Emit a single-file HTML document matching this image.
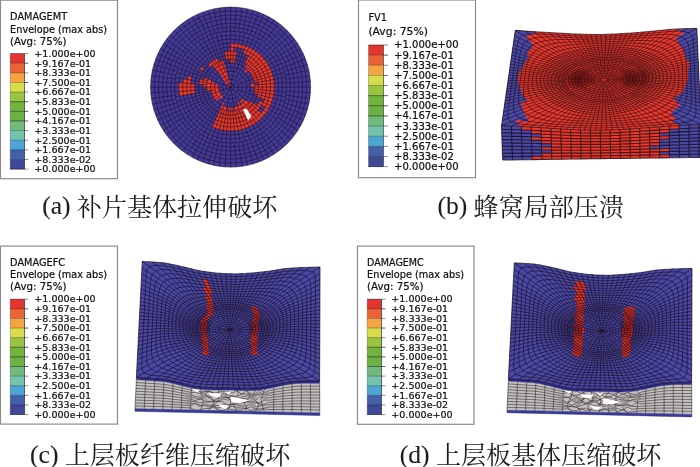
<!DOCTYPE html>
<html lang="zh">
<head>
<meta charset="utf-8">
<title>损伤云图</title>
<style>
html,body{margin:0;padding:0;background:#fff;}
body{width:700px;height:467px;overflow:hidden;position:relative;}
svg{position:absolute;left:0;top:0;display:block;}
.lg{font-family:"DejaVu Sans","Liberation Sans",sans-serif;fill:#111;stroke:#111;stroke-width:0.22px;}

.lat{font-size:25.6px;stroke:#1c1c1c;stroke-width:0.1px;}
.cap{font-family:"Liberation Serif","Noto Serif CJK SC",serif;font-size:25.05px;fill:#1c1c1c;font-weight:400;}
</style>
</head>
<body>
<svg width="700" height="467" viewBox="0 0 700 467">
<rect x="0" y="0" width="700" height="467" fill="#fff"/>
<defs><filter id="soft" x="-5%" y="-5%" width="110%" height="110%"><feGaussianBlur stdDeviation="0.6"/></filter><radialGradient id="dk"><stop offset="0" stop-color="#200" stop-opacity="0.5"/><stop offset="0.6" stop-color="#200" stop-opacity="0.3"/><stop offset="1" stop-color="#200" stop-opacity="0"/></radialGradient><radialGradient id="dk2"><stop offset="0" stop-color="#200" stop-opacity="0.12"/><stop offset="0.7" stop-color="#200" stop-opacity="0.06"/><stop offset="1" stop-color="#200" stop-opacity="0"/></radialGradient><radialGradient id="dk3"><stop offset="0" stop-color="#101" stop-opacity="0.3"/><stop offset="0.6" stop-color="#101" stop-opacity="0.18"/><stop offset="1" stop-color="#101" stop-opacity="0"/></radialGradient></defs>
<g filter="url(#soft)"><circle cx="230.6" cy="87.1" r="80.0" fill="#413a9a"/>
<path d="M230.6 87.1L226.7 86.4A4 4 0 0 1 229.9 83.2L230.6 87.1ZM227.5 84.5L224.5 82A8 8 0 0 1 228.5 79.4L229.6 83.2A4 4 0 0 0 227.5 84.5ZM224.9 81.4L222.1 78.6A12 12 0 0 1 227.5 75.5L228.5 79.4A8 8 0 0 0 224.9 81.4ZM218.6 87.1L214.6 87.1A16 16 0 0 1 214.8 84.3L218.8 85A12 12 0 0 0 218.6 87.1ZM222.9 77.9L220.3 74.8A16 16 0 0 1 226.5 71.6L227.5 75.5A12 12 0 0 0 222.9 77.9ZM222.9 96.3L220.3 99.4A16 16 0 0 1 214.6 87.1L218.6 87.1A12 12 0 0 0 222.9 96.3ZM214.6 87.1L210.6 87.1A20 20 0 0 1 211.3 81.9L215.1 83A16 16 0 0 0 214.6 87.1ZM220.3 74.8L217.7 71.8A20 20 0 0 1 225.4 67.8L226.5 71.6A16 16 0 0 0 220.3 74.8ZM241.9 98.4L244.7 101.2A20 20 0 0 1 242.1 103.5L239.8 100.2A16 16 0 0 0 241.9 98.4ZM238.6 101L240.6 104.4A20 20 0 0 1 239.1 105.2L237.4 101.6A16 16 0 0 0 238.6 101ZM225.1 102.1L223.8 105.9A20 20 0 0 1 222.1 105.2L223.8 101.6A16 16 0 0 0 225.1 102.1ZM219.3 98.4L216.5 101.2A20 20 0 0 1 210.6 87.1L214.6 87.1A16 16 0 0 0 219.3 98.4ZM210.6 87.1L206.6 87.1A24 24 0 0 1 208 78.9L211.8 80.3A20 20 0 0 0 210.6 87.1ZM217.7 71.8L215.2 68.7A24 24 0 0 1 224.4 63.9L225.4 67.8A20 20 0 0 0 217.7 71.8ZM243.5 71.8L246 68.7A24 24 0 0 1 247.6 70.1L244.7 73A20 20 0 0 0 243.5 71.8ZM250.3 83.6L254.2 82.9A24 24 0 0 1 254.6 87.1L250.6 87.1A20 20 0 0 0 250.3 83.6ZM245.9 100L249 102.5A24 24 0 0 1 234.8 110.7L234.1 106.8A20 20 0 0 0 245.9 100ZM232.3 107L232.7 111A24 24 0 0 1 228.5 111L228.9 107A20 20 0 0 0 232.3 107ZM227.1 106.8L226.4 110.7A24 24 0 0 1 220.5 108.9L222.1 105.2A20 20 0 0 0 227.1 106.8ZM210.9 90.6L207 91.3A24 24 0 0 1 206.6 87.1L210.6 87.1A20 20 0 0 0 210.9 90.6ZM206.6 87.1L202.6 87.1A28 28 0 0 1 204.3 77.5L208 78.9A24 24 0 0 0 206.6 87.1ZM215.2 68.7L212.6 65.7A28 28 0 0 1 223.4 60.1L224.4 63.9A24 24 0 0 0 215.2 68.7ZM230.6 63.1L230.6 59.1A28 28 0 0 1 235.5 59.5L234.8 63.5A24 24 0 0 0 230.6 63.1ZM244.4 67.4L246.7 64.2A28 28 0 0 1 258.2 82.2L254.2 82.9A24 24 0 0 0 244.4 67.4ZM254.5 85L258.5 84.7A28 28 0 0 1 257.6 94.3L253.8 93.3A24 24 0 0 0 254.5 85ZM250.3 100.9L253.5 103.2A28 28 0 0 1 218.8 112.5L220.5 108.9A24 24 0 0 0 250.3 100.9ZM202.7 84.7L198.7 84.3A32 32 0 0 1 199.7 78.8L203.6 79.9A28 28 0 0 0 202.7 84.7ZM210.8 67.3L208 64.5A32 32 0 0 1 217.1 58.1L218.8 61.7A28 28 0 0 0 210.8 67.3ZM225.7 59.5L225 55.6A32 32 0 0 1 236.2 55.6L235.5 59.5A28 28 0 0 0 225.7 59.5ZM244.6 62.9L246.6 59.4A32 32 0 0 1 260.7 98L256.9 96.7A28 28 0 0 0 244.6 62.9ZM253.5 103.2L256.8 105.5A32 32 0 0 1 217.1 116.1L218.8 112.5A28 28 0 0 0 253.5 103.2ZM202.9 71.1L199.4 69.1A36 36 0 0 1 201.1 66.5L204.4 68.7A32 32 0 0 0 202.9 71.1ZM225 55.6L224.3 51.6A36 36 0 0 1 236.9 51.6L236.2 55.6A32 32 0 0 0 225 55.6ZM246.6 59.4L248.6 55.9A36 36 0 0 1 264.4 99.4L260.7 98A32 32 0 0 0 246.6 59.4ZM259.6 100.6L263.2 102.3A36 36 0 0 1 215.4 119.7L217.1 116.1A32 32 0 0 0 259.6 100.6ZM194.6 87.1L190.6 87.1A40 40 0 0 1 190.8 83.6L194.7 84A36 36 0 0 0 194.6 87.1ZM230.6 51.1L230.6 47.1A40 40 0 0 1 234.1 47.3L233.7 51.2A36 36 0 0 0 230.6 51.1ZM242.9 53.3L244.3 49.5A40 40 0 0 1 265.2 107.1L261.8 105.1A36 36 0 0 0 242.9 53.3ZM258.2 110.2L261.2 112.8A40 40 0 0 1 213.7 123.4L215.4 119.7A36 36 0 0 0 258.2 110.2ZM195.1 93.4L191.2 94A40 40 0 0 1 190.6 87.1L194.6 87.1A36 36 0 0 0 195.1 93.4ZM190.6 87.1L186.6 87.1A44 44 0 0 1 188.1 75.7L192 76.7A40 40 0 0 0 190.6 87.1ZM230.6 47.1L230.6 43.1A44 44 0 0 1 273.9 94.7L270 94A40 40 0 0 0 230.6 47.1ZM270 94L273.9 94.7A44 44 0 0 1 215.6 128.4L216.9 124.7A40 40 0 0 0 270 94ZM216.9 124.7L215.6 128.4A44 44 0 0 1 212 127L213.7 123.4A40 40 0 0 0 216.9 124.7ZM191.2 94L187.3 94.7A44 44 0 0 1 186.6 87.1L190.6 87.1A40 40 0 0 0 191.2 94ZM186.6 87.1L182.6 87.1A48 48 0 0 1 183.3 78.8L187.3 79.5A44 44 0 0 0 186.6 87.1ZM187.3 94.7L183.3 95.4A48 48 0 0 1 182.6 87.1L186.6 87.1A44 44 0 0 0 187.3 94.7ZM182.6 87.1L178.6 87.1A52 52 0 0 1 178.8 82.6L182.8 82.9A48 48 0 0 0 182.6 87.1ZM183.3 95.4L179.4 96.1A52 52 0 0 1 178.6 87.1L182.6 87.1A48 48 0 0 0 183.3 95.4Z" fill="#ea382c"/>
<path d="M226.6 87.1A4 4 0 1 0 234.6 87.1A4 4 0 1 0 226.6 87.1M222.6 87.1A8 8 0 1 0 238.6 87.1A8 8 0 1 0 222.6 87.1M218.6 87.1A12 12 0 1 0 242.6 87.1A12 12 0 1 0 218.6 87.1M214.6 87.1A16 16 0 1 0 246.6 87.1A16 16 0 1 0 214.6 87.1M210.6 87.1A20 20 0 1 0 250.6 87.1A20 20 0 1 0 210.6 87.1M206.6 87.1A24 24 0 1 0 254.6 87.1A24 24 0 1 0 206.6 87.1M202.6 87.1A28 28 0 1 0 258.6 87.1A28 28 0 1 0 202.6 87.1M198.6 87.1A32 32 0 1 0 262.6 87.1A32 32 0 1 0 198.6 87.1M194.6 87.1A36 36 0 1 0 266.6 87.1A36 36 0 1 0 194.6 87.1M190.6 87.1A40 40 0 1 0 270.6 87.1A40 40 0 1 0 190.6 87.1M186.6 87.1A44 44 0 1 0 274.6 87.1A44 44 0 1 0 186.6 87.1M182.6 87.1A48 48 0 1 0 278.6 87.1A48 48 0 1 0 182.6 87.1M178.6 87.1A52 52 0 1 0 282.6 87.1A52 52 0 1 0 178.6 87.1M174.6 87.1A56 56 0 1 0 286.6 87.1A56 56 0 1 0 174.6 87.1M170.6 87.1A60 60 0 1 0 290.6 87.1A60 60 0 1 0 170.6 87.1M166.6 87.1A64 64 0 1 0 294.6 87.1A64 64 0 1 0 166.6 87.1M162.6 87.1A68 68 0 1 0 298.6 87.1A68 68 0 1 0 162.6 87.1M158.6 87.1A72 72 0 1 0 302.6 87.1A72 72 0 1 0 158.6 87.1M154.6 87.1A76 76 0 1 0 306.6 87.1A76 76 0 1 0 154.6 87.1M230.6 87.1L286.6 87.1M254.5 89.2L286.4 92M246.4 89.9L285.7 96.8M253.8 93.3L284.7 101.6M238.1 89.8L283.2 106.3M252.4 97.2L281.4 110.8M244.5 95.1L279.1 115.1M250.3 100.9L276.5 119.2M230.6 87.1L273.5 123.1M247.6 104.1L270.2 126.7M240.9 99.4L266.6 130M244.4 106.8L262.7 133M234.6 94L258.6 135.6M240.7 108.9L254.3 137.9M236.1 102.1L249.8 139.7M236.8 110.3L245.1 141.2M230.6 87.1L240.3 142.2M232.7 111L235.5 142.9M230.6 103.1L230.6 143.1M228.5 111L225.7 142.9M229.2 95L220.9 142.2M224.4 110.3L216.1 141.2M225.1 102.1L211.4 139.7M220.5 108.9L206.9 137.9M230.6 87.1L202.6 135.6M216.8 106.8L198.5 133M220.3 99.4L194.6 130M213.6 104.1L191 126.7M224.5 92.2L187.7 123.1M210.9 100.9L184.7 119.2M216.7 95.1L182.1 115.1M208.8 97.2L179.8 110.8M230.6 87.1L178 106.3M207.4 93.3L176.5 101.6M214.8 89.9L175.5 96.8M206.7 89.2L174.8 92M222.6 87.1L174.6 87.1M206.7 85L174.8 82.2M214.8 84.3L175.5 77.4M207.4 80.9L176.5 72.6M230.6 87.1L178 67.9M208.8 77L179.8 63.4M216.7 79.1L182.1 59.1M210.9 73.3L184.7 55M224.5 82L187.7 51.1M213.6 70.1L191 47.5M220.3 74.8L194.6 44.2M216.8 67.4L198.5 41.2M230.6 87.1L202.6 38.6M220.5 65.3L206.9 36.3M225.1 72.1L211.4 34.5M224.4 63.9L216.1 33M229.2 79.2L220.9 32M228.5 63.2L225.7 31.3M230.6 71.1L230.6 31.1M232.7 63.2L235.5 31.3M230.6 87.1L240.3 32M236.8 63.9L245.1 33M236.1 72.1L249.8 34.5M240.7 65.3L254.3 36.3M234.6 80.2L258.6 38.6M244.4 67.4L262.7 41.2M240.9 74.8L266.6 44.2M247.6 70.1L270.2 47.5M230.6 87.1L273.5 51.1M250.3 73.3L276.5 55M244.5 79.1L279.1 59.1M252.4 77L281.4 63.4M238.1 84.4L283.2 67.9M253.8 80.9L284.7 72.6M246.4 84.3L285.7 77.4M254.5 85L286.4 82.2M286.6 87.1L310.6 87.1M286.5 91.1L310.4 92.8M286 95.1L309.8 98.5M285.3 99L308.8 104.1M284.3 102.9L307.4 109.6M283.1 106.7L305.6 115.1M281.5 110.4L303.4 120.3M279.8 113.9L300.8 125.4M277.7 117.4L297.9 130.4M275.4 120.7L294.6 135M272.9 123.8L291.1 139.5M270.2 126.7L287.2 143.7M267.3 129.4L283 147.6M264.2 131.9L278.5 151.1M260.9 134.2L273.9 154.4M257.4 136.3L268.9 157.3M253.9 138L263.8 159.9M250.2 139.6L258.6 162.1M246.4 140.8L253.1 163.9M242.5 141.8L247.6 165.3M238.6 142.5L242 166.3M234.6 143L236.3 166.9M230.6 143.1L230.6 167.1M226.6 143L224.9 166.9M222.6 142.5L219.2 166.3M218.7 141.8L213.6 165.3M214.8 140.8L208.1 163.9M211 139.6L202.6 162.1M207.3 138L197.4 159.9M203.8 136.3L192.3 157.3M200.3 134.2L187.3 154.4M197 131.9L182.7 151.1M193.9 129.4L178.2 147.6M191 126.7L174 143.7M188.3 123.8L170.1 139.5M185.8 120.7L166.6 135M183.5 117.4L163.3 130.4M181.4 113.9L160.4 125.4M179.7 110.4L157.8 120.3M178.1 106.7L155.6 115.1M176.9 102.9L153.8 109.6M175.9 99L152.4 104.1M175.2 95.1L151.4 98.5M174.7 91.1L150.8 92.8M174.6 87.1L150.6 87.1M174.7 83.1L150.8 81.4M175.2 79.1L151.4 75.7M175.9 75.2L152.4 70.1M176.9 71.3L153.8 64.6M178.1 67.5L155.6 59.1M179.7 63.8L157.8 53.9M181.4 60.3L160.4 48.8M183.5 56.8L163.3 43.8M185.8 53.5L166.6 39.2M188.3 50.4L170.1 34.7M191 47.5L174 30.5M193.9 44.8L178.2 26.6M197 42.3L182.7 23.1M200.3 40L187.3 19.8M203.8 37.9L192.3 16.9M207.3 36.2L197.4 14.3M211 34.6L202.6 12.1M214.8 33.4L208.1 10.3M218.7 32.4L213.6 8.9M222.6 31.7L219.2 7.9M226.6 31.2L224.9 7.3M230.6 31.1L230.6 7.1M234.6 31.2L236.3 7.3M238.6 31.7L242 7.9M242.5 32.4L247.6 8.9M246.4 33.4L253.1 10.3M250.2 34.6L258.6 12.1M253.9 36.2L263.8 14.3M257.4 37.9L268.9 16.9M260.9 40L273.9 19.8M264.2 42.3L278.5 23.1M267.3 44.8L283 26.6M270.2 47.5L287.2 30.5M272.9 50.4L291.1 34.7M275.4 53.5L294.6 39.2M277.7 56.8L297.9 43.8M279.8 60.3L300.8 48.8M281.5 63.8L303.4 53.9M283.1 67.5L305.6 59.1M284.3 71.3L307.4 64.6M285.3 75.2L308.8 70.1M286 79.1L309.8 75.7M286.5 83.1L310.4 81.4" fill="none" stroke="#24101c" stroke-width="0.85" opacity="0.7"/>
<circle cx="230.6" cy="87.1" r="80.0" fill="none" stroke="#180a14" stroke-width="0.9" opacity="0.6"/>
<path d="M243 109.4L246.4 108.6 251.5 116.5 248.1 120.2Z" fill="#fff"/></g>
<g filter="url(#soft)"><path d="M501.5 125.8L504 125.9 506.6 126 509.1 126 511.6 126.1 514.1 126.2 516.7 126.3 519.2 126.4 521.7 126.5 524.2 126.6 526.8 126.8 529.3 126.9 531.8 127.1 534.3 127.2 536.9 127.4 539.4 127.6 541.9 127.7 544.4 127.9 547 128.1 549.5 128.3 552 128.4 554.5 128.6 557.1 128.8 559.6 128.9 562.1 129.1 564.6 129.2 567.2 129.4 569.7 129.5 572.2 129.6 574.7 129.7 577.3 129.9 579.8 130 582.3 130 584.8 130.1 587.4 130.1 589.9 130.1 592.4 130.2 594.9 130.2 597.5 130.2 600 130.2 602.5 130.2 605 130.1 607.6 130 610.1 129.9 612.6 129.9 615.1 129.8 617.7 129.7 620.2 129.5 622.7 129.4 625.2 129.2 627.8 129.1 630.3 128.9 632.8 128.7 635.3 128.5 637.9 128.3 640.4 128.2 642.9 128 645.4 127.8 648 127.6 650.5 127.5 653 127.3 655.5 127.1 658.1 126.9 660.6 126.8 663.1 126.6 665.6 126.4 668.2 126.2 670.7 126.1 673.2 125.9 675.7 125.7 678.3 125.5 680.8 125.4 683.3 125.2 685.8 125.1 688.4 125 690.9 124.8 693.4 124.7 695.9 124.6 698.5 124.4 701 124.3 701 157.4 690.6 157.5 680.1 157.6 669.7 157.8 659.3 157.9 648.8 158 638.4 158.1 627.9 158.3 617.5 158.4 607.1 158.5 596.6 158.7 586.2 158.8 575.8 158.9 565.3 159.1 554.9 159.2 544.4 159.4 534 159.5 523.6 159.7 513.1 159.8 502.7 160Z" fill="#4849a8"/>
<path d="M521.2 126.5L531.1 127 541 127.7 550.9 128.4 560.7 129 570.6 129.5 580.5 130 590.3 130.2 600.2 130.2 610.1 129.9 619.9 129.6 629.8 128.9 639.7 128.2 649.5 127.5 659.4 126.8 669.3 126.1 679.2 125.5 679.2 128.7 669.3 129.3 659.4 129.9 649.6 130.6 639.7 131.2 629.9 131.8 620 132.4 610.1 132.8 600.3 133.1 590.4 133 580.5 132.9 570.7 132.5 560.8 132 550.9 131.5 541.1 130.9 531.2 130.3 521.3 129.8ZM531.2 130.3L541.1 130.9 550.9 131.5 560.8 132 570.7 132.5 580.5 132.9 590.4 133 600.3 133.1 610.1 132.8 620 132.4 629.9 131.8 639.7 131.2 649.6 130.6 659.4 129.9 669.3 129.3 669.3 132.5 659.5 133.1 649.6 133.6 639.8 134.2 629.9 134.8 620 135.3 610.2 135.7 600.3 135.9 590.5 135.9 580.6 135.7 570.7 135.4 560.9 135 551 134.5 541.2 134 531.3 133.6ZM541.2 134L551 134.5 560.9 135 570.7 135.4 580.6 135.7 590.5 135.9 600.3 135.9 610.2 135.7 620 135.3 629.9 134.8 639.8 134.2 649.6 133.6 659.5 133.1 659.5 136.2 649.6 136.7 639.8 137.2 629.9 137.7 620.1 138.2 610.2 138.5 600.4 138.7 590.5 138.7 580.7 138.6 570.8 138.4 561 138.1 551.1 137.6 541.3 137.2ZM531.4 136.8L541.3 137.2 551.1 137.6 561 138.1 570.8 138.4 580.7 138.6 590.5 138.7 600.4 138.7 610.2 138.5 620.1 138.2 629.9 137.7 639.8 137.2 649.6 136.7 659.5 136.2 669.3 135.6 669.4 138.8 659.5 139.3 649.7 139.7 639.8 140.2 630 140.6 620.1 141.1 610.3 141.4 600.4 141.6 590.6 141.6 580.7 141.5 570.9 141.3 561.1 141.1 551.2 140.7 541.4 140.4 531.5 140.1ZM541.4 140.4L551.2 140.7 561.1 141.1 570.9 141.3 580.7 141.5 590.6 141.6 600.4 141.6 610.3 141.4 620.1 141.1 630 140.6 639.8 140.2 649.7 139.7 659.5 139.3 659.5 142.4 649.7 142.8 639.9 143.2 630 143.6 620.2 144 610.3 144.2 600.5 144.4 590.7 144.4 580.8 144.4 571 144.3 561.1 144.1 551.3 143.8 541.5 143.6ZM551.3 143.8L561.1 144.1 571 144.3 580.8 144.4 590.7 144.4 600.5 144.4 610.3 144.2 620.2 144 630 143.6 639.9 143.2 649.7 142.8 659.5 142.4 659.6 145.5 649.7 145.8 639.9 146.2 630.1 146.5 620.2 146.8 610.4 147.1 600.6 147.2 590.7 147.3 580.9 147.3 571.1 147.2 561.2 147.1 551.4 146.9ZM541.6 146.7L551.4 146.9 561.2 147.1 571.1 147.2 580.9 147.3 590.7 147.3 600.6 147.2 610.4 147.1 620.2 146.8 630.1 146.5 639.9 146.2 649.7 145.8 649.8 148.9 639.9 149.2 630.1 149.4 620.3 149.7 610.4 149.9 600.6 150.1 590.8 150.2 581 150.2 571.1 150.2 561.3 150.1 551.5 150 541.7 149.9ZM551.5 150L561.3 150.1 571.1 150.2 581 150.2 590.8 150.2 600.6 150.1 610.4 149.9 620.3 149.7 630.1 149.4 639.9 149.2 649.8 148.9 659.6 148.6 669.4 148.3 669.4 151.4 659.6 151.7 649.8 151.9 640 152.1 630.1 152.4 620.3 152.6 610.5 152.8 600.7 152.9 590.9 153 581 153.1 571.2 153.1 561.4 153.1 551.6 153.1ZM541.7 153.1L551.6 153.1 561.4 153.1 571.2 153.1 581 153.1 590.9 153 600.7 152.9 610.5 152.8 620.3 152.6 630.1 152.4 640 152.1 649.8 151.9 659.6 151.7 659.6 154.8 649.8 155 640 155.1 630.2 155.3 620.4 155.5 610.6 155.6 600.7 155.8 590.9 155.9 581.1 156 571.3 156.1 561.5 156.1 551.7 156.2 541.8 156.3ZM532 156.3L541.8 156.3 551.7 156.2 561.5 156.1 571.3 156.1 581.1 156 590.9 155.9 600.7 155.8 610.6 155.6 620.4 155.5 630.2 155.3 640 155.1 649.8 155 659.6 154.8 669.5 154.6 669.5 157.8 659.7 157.9 649.9 158 640 158.1 630.2 158.2 620.4 158.4 610.6 158.5 600.8 158.6 591 158.7 581.2 158.9 571.4 159 561.6 159.2 551.8 159.3 541.9 159.4 532.1 159.6Z" fill="#ea382c" stroke="#ea382c" stroke-width="0.2"/>
<path d="M501.5 125.8L502.7 160M511.4 126.1L512.5 159.9M521.2 126.5L522.3 159.7M531.1 127L532.1 159.6M541 127.7L541.9 159.4M550.9 128.4L551.8 159.3M560.7 129L561.6 159.2M570.6 129.5L571.4 159M580.5 130L581.2 158.9M590.3 130.2L591 158.7M600.2 130.2L600.8 158.6M610.1 129.9L610.6 158.5M619.9 129.6L620.4 158.4M629.8 128.9L630.2 158.2M639.7 128.2L640 158.1M649.5 127.5L649.9 158M659.4 126.8L659.7 157.9M669.3 126.1L669.5 157.8M679.2 125.5L679.3 157.7M689 124.9L689.1 157.5M698.9 124.4L698.9 157.4M708.8 124.3L708.7 157.4M501.6 129.2L511.5 129.5 521.3 129.8 531.2 130.3 541.1 130.9 550.9 131.5 560.8 132 570.7 132.5 580.5 132.9 590.4 133 600.3 133.1 610.1 132.8 620 132.4 629.9 131.8 639.7 131.2 649.6 130.6 659.4 129.9 669.3 129.3 679.2 128.7 689 128.2 698.9 127.7 708.8 127.6M501.7 132.6L511.6 132.9 521.5 133.1 531.3 133.6 541.2 134 551 134.5 560.9 135 570.7 135.4 580.6 135.7 590.5 135.9 600.3 135.9 610.2 135.7 620 135.3 629.9 134.8 639.8 134.2 649.6 133.6 659.5 133.1 669.3 132.5 679.2 131.9 689 131.4 698.9 131 708.8 130.9M501.9 136.1L511.7 136.2 521.6 136.4 531.4 136.8 541.3 137.2 551.1 137.6 561 138.1 570.8 138.4 580.7 138.6 590.5 138.7 600.4 138.7 610.2 138.5 620.1 138.2 629.9 137.7 639.8 137.2 649.6 136.7 659.5 136.2 669.3 135.6 679.2 135.1 689 134.7 698.9 134.3 708.8 134.2M502 139.5L511.8 139.6 521.7 139.8 531.5 140.1 541.4 140.4 551.2 140.7 561.1 141.1 570.9 141.3 580.7 141.5 590.6 141.6 600.4 141.6 610.3 141.4 620.1 141.1 630 140.6 639.8 140.2 649.7 139.7 659.5 139.3 669.4 138.8 679.2 138.3 689.1 138 698.9 137.6 708.7 137.5M502.1 142.9L511.9 143 521.8 143.1 531.6 143.3 541.5 143.6 551.3 143.8 561.1 144.1 571 144.3 580.8 144.4 590.7 144.4 600.5 144.4 610.3 144.2 620.2 144 630 143.6 639.9 143.2 649.7 142.8 659.5 142.4 669.4 142 679.2 141.6 689.1 141.2 698.9 140.9 708.7 140.8M502.2 146.3L512.1 146.4 521.9 146.4 531.7 146.6 541.6 146.7 551.4 146.9 561.2 147.1 571.1 147.2 580.9 147.3 590.7 147.3 600.6 147.2 610.4 147.1 620.2 146.8 630.1 146.5 639.9 146.2 649.7 145.8 659.6 145.5 669.4 145.1 679.2 144.8 689.1 144.5 698.9 144.2 708.7 144.2M502.3 149.7L512.2 149.7 522 149.7 531.8 149.8 541.7 149.9 551.5 150 561.3 150.1 571.1 150.2 581 150.2 590.8 150.2 600.6 150.1 610.4 149.9 620.3 149.7 630.1 149.4 639.9 149.2 649.8 148.9 659.6 148.6 669.4 148.3 679.2 148 689.1 147.8 698.9 147.5 708.7 147.5M502.5 153.2L512.3 153.1 522.1 153.1 531.9 153.1 541.7 153.1 551.6 153.1 561.4 153.1 571.2 153.1 581 153.1 590.9 153 600.7 152.9 610.5 152.8 620.3 152.6 630.1 152.4 640 152.1 649.8 151.9 659.6 151.7 669.4 151.4 679.3 151.2 689.1 151 698.9 150.8 708.7 150.8M502.6 156.6L512.4 156.5 522.2 156.4 532 156.3 541.8 156.3 551.7 156.2 561.5 156.1 571.3 156.1 581.1 156 590.9 155.9 600.7 155.8 610.6 155.6 620.4 155.5 630.2 155.3 640 155.1 649.8 155 659.6 154.8 669.5 154.6 679.3 154.4 689.1 154.3 698.9 154.1 708.7 154.1M502.7 160L512.5 159.9 522.3 159.7 532.1 159.6 541.9 159.4 551.8 159.3 561.6 159.2 571.4 159 581.2 158.9 591 158.7 600.8 158.6 610.6 158.5 620.4 158.4 630.2 158.2 640 158.1 649.9 158 659.7 157.9 669.5 157.8 679.3 157.7 689.1 157.5 698.9 157.4 708.7 157.4" fill="none" stroke="#180a14" stroke-width="1.1" opacity="0.78"/>
<path d="M515.3 30.3L517.6 30.5 519.9 30.6 522.2 30.8 524.5 31 526.8 31.1 529.1 31.3 531.4 31.5 533.7 31.6 536 31.8 538.3 31.9 540.6 32.1 542.9 32.2 545.2 32.3 547.5 32.4 549.8 32.6 552.1 32.7 554.4 32.8 556.7 33 559 33.1 561.2 33.2 563.5 33.3 565.8 33.5 568.1 33.6 570.4 33.7 572.7 33.9 575 34 577.3 34.1 579.6 34.1 581.9 34.2 584.2 34.3 586.5 34.3 588.8 34.4 591.1 34.5 593.4 34.5 595.7 34.5 598 34.5 600.3 34.5 602.6 34.4 604.9 34.3 607.2 34.2 609.5 34.2 611.8 34.1 614.1 34 616.4 33.9 618.7 33.8 621 33.6 623.3 33.5 625.6 33.3 627.9 33.2 630.2 33.1 632.5 32.9 634.8 32.7 637.1 32.6 639.4 32.4 641.7 32.1 644 31.9 646.3 31.7 648.6 31.5 650.9 31.3 653.1 31.1 655.4 30.9 657.7 30.6 660 30.4 662.3 30.2 664.6 29.9 666.9 29.7 669.2 29.5 671.5 29.3 673.8 29.2 676.1 29.1 678.4 28.9 680.7 28.8 683 28.7 685.3 28.6 687.6 28.5 689.9 28.5 692.2 28.4 694.5 28.4 696.8 28.3 701 124.3 698.5 124.4 695.9 124.6 693.4 124.7 690.9 124.8 688.4 125 685.8 125.1 683.3 125.2 680.8 125.4 678.3 125.5 675.7 125.7 673.2 125.9 670.7 126.1 668.2 126.2 665.6 126.4 663.1 126.6 660.6 126.8 658.1 126.9 655.5 127.1 653 127.3 650.5 127.5 648 127.6 645.4 127.8 642.9 128 640.4 128.2 637.9 128.3 635.3 128.5 632.8 128.7 630.3 128.9 627.8 129.1 625.2 129.2 622.7 129.4 620.2 129.5 617.7 129.7 615.1 129.8 612.6 129.9 610.1 129.9 607.6 130 605 130.1 602.5 130.2 600 130.2 597.5 130.2 594.9 130.2 592.4 130.2 589.9 130.1 587.4 130.1 584.8 130.1 582.3 130 579.8 130 577.3 129.9 574.7 129.7 572.2 129.6 569.7 129.5 567.2 129.4 564.6 129.2 562.1 129.1 559.6 128.9 557.1 128.8 554.5 128.6 552 128.4 549.5 128.3 547 128.1 544.4 127.9 541.9 127.7 539.4 127.6 536.9 127.4 534.3 127.2 531.8 127.1 529.3 126.9 526.8 126.8 524.2 126.6 521.7 126.5 519.2 126.4 516.7 126.3 514.1 126.2 511.6 126.1 509.1 126 506.6 126 504 125.9 501.5 125.8Z" fill="#ea382c"/>
<path d="M515.3 30.3L537.4 32 525.6 36.8 531.5 42.7 532.7 46.8 526.8 52.7 529.2 56.8 523.3 65 518.6 73.3 518 80 518.6 84.4 522 93.8 527.4 100.3 520.3 103.3 524.4 113.9 529.2 122.1 515.6 119.8 520.3 125.9 501.5 125.8ZM696.8 28.3L677.4 29.7 684.5 33.8 675.6 37.4 679.2 43.8 683.9 50.9 686.8 60.3 689.8 62.7 688 72.1 688 80 686.2 84.4 682.7 92.7 673.3 98.6 680.3 104.4 670.3 113.9 676.8 119.2 670.3 120.3 679.2 125.2 701 124.3Z" fill="#4849a8"/>
<path d="M607 79.8L607 79.9 607 79.9 606.9 80 606.9 80.1 606.9 80.2 606.8 80.3 606.7 80.4 606.6 80.5 606.6 80.6 606.5 80.6 606.4 80.7 606.2 80.8 606.1 80.9 606 80.9 605.9 81 605.7 81.1 605.6 81.1 605.4 81.2 605.3 81.2 605.1 81.3 604.9 81.3 604.8 81.4 604.6 81.4 604.4 81.4 604.2 81.4 604.1 81.5 603.9 81.5 603.7 81.5 603.5 81.5 603.3 81.5 603.1 81.5 603 81.5 602.8 81.4 602.6 81.4 602.5 81.4 602.3 81.4 602.1 81.3 602 81.3 601.8 81.2 601.7 81.2 601.6 81.1 601.4 81.1 601.3 81 601.2 80.9 601.1 80.9 601 80.8 600.9 80.7 600.8 80.6 600.8 80.5 600.7 80.5 600.6 80.4 600.6 80.3 600.6 80.2 600.5 80.1 600.5 80 600.5 79.9 600.5 79.8 600.6 79.7 600.6 79.6 600.6 79.6 600.7 79.5 600.7 79.4 600.8 79.3 600.9 79.2 601 79.1 601.1 79 601.2 79 601.3 78.9 601.4 78.8 601.5 78.8 601.7 78.7 601.8 78.6 602 78.6 602.1 78.5 602.3 78.5 602.4 78.4 602.6 78.4 602.8 78.3 603 78.3 603.1 78.3 603.3 78.3 603.5 78.2 603.7 78.2 603.9 78.2 604 78.2 604.2 78.2 604.4 78.2 604.6 78.2 604.7 78.3 604.9 78.3 605.1 78.3 605.2 78.3 605.4 78.4 605.6 78.4 605.7 78.5 605.8 78.5 606 78.6 606.1 78.6 606.2 78.7 606.3 78.8 606.4 78.8 606.5 78.9 606.6 79 606.7 79.1 606.8 79.1 606.8 79.2 606.9 79.3 606.9 79.4 607 79.5 607 79.6 607 79.7ZM610.2 79.7L610.2 79.8 610.2 80 610.1 80.2 610 80.4 609.9 80.6 609.8 80.8 609.7 80.9 609.5 81.1 609.4 81.3 609.2 81.4 609 81.6 608.7 81.7 608.5 81.9 608.2 82 608 82.2 607.7 82.3 607.4 82.4 607.1 82.5 606.8 82.6 606.4 82.7 606.1 82.8 605.8 82.9 605.4 83 605.1 83 604.7 83.1 604.3 83.1 604 83.1 603.6 83.1 603.2 83.1 602.9 83.1 602.5 83.1 602.2 83.1 601.8 83 601.5 83 601.1 82.9 600.8 82.9 600.5 82.8 600.2 82.7 599.9 82.6 599.6 82.5 599.3 82.4 599.1 82.2 598.8 82.1 598.6 82 598.4 81.8 598.2 81.7 598 81.5 597.9 81.4 597.7 81.2 597.6 81 597.5 80.9 597.4 80.7 597.4 80.5 597.3 80.3 597.3 80.1 597.3 80 597.3 79.8 597.4 79.6 597.4 79.4 597.5 79.2 597.6 79.1 597.7 78.9 597.9 78.7 598 78.5 598.2 78.4 598.4 78.2 598.6 78.1 598.8 77.9 599.1 77.8 599.3 77.6 599.6 77.5 599.9 77.4 600.2 77.3 600.5 77.2 600.8 77.1 601.1 77 601.5 76.9 601.8 76.8 602.1 76.8 602.5 76.7 602.9 76.7 603.2 76.6 603.6 76.6 603.9 76.6 604.3 76.6 604.7 76.6 605 76.6 605.4 76.6 605.7 76.7 606.1 76.7 606.4 76.8 606.7 76.8 607 76.9 607.3 77 607.6 77.1 607.9 77.2 608.2 77.3 608.4 77.4 608.7 77.5 608.9 77.7 609.1 77.8 609.3 78 609.5 78.1 609.7 78.3 609.8 78.4 609.9 78.6 610 78.8 610.1 78.9 610.2 79.1 610.2 79.3 610.2 79.5ZM613.5 79.6L613.4 79.8 613.4 80.1 613.3 80.4 613.2 80.6 613 80.9 612.9 81.2 612.6 81.5 612.4 81.7 612.2 82 611.9 82.2 611.6 82.5 611.2 82.7 610.9 82.9 610.5 83.1 610.1 83.3 609.6 83.5 609.2 83.7 608.7 83.9 608.3 84 607.8 84.2 607.3 84.3 606.8 84.4 606.2 84.5 605.7 84.6 605.2 84.7 604.6 84.7 604.1 84.7 603.5 84.8 603 84.8 602.4 84.8 601.9 84.7 601.4 84.7 600.8 84.6 600.3 84.6 599.8 84.5 599.3 84.4 598.8 84.2 598.4 84.1 597.9 84 597.5 83.8 597.1 83.6 596.7 83.4 596.4 83.2 596 83 595.7 82.8 595.4 82.6 595.1 82.3 594.9 82.1 594.7 81.8 594.5 81.6 594.4 81.3 594.3 81.1 594.2 80.8 594.1 80.5 594.1 80.3 594.1 80 594.1 79.7 594.2 79.4 594.3 79.2 594.4 78.9 594.5 78.6 594.7 78.4 594.9 78.1 595.2 77.9 595.4 77.6 595.7 77.4 596 77.2 596.4 76.9 596.7 76.7 597.1 76.5 597.5 76.3 597.9 76.2 598.4 76 598.8 75.8 599.3 75.7 599.8 75.5 600.3 75.4 600.8 75.3 601.3 75.2 601.9 75.2 602.4 75.1 602.9 75 603.5 75 604 75 604.6 75 605.1 75 605.6 75 606.2 75 606.7 75.1 607.2 75.2 607.7 75.2 608.2 75.3 608.7 75.5 609.1 75.6 609.6 75.7 610 75.9 610.4 76 610.8 76.2 611.1 76.4 611.5 76.6 611.8 76.8 612.1 77 612.4 77.2 612.6 77.5 612.8 77.7 613 78 613.1 78.2 613.3 78.5 613.4 78.7 613.4 79 613.5 79.3ZM616.7 79.4L616.7 79.8 616.6 80.2 616.5 80.5 616.3 80.9 616.1 81.3 615.9 81.6 615.6 82 615.3 82.3 615 82.7 614.6 83 614.2 83.3 613.7 83.6 613.2 83.9 612.7 84.2 612.2 84.5 611.6 84.7 611 85 610.4 85.2 609.8 85.4 609.1 85.6 608.4 85.8 607.8 85.9 607.1 86.1 606.3 86.2 605.6 86.3 604.9 86.3 604.2 86.4 603.4 86.4 602.7 86.4 602 86.4 601.3 86.4 600.6 86.3 599.9 86.2 599.2 86.1 598.5 86 597.8 85.9 597.2 85.7 596.6 85.5 596 85.3 595.4 85.1 594.9 84.9 594.4 84.6 593.9 84.3 593.4 84.1 593 83.8 592.6 83.5 592.3 83.1 591.9 82.8 591.7 82.5 591.4 82.1 591.2 81.8 591.1 81.4 591 81.1 590.9 80.7 590.8 80.3 590.8 80 590.9 79.6 591 79.2 591.1 78.9 591.3 78.5 591.5 78.2 591.7 77.8 592 77.5 592.3 77.2 592.6 76.8 593 76.5 593.5 76.2 593.9 75.9 594.4 75.7 594.9 75.4 595.4 75.2 596 74.9 596.6 74.7 597.2 74.5 597.8 74.3 598.5 74.1 599.2 74 599.8 73.8 600.5 73.7 601.2 73.6 601.9 73.5 602.7 73.4 603.4 73.4 604.1 73.4 604.8 73.4 605.5 73.4 606.2 73.4 606.9 73.5 607.6 73.5 608.3 73.6 609 73.7 609.6 73.8 610.3 74 610.9 74.2 611.5 74.3 612 74.5 612.6 74.7 613.1 75 613.6 75.2 614 75.5 614.5 75.8 614.8 76 615.2 76.3 615.5 76.7 615.8 77 616 77.3 616.3 77.6 616.4 78 616.6 78.3 616.6 78.7 616.7 79.1ZM619.9 79.3L619.9 79.7 619.8 80.2 619.6 80.7 619.5 81.1 619.2 81.6 618.9 82 618.6 82.5 618.2 82.9 617.8 83.3 617.3 83.8 616.8 84.2 616.2 84.6 615.6 84.9 615 85.3 614.3 85.6 613.6 86 612.8 86.3 612.1 86.5 611.3 86.8 610.5 87 609.6 87.3 608.8 87.5 607.9 87.6 607 87.8 606.1 87.9 605.2 88 604.3 88 603.4 88.1 602.4 88.1 601.5 88.1 600.6 88 599.7 87.9 598.9 87.8 598 87.7 597.2 87.5 596.3 87.4 595.5 87.1 594.8 86.9 594 86.7 593.3 86.4 592.6 86.1 592 85.8 591.4 85.4 590.8 85.1 590.3 84.7 589.8 84.3 589.4 83.9 589 83.5 588.6 83.1 588.3 82.6 588.1 82.2 587.9 81.7 587.7 81.3 587.7 80.8 587.6 80.4 587.6 79.9 587.7 79.5 587.8 79 587.9 78.6 588.1 78.1 588.4 77.7 588.7 77.3 589 76.8 589.4 76.4 589.9 76 590.4 75.7 590.9 75.3 591.5 74.9 592.1 74.6 592.7 74.3 593.4 74 594.1 73.7 594.8 73.4 595.6 73.1 596.4 72.9 597.2 72.7 598 72.5 598.9 72.3 599.7 72.2 600.6 72 601.5 71.9 602.4 71.9 603.3 71.8 604.2 71.8 605.1 71.8 606 71.8 606.9 71.8 607.7 71.9 608.6 72 609.4 72.1 610.3 72.2 611.1 72.4 611.9 72.5 612.6 72.7 613.4 73 614.1 73.2 614.8 73.5 615.4 73.8 616 74.1 616.6 74.4 617.1 74.7 617.6 75.1 618 75.4 618.4 75.8 618.8 76.2 619.1 76.6 619.4 77.1 619.6 77.5 619.7 77.9 619.9 78.4 619.9 78.8ZM623.2 79.1L623.1 79.7 623 80.2 622.8 80.8 622.6 81.3 622.3 81.9 622 82.4 621.6 83 621.1 83.5 620.6 84 620 84.5 619.4 85 618.7 85.5 618 85.9 617.2 86.4 616.4 86.8 615.6 87.2 614.7 87.5 613.7 87.9 612.8 88.2 611.8 88.5 610.8 88.8 609.8 89 608.7 89.2 607.6 89.4 606.6 89.5 605.5 89.6 604.4 89.7 603.3 89.7 602.2 89.7 601.1 89.7 600 89.7 598.9 89.6 597.9 89.4 596.8 89.3 595.8 89.1 594.8 88.8 593.9 88.6 593 88.3 592.1 88 591.2 87.7 590.4 87.3 589.6 86.9 588.9 86.5 588.2 86.1 587.6 85.6 587 85.1 586.5 84.7 586 84.2 585.6 83.7 585.2 83.1 585 82.6 584.7 82.1 584.5 81.5 584.4 81 584.4 80.4 584.4 79.9 584.4 79.3 584.6 78.8 584.8 78.3 585 77.7 585.3 77.2 585.7 76.7 586.1 76.2 586.6 75.7 587.1 75.2 587.7 74.8 588.3 74.3 589 73.9 589.7 73.5 590.5 73.1 591.3 72.8 592.2 72.4 593 72.1 593.9 71.8 594.9 71.5 595.9 71.3 596.9 71 597.9 70.8 598.9 70.7 600 70.5 601 70.4 602.1 70.3 603.2 70.2 604.3 70.2 605.3 70.2 606.4 70.2 607.5 70.2 608.5 70.3 609.6 70.4 610.6 70.5 611.6 70.7 612.5 70.9 613.5 71.1 614.4 71.3 615.3 71.6 616.1 71.9 617 72.2 617.7 72.5 618.5 72.9 619.1 73.3 619.8 73.7 620.4 74.1 620.9 74.5 621.4 75 621.8 75.5 622.2 76 622.5 76.5 622.7 77 622.9 77.5 623.1 78 623.1 78.6ZM626.4 79L626.3 79.6 626.2 80.3 626 80.9 625.7 81.5 625.4 82.2 625 82.8 624.5 83.5 624 84.1 623.4 84.7 622.7 85.3 622 85.8 621.2 86.4 620.4 86.9 619.5 87.4 618.5 87.9 617.5 88.4 616.5 88.8 615.4 89.2 614.3 89.6 613.2 89.9 612 90.3 610.8 90.5 609.5 90.8 608.3 91 607 91.1 605.8 91.3 604.5 91.4 603.2 91.4 601.9 91.4 600.6 91.4 599.4 91.3 598.1 91.2 596.9 91 595.7 90.8 594.5 90.6 593.3 90.3 592.2 90 591.1 89.7 590.1 89.3 589.1 88.9 588.1 88.5 587.2 88 586.4 87.6 585.6 87.1 584.9 86.5 584.2 86 583.6 85.4 583 84.8 582.6 84.2 582.1 83.6 581.8 83 581.5 82.4 581.3 81.7 581.2 81.1 581.1 80.5 581.1 79.8 581.2 79.2 581.4 78.5 581.6 77.9 581.9 77.3 582.3 76.7 582.7 76.1 583.2 75.5 583.7 74.9 584.4 74.4 585 73.9 585.8 73.4 586.6 72.9 587.4 72.4 588.3 72 589.2 71.5 590.2 71.1 591.3 70.8 592.3 70.4 593.4 70.1 594.6 69.8 595.7 69.6 596.9 69.3 598.1 69.1 599.3 69 600.6 68.8 601.8 68.7 603.1 68.6 604.3 68.6 605.6 68.6 606.8 68.6 608.1 68.6 609.3 68.7 610.5 68.8 611.7 69 612.9 69.2 614 69.4 615.1 69.6 616.2 69.9 617.2 70.2 618.2 70.5 619.1 70.9 620 71.3 620.9 71.7 621.7 72.1 622.4 72.6 623.1 73.1 623.7 73.6 624.3 74.2 624.8 74.7 625.2 75.3 625.6 75.9 625.9 76.5 626.1 77.1 626.3 77.7 626.4 78.3ZM629.6 78.8L629.6 79.5 629.4 80.3 629.2 81 628.9 81.7 628.5 82.5 628 83.2 627.5 83.9 626.9 84.6 626.2 85.3 625.5 86 624.6 86.7 623.7 87.3 622.8 87.9 621.7 88.5 620.7 89.1 619.5 89.6 618.3 90.1 617.1 90.6 615.8 91 614.5 91.4 613.2 91.7 611.8 92.1 610.4 92.3 608.9 92.6 607.5 92.8 606 92.9 604.6 93 603.1 93.1 601.6 93.1 600.2 93 598.7 93 597.3 92.8 595.9 92.6 594.5 92.4 593.1 92.1 591.8 91.8 590.5 91.5 589.3 91.1 588.1 90.7 587 90.2 585.9 89.7 584.9 89.2 583.9 88.6 583 88 582.1 87.4 581.4 86.8 580.7 86.1 580.1 85.5 579.5 84.8 579 84.1 578.7 83.4 578.3 82.6 578.1 81.9 578 81.2 577.9 80.5 577.9 79.7 578 79 578.2 78.3 578.4 77.6 578.8 76.9 579.2 76.2 579.7 75.5 580.2 74.8 580.9 74.2 581.6 73.6 582.4 73 583.2 72.4 584.1 71.8 585.1 71.3 586.1 70.8 587.2 70.3 588.3 69.9 589.5 69.5 590.7 69.1 592 68.7 593.3 68.4 594.6 68.1 595.9 67.9 597.3 67.6 598.7 67.4 600.1 67.3 601.6 67.1 603 67 604.4 67 605.8 67 607.3 67 608.7 67 610.1 67.1 611.5 67.3 612.8 67.4 614.1 67.6 615.4 67.9 616.7 68.2 617.9 68.5 619.1 68.8 620.2 69.2 621.3 69.6 622.3 70 623.3 70.5 624.2 71 625.1 71.5 625.8 72.1 626.6 72.7 627.2 73.3 627.8 73.9 628.3 74.6 628.7 75.3 629 75.9 629.3 76.6 629.5 77.3 629.6 78.1ZM632.8 78.6L632.8 79.4 632.6 80.3 632.4 81.1 632 81.9 631.6 82.8 631.1 83.6 630.5 84.4 629.8 85.2 629 86 628.2 86.7 627.3 87.5 626.2 88.2 625.2 88.9 624 89.6 622.8 90.2 621.5 90.8 620.2 91.4 618.8 91.9 617.4 92.4 615.9 92.9 614.4 93.3 612.8 93.6 611.2 93.9 609.6 94.2 608 94.4 606.3 94.6 604.7 94.7 603 94.8 601.4 94.8 599.7 94.7 598.1 94.6 596.5 94.5 594.9 94.2 593.3 94 591.8 93.7 590.3 93.3 588.9 92.9 587.5 92.5 586.1 92 584.8 91.5 583.6 90.9 582.5 90.3 581.4 89.7 580.4 89 579.4 88.3 578.6 87.6 577.8 86.9 577.1 86.1 576.5 85.3 575.9 84.5 575.5 83.7 575.1 82.9 574.9 82.1 574.7 81.3 574.7 80.5 574.7 79.6 574.8 78.8 575 78 575.3 77.2 575.7 76.4 576.1 75.7 576.7 74.9 577.3 74.1 578 73.4 578.8 72.7 579.7 72 580.7 71.4 581.7 70.8 582.8 70.2 583.9 69.6 585.1 69.1 586.4 68.6 587.7 68.1 589.1 67.7 590.5 67.3 592 67 593.5 66.7 595 66.4 596.5 66.1 598.1 65.9 599.7 65.7 601.3 65.6 602.9 65.5 604.5 65.4 606.1 65.4 607.7 65.4 609.3 65.5 610.9 65.6 612.4 65.7 613.9 65.9 615.4 66.1 616.9 66.4 618.3 66.7 619.7 67 621 67.4 622.3 67.8 623.5 68.3 624.6 68.8 625.7 69.3 626.8 69.9 627.7 70.5 628.6 71.1 629.4 71.8 630.1 72.4 630.8 73.2 631.3 73.9 631.8 74.6 632.2 75.4 632.5 76.2 632.7 77 632.8 77.8ZM636.1 78.4L636 79.4 635.8 80.3 635.6 81.2 635.2 82.1 634.7 83 634.2 84 633.5 84.9 632.7 85.7 631.9 86.6 630.9 87.5 629.9 88.3 628.8 89.1 627.6 89.9 626.3 90.6 624.9 91.3 623.5 92 622 92.7 620.5 93.3 618.9 93.8 617.2 94.3 615.6 94.8 613.8 95.2 612.1 95.5 610.3 95.8 608.5 96 606.6 96.2 604.8 96.4 602.9 96.4 601.1 96.4 599.3 96.4 597.5 96.3 595.7 96.1 593.9 95.9 592.2 95.6 590.5 95.2 588.8 94.8 587.2 94.4 585.6 93.9 584.1 93.3 582.7 92.7 581.4 92.1 580.1 91.4 578.9 90.7 577.7 90 576.7 89.2 575.7 88.4 574.9 87.6 574.1 86.7 573.4 85.9 572.8 85 572.3 84.1 572 83.2 571.7 82.3 571.5 81.4 571.4 80.5 571.4 79.6 571.6 78.7 571.8 77.8 572.1 76.9 572.5 76 573.1 75.1 573.7 74.3 574.4 73.5 575.2 72.7 576.1 71.9 577.1 71.1 578.1 70.4 579.3 69.7 580.5 69.1 581.7 68.4 583.1 67.9 584.5 67.3 586 66.8 587.5 66.3 589.1 65.9 590.7 65.5 592.3 65.2 594 64.9 595.7 64.6 597.5 64.4 599.2 64.2 601 64 602.8 63.9 604.6 63.8 606.4 63.8 608.1 63.8 609.9 63.9 611.6 64 613.3 64.2 615 64.4 616.7 64.6 618.3 64.9 619.9 65.2 621.4 65.6 622.9 66 624.3 66.5 625.6 67 626.9 67.5 628.1 68.1 629.3 68.8 630.3 69.4 631.3 70.1 632.2 70.8 633 71.6 633.7 72.4 634.4 73.2 634.9 74 635.3 74.9 635.7 75.7 635.9 76.6 636 77.5ZM639.3 78.2L639.2 79.2 639.1 80.3 638.8 81.3 638.3 82.3 637.8 83.3 637.2 84.3 636.5 85.3 635.6 86.3 634.7 87.3 633.7 88.2 632.5 89.1 631.3 90 630 90.9 628.6 91.7 627.1 92.5 625.5 93.2 623.9 93.9 622.2 94.6 620.4 95.2 618.6 95.8 616.8 96.3 614.8 96.7 612.9 97.1 610.9 97.4 608.9 97.7 606.9 97.9 604.9 98 602.9 98.1 600.8 98.1 598.8 98.1 596.8 97.9 594.8 97.7 592.9 97.5 591 97.1 589.1 96.8 587.3 96.3 585.5 95.8 583.8 95.3 582.2 94.7 580.6 94 579.1 93.3 577.7 92.5 576.3 91.8 575.1 90.9 573.9 90.1 572.9 89.2 571.9 88.3 571.1 87.4 570.3 86.4 569.7 85.4 569.2 84.5 568.8 83.5 568.5 82.5 568.3 81.5 568.2 80.5 568.2 79.5 568.3 78.5 568.6 77.5 569 76.5 569.4 75.5 570 74.6 570.7 73.7 571.5 72.8 572.4 71.9 573.3 71 574.4 70.2 575.6 69.4 576.8 68.7 578.2 68 579.6 67.3 581 66.6 582.6 66 584.2 65.5 585.9 65 587.6 64.5 589.4 64.1 591.2 63.7 593.1 63.4 594.9 63.1 596.9 62.8 598.8 62.6 600.7 62.5 602.7 62.3 604.7 62.2 606.6 62.2 608.6 62.2 610.5 62.3 612.4 62.4 614.3 62.6 616.1 62.8 618 63.1 619.7 63.4 621.5 63.8 623.1 64.2 624.8 64.6 626.3 65.1 627.8 65.7 629.2 66.3 630.5 66.9 631.8 67.6 633 68.3 634 69.1 635 69.9 635.9 70.7 636.7 71.6 637.4 72.5 638 73.4 638.5 74.3 638.8 75.3 639.1 76.2 639.3 77.2ZM642.5 78L642.5 79.1 642.3 80.3 641.9 81.4 641.5 82.5 640.9 83.6 640.3 84.7 639.5 85.8 638.6 86.8 637.5 87.9 636.4 88.9 635.2 89.9 633.8 90.9 632.4 91.8 630.9 92.7 629.2 93.6 627.5 94.4 625.7 95.2 623.9 95.9 622 96.6 620 97.2 618 97.8 615.9 98.3 613.7 98.7 611.6 99 609.4 99.3 607.2 99.6 605 99.7 602.8 99.8 600.6 99.8 598.4 99.8 596.2 99.6 594 99.4 591.9 99.1 589.8 98.7 587.7 98.3 585.7 97.8 583.8 97.3 581.9 96.6 580.2 96 578.4 95.2 576.8 94.5 575.3 93.6 573.8 92.8 572.5 91.9 571.2 91 570.1 90 569 89 568.1 88 567.3 86.9 566.6 85.9 566 84.8 565.6 83.7 565.2 82.6 565 81.5 564.9 80.4 565 79.3 565.1 78.3 565.4 77.2 565.8 76.1 566.3 75.1 567 74 567.7 73 568.6 72.1 569.5 71.1 570.6 70.2 571.8 69.3 573 68.4 574.4 67.6 575.9 66.8 577.4 66.1 579 65.4 580.7 64.8 582.5 64.2 584.3 63.6 586.2 63.1 588.1 62.7 590.1 62.3 592.1 61.9 594.2 61.6 596.2 61.3 598.3 61.1 600.5 60.9 602.6 60.8 604.7 60.7 606.9 60.6 609 60.7 611.1 60.8 613.2 60.9 615.2 61.1 617.3 61.3 619.2 61.6 621.2 61.9 623.1 62.3 624.9 62.8 626.6 63.3 628.3 63.8 630 64.4 631.5 65.1 633 65.7 634.3 66.5 635.6 67.3 636.8 68.1 637.9 68.9 638.8 69.8 639.7 70.8 640.4 71.7 641.1 72.7 641.6 73.8 642 74.8 642.3 75.9 642.5 76.9ZM645.8 77.8L645.7 79 645.5 80.2 645.1 81.4 644.7 82.7 644.1 83.9 643.3 85 642.5 86.2 641.5 87.4 640.4 88.5 639.2 89.6 637.8 90.7 636.4 91.8 634.8 92.8 633.1 93.8 631.4 94.7 629.5 95.6 627.6 96.5 625.6 97.3 623.5 98 621.4 98.7 619.2 99.3 616.9 99.8 614.6 100.3 612.3 100.7 609.9 101 607.5 101.2 605.1 101.4 602.7 101.5 600.3 101.5 597.9 101.4 595.5 101.3 593.2 101 590.9 100.7 588.6 100.3 586.4 99.8 584.2 99.3 582.1 98.7 580.1 98 578.2 97.3 576.3 96.5 574.5 95.6 572.8 94.8 571.3 93.8 569.8 92.8 568.4 91.8 567.2 90.8 566.1 89.7 565.1 88.6 564.2 87.5 563.5 86.3 562.8 85.1 562.4 84 562 82.8 561.8 81.6 561.7 80.4 561.7 79.2 561.9 78 562.2 76.9 562.6 75.7 563.2 74.6 563.9 73.5 564.7 72.4 565.6 71.3 566.7 70.3 567.9 69.3 569.1 68.4 570.5 67.4 572 66.6 573.6 65.7 575.2 64.9 577 64.2 578.8 63.5 580.7 62.8 582.7 62.2 584.7 61.7 586.8 61.2 589 60.8 591.1 60.4 593.4 60.1 595.6 59.8 597.9 59.6 600.2 59.4 602.5 59.2 604.8 59.1 607.1 59.1 609.4 59.1 611.7 59.2 613.9 59.3 616.2 59.5 618.4 59.8 620.5 60.1 622.6 60.4 624.6 60.9 626.6 61.3 628.5 61.9 630.3 62.5 632.1 63.1 633.8 63.8 635.3 64.5 636.8 65.3 638.2 66.2 639.5 67.1 640.7 68 641.7 69 642.7 70 643.5 71 644.2 72.1 644.8 73.2 645.2 74.3 645.5 75.5 645.7 76.7ZM649 77.7L648.9 78.9 648.7 80.2 648.3 81.5 647.8 82.8 647.2 84.1 646.4 85.4 645.5 86.7 644.4 87.9 643.2 89.2 641.9 90.4 640.5 91.5 638.9 92.7 637.2 93.8 635.4 94.8 633.6 95.9 631.6 96.8 629.5 97.7 627.3 98.6 625.1 99.4 622.7 100.1 620.4 100.8 617.9 101.4 615.4 101.9 612.9 102.3 610.4 102.7 607.8 102.9 605.2 103.1 602.6 103.2 600 103.2 597.4 103.1 594.9 102.9 592.3 102.7 589.8 102.3 587.4 101.9 585 101.4 582.7 100.8 580.4 100.1 578.2 99.4 576.1 98.6 574.1 97.7 572.2 96.8 570.4 95.9 568.7 94.9 567.2 93.8 565.7 92.7 564.4 91.6 563.2 90.4 562.1 89.2 561.1 88 560.3 86.7 559.7 85.5 559.1 84.2 558.8 82.9 558.5 81.6 558.4 80.4 558.5 79.1 558.7 77.8 559 76.6 559.5 75.3 560.1 74.1 560.8 72.9 561.7 71.7 562.7 70.6 563.9 69.5 565.1 68.4 566.5 67.4 568 66.4 569.6 65.5 571.3 64.6 573.1 63.8 574.9 63 576.9 62.2 579 61.5 581.1 60.9 583.3 60.3 585.5 59.8 587.8 59.3 590.2 58.9 592.6 58.6 595 58.3 597.5 58 599.9 57.8 602.4 57.7 604.9 57.6 607.4 57.5 609.8 57.6 612.3 57.6 614.7 57.8 617.1 58 619.5 58.2 621.8 58.6 624 59 626.2 59.4 628.3 59.9 630.4 60.5 632.4 61.1 634.2 61.8 636 62.5 637.7 63.3 639.3 64.2 640.8 65.1 642.2 66 643.5 67 644.6 68.1 645.6 69.2 646.5 70.3 647.3 71.5 647.9 72.7 648.4 73.9 648.7 75.1 648.9 76.4ZM652.6 77.5L652.5 78.8 652.2 80.2 651.9 81.6 651.3 83 650.6 84.4 649.8 85.8 648.8 87.2 647.7 88.5 646.4 89.9 645 91.2 643.4 92.4 641.7 93.7 639.9 94.8 638 96 635.9 97.1 633.8 98.2 631.5 99.1 629.2 100.1 626.8 100.9 624.3 101.8 621.7 102.5 619.1 103.1 616.4 103.7 613.7 104.1 610.9 104.5 608.1 104.8 605.3 105 602.5 105.1 599.7 105.1 596.9 105 594.1 104.8 591.4 104.5 588.7 104.1 586.1 103.6 583.5 103.1 581 102.4 578.5 101.7 576.2 100.9 573.9 100 571.8 99.1 569.7 98.1 567.8 97.1 565.9 96 564.2 94.8 562.6 93.6 561.2 92.4 559.9 91.1 558.8 89.8 557.7 88.5 556.9 87.2 556.2 85.8 555.6 84.5 555.2 83.1 555 81.7 554.9 80.3 554.9 79 555.1 77.6 555.5 76.2 556 74.9 556.7 73.6 557.5 72.3 558.4 71 559.5 69.8 560.7 68.6 562.1 67.5 563.6 66.4 565.2 65.3 566.9 64.3 568.7 63.4 570.7 62.5 572.7 61.6 574.8 60.8 577.1 60.1 579.3 59.4 581.7 58.8 584.1 58.2 586.6 57.7 589.1 57.3 591.7 56.9 594.3 56.6 597 56.4 599.6 56.1 602.3 56 605 55.9 607.6 55.8 610.3 55.8 612.9 55.9 615.5 56.1 618.1 56.3 620.7 56.6 623.1 56.9 625.6 57.3 627.9 57.8 630.2 58.3 632.4 59 634.6 59.6 636.6 60.4 638.5 61.1 640.4 62 642.1 62.9 643.7 63.9 645.2 64.9 646.6 66 647.8 67.1 648.9 68.3 649.9 69.5 650.7 70.8 651.4 72.1 651.9 73.4 652.3 74.7 652.5 76.1ZM656.2 77.3L656.1 78.7 655.8 80.2 655.4 81.8 654.9 83.3 654.1 84.8 653.2 86.2 652.2 87.7 650.9 89.2 649.6 90.6 648 92 646.4 93.3 644.6 94.7 642.6 95.9 640.6 97.2 638.4 98.4 636.1 99.5 633.6 100.6 631.1 101.6 628.5 102.5 625.8 103.4 623.1 104.2 620.2 104.9 617.3 105.5 614.4 106 611.4 106.4 608.4 106.7 605.4 106.9 602.4 107 599.4 107 596.4 106.9 593.4 106.7 590.5 106.4 587.6 105.9 584.7 105.4 582 104.8 579.3 104.1 576.6 103.3 574.1 102.4 571.7 101.5 569.3 100.5 567.1 99.4 565 98.3 563.1 97.1 561.2 95.9 559.6 94.6 558 93.3 556.6 91.9 555.4 90.5 554.3 89.1 553.4 87.7 552.6 86.2 552 84.7 551.6 83.3 551.3 81.8 551.2 80.3 551.3 78.8 551.5 77.4 551.9 75.9 552.5 74.5 553.2 73.1 554.1 71.7 555.1 70.3 556.3 69 557.6 67.7 559.1 66.5 560.7 65.3 562.4 64.2 564.2 63.1 566.2 62.1 568.3 61.1 570.5 60.2 572.7 59.4 575.1 58.6 577.6 57.9 580.1 57.2 582.7 56.6 585.4 56.1 588.1 55.7 590.9 55.3 593.7 55 596.5 54.7 599.3 54.4 602.2 54.2 605.1 54.1 607.9 54.1 610.8 54.1 613.6 54.2 616.4 54.4 619.2 54.6 621.9 54.9 624.5 55.2 627.1 55.7 629.7 56.2 632.1 56.8 634.5 57.4 636.8 58.1 639 58.9 641.1 59.7 643 60.6 644.9 61.6 646.6 62.7 648.2 63.8 649.7 64.9 651 66.1 652.2 67.4 653.2 68.7 654.1 70.1 654.9 71.4 655.4 72.9 655.8 74.3 656.1 75.8ZM659.8 77L659.7 78.6 659.5 80.3 659.1 81.9 658.4 83.5 657.7 85.1 656.7 86.7 655.6 88.2 654.3 89.8 652.8 91.3 651.2 92.8 649.4 94.3 647.5 95.7 645.4 97 643.2 98.4 640.8 99.6 638.4 100.8 635.8 102 633.1 103.1 630.3 104.1 627.4 105 624.4 105.9 621.4 106.6 618.3 107.3 615.2 107.8 612 108.3 608.8 108.6 605.5 108.8 602.3 109 599.1 109 595.9 108.8 592.7 108.6 589.5 108.2 586.4 107.8 583.4 107.2 580.4 106.6 577.5 105.8 574.7 104.9 572 104 569.4 103 566.9 101.9 564.5 100.8 562.3 99.5 560.2 98.3 558.2 96.9 556.4 95.5 554.8 94.1 553.3 92.7 552 91.2 550.8 89.7 549.8 88.1 549 86.6 548.4 85 547.9 83.4 547.7 81.9 547.6 80.3 547.6 78.7 547.9 77.1 548.3 75.6 548.9 74 549.7 72.5 550.6 71 551.7 69.6 553 68.2 554.4 66.8 556 65.5 557.7 64.2 559.5 63 561.5 61.9 563.6 60.8 565.9 59.8 568.2 58.8 570.6 57.9 573.2 57.1 575.8 56.3 578.5 55.6 581.3 55 584.1 54.5 587 54 590 53.6 593 53.3 596 53 599 52.7 602.1 52.5 605.1 52.4 608.2 52.3 611.2 52.4 614.3 52.5 617.3 52.6 620.2 52.9 623.1 53.2 625.9 53.5 628.7 54 631.4 54.5 634.1 55.2 636.6 55.8 639 56.6 641.4 57.4 643.6 58.3 645.7 59.3 647.7 60.3 649.6 61.4 651.3 62.6 652.8 63.9 654.3 65.2 655.5 66.5 656.7 67.9 657.6 69.4 658.4 70.8 659 72.3 659.5 73.9 659.7 75.5ZM663.5 76.8L663.4 78.6 663.2 80.3 662.7 82 662.1 83.7 661.2 85.4 660.2 87.1 659 88.8 657.6 90.4 656.1 92.1 654.4 93.6 652.5 95.2 650.4 96.7 648.2 98.2 645.8 99.6 643.3 100.9 640.7 102.2 637.9 103.4 635.1 104.6 632.1 105.7 629 106.7 625.8 107.6 622.6 108.4 619.3 109.1 615.9 109.7 612.5 110.2 609.1 110.6 605.7 110.8 602.2 111 598.8 110.9 595.3 110.8 591.9 110.5 588.6 110.1 585.2 109.7 582 109 578.8 108.3 575.7 107.5 572.7 106.6 569.8 105.6 567.1 104.5 564.4 103.3 561.9 102.1 559.5 100.8 557.3 99.4 555.2 98 553.3 96.5 551.5 95 549.9 93.4 548.5 91.9 547.3 90.3 546.2 88.6 545.4 87 544.7 85.3 544.2 83.6 543.9 81.9 543.8 80.3 543.9 78.6 544.2 76.9 544.7 75.3 545.3 73.6 546.2 72 547.2 70.4 548.3 68.9 549.7 67.4 551.2 65.9 552.9 64.5 554.7 63.2 556.7 61.9 558.8 60.6 561 59.5 563.4 58.4 565.9 57.4 568.5 56.5 571.2 55.6 574 54.8 576.9 54.1 579.8 53.4 582.9 52.8 586 52.3 589.1 51.9 592.3 51.5 595.5 51.3 598.7 51 602 50.8 605.2 50.6 608.5 50.6 611.7 50.6 614.9 50.7 618.1 50.9 621.3 51.1 624.3 51.4 627.4 51.8 630.3 52.3 633.2 52.9 636 53.5 638.7 54.2 641.3 55 643.8 55.9 646.2 56.9 648.4 57.9 650.5 59 652.5 60.2 654.4 61.5 656 62.8 657.6 64.2 658.9 65.6 660.1 67.1 661.1 68.6 662 70.2 662.6 71.8 663.1 73.5 663.4 75.2ZM667.3 76.7L667.2 78.5 666.9 80.3 666.4 82.1 665.7 83.9 664.9 85.8 663.8 87.5 662.5 89.3 661.1 91.1 659.4 92.8 657.6 94.5 655.6 96.1 653.4 97.7 651 99.3 648.5 100.8 645.9 102.2 643.1 103.6 640.1 104.9 637.1 106.2 633.9 107.3 630.6 108.4 627.3 109.4 623.8 110.2 620.3 111 616.7 111.6 613.1 112.1 609.5 112.5 605.8 112.8 602.1 113 598.4 113 594.8 112.8 591.2 112.5 587.6 112.1 584.1 111.6 580.6 110.9 577.2 110.1 573.9 109.2 570.7 108.2 567.7 107.2 564.7 106 561.9 104.7 559.2 103.4 556.7 102 554.3 100.6 552.1 99 550 97.5 548.2 95.9 546.5 94.2 545 92.6 543.7 90.9 542.6 89.1 541.7 87.4 541 85.6 540.5 83.8 540.2 82 540.1 80.3 540.2 78.5 540.5 76.7 541 74.9 541.7 73.2 542.6 71.5 543.6 69.8 544.9 68.2 546.3 66.6 548 65 549.7 63.5 551.7 62.1 553.8 60.7 556 59.4 558.4 58.2 560.9 57 563.6 55.9 566.3 55 569.2 54 572.2 53.2 575.2 52.4 578.4 51.7 581.6 51.1 584.9 50.6 588.2 50.2 591.6 49.8 595 49.5 598.4 49.2 601.9 49 605.3 48.9 608.8 48.8 612.2 48.8 615.6 48.9 619 49.1 622.3 49.4 625.6 49.7 628.8 50.1 631.9 50.6 635 51.2 638 51.9 640.8 52.6 643.6 53.4 646.3 54.4 648.8 55.4 651.2 56.5 653.4 57.7 655.5 58.9 657.5 60.3 659.3 61.7 660.9 63.1 662.3 64.7 663.6 66.3 664.7 67.9 665.6 69.6 666.3 71.3 666.8 73.1 667.1 74.9ZM671 76.5L671 78.4 670.7 80.3 670.2 82.3 669.5 84.2 668.5 86.1 667.4 88 666.1 89.9 664.5 91.7 662.8 93.6 660.8 95.4 658.7 97.1 656.4 98.8 653.9 100.5 651.3 102 648.4 103.6 645.5 105 642.4 106.4 639.1 107.7 635.8 109 632.3 110.1 628.7 111.1 625.1 112.1 621.3 112.9 617.5 113.6 613.7 114.1 609.8 114.5 605.9 114.8 602 115 598.1 115 594.2 114.8 590.4 114.5 586.6 114 582.8 113.5 579.2 112.8 575.6 111.9 572.1 111 568.7 109.9 565.4 108.8 562.3 107.5 559.3 106.2 556.5 104.8 553.8 103.3 551.3 101.7 548.9 100.1 546.8 98.5 544.8 96.8 543 95 541.4 93.3 540.1 91.5 538.9 89.6 537.9 87.8 537.2 85.9 536.7 84.1 536.4 82.2 536.3 80.3 536.4 78.4 536.7 76.5 537.2 74.6 538 72.8 538.9 71 540.1 69.2 541.4 67.5 543 65.8 544.7 64.1 546.6 62.5 548.6 61 550.9 59.5 553.2 58.1 555.8 56.8 558.4 55.6 561.2 54.5 564.2 53.4 567.2 52.5 570.3 51.6 573.6 50.8 576.9 50.1 580.3 49.4 583.8 48.9 587.3 48.4 590.9 48.1 594.5 47.8 598.1 47.5 601.8 47.3 605.4 47.1 609.1 47 612.7 47.1 616.3 47.2 619.9 47.3 623.4 47.6 626.9 47.9 630.3 48.4 633.6 48.9 636.8 49.5 640 50.2 643 51 645.9 51.9 648.7 52.8 651.4 53.9 653.9 55.1 656.3 56.3 658.5 57.7 660.6 59.1 662.5 60.6 664.2 62.1 665.8 63.8 667.1 65.5 668.3 67.2 669.2 69 670 70.8 670.6 72.7 670.9 74.6ZM674.9 76.4L674.9 78.4 674.8 80.4 674.5 82.5 674 84.6 673.3 86.6 672.4 88.7 671.3 90.8 670 92.8 668.3 94.9 666.5 96.9 664.3 98.8 661.9 100.7 659.2 102.6 656.3 104.4 653.2 106 649.9 107.6 646.3 109.1 642.6 110.4 638.8 111.7 634.9 112.8 630.9 113.8 626.8 114.6 622.6 115.4 618.5 116 614.3 116.4 610.2 116.7 606 116.9 601.9 117.1 597.8 117.1 593.6 117 589.5 116.8 585.4 116.4 581.3 116 577.2 115.4 573.2 114.6 569.2 113.7 565.4 112.7 561.6 111.5 558 110.2 554.6 108.8 551.4 107.2 548.4 105.6 545.7 103.9 543.2 102.1 540.9 100.2 539 98.3 537.3 96.4 535.8 94.4 534.7 92.4 533.7 90.4 533.1 88.4 532.6 86.3 532.3 84.3 532.3 82.3 532.3 80.3 532.5 78.3 532.8 76.3 533.2 74.3 533.8 72.3 534.5 70.4 535.5 68.4 536.6 66.5 538 64.6 539.5 62.7 541.3 60.9 543.4 59.1 545.7 57.5 548.2 55.9 550.9 54.4 553.8 53 557 51.8 560.2 50.7 563.7 49.7 567.2 48.9 570.9 48.1 574.6 47.5 578.4 47 582.3 46.5 586.1 46.2 590 46 593.9 45.8 597.8 45.6 601.6 45.4 605.5 45.3 609.4 45.2 613.2 45.2 617.1 45.1 620.9 45.2 624.8 45.3 628.6 45.5 632.4 45.8 636.1 46.2 639.8 46.7 643.3 47.3 646.8 48.1 650.1 49 653.3 50 656.2 51.2 659 52.4 661.6 53.9 663.9 55.4 666 57 667.9 58.8 669.5 60.6 670.9 62.4 672 64.4 673 66.3 673.7 68.3 674.2 70.3 674.6 72.3 674.8 74.4ZM678.8 76.3L678.8 78.4 678.8 80.6 678.7 82.8 678.5 85 678.2 87.2 677.7 89.5 676.9 91.7 675.9 94 674.6 96.3 672.9 98.6 670.9 100.9 668.5 103.1 665.7 105.2 662.5 107.1 658.9 109 655.1 110.7 651 112.2 646.7 113.5 642.2 114.7 637.7 115.7 633.1 116.6 628.6 117.3 624 117.9 619.5 118.3 615 118.7 610.6 118.9 606.2 119.1 601.8 119.2 597.4 119.2 593 119.2 588.6 119 584.1 118.8 579.6 118.5 575.1 118 570.6 117.4 566.1 116.7 561.6 115.7 557.2 114.6 553 113.3 549.1 111.8 545.4 110.2 542 108.4 539 106.5 536.3 104.5 534.1 102.3 532.3 100.1 530.9 97.9 529.7 95.7 529 93.4 528.4 91.2 528.1 88.9 528 86.7 528 84.6 528.2 82.4 528.4 80.3 528.6 78.2 528.9 76.1 529.2 74 529.6 71.9 530.1 69.8 530.8 67.6 531.6 65.5 532.7 63.3 534 61.2 535.5 59.1 537.4 57 539.7 55.1 542.2 53.2 545.1 51.5 548.3 50 551.8 48.6 555.6 47.4 559.6 46.5 563.7 45.7 567.9 45.1 572.1 44.7 576.4 44.3 580.7 44.1 585 43.9 589.2 43.8 593.3 43.8 597.5 43.7 601.5 43.6 605.6 43.5 609.6 43.4 613.7 43.3 617.8 43.1 622 43 626.2 43 630.4 43 634.6 43.1 638.9 43.3 643.1 43.6 647.2 44 651.2 44.7 655 45.5 658.7 46.6 662 47.8 665.1 49.3 667.8 50.9 670.1 52.8 672.1 54.7 673.8 56.8 675.2 59 676.2 61.1 677.1 63.3 677.7 65.5 678.1 67.7 678.4 69.9 678.6 72 678.7 74.2ZM682.7 76.2L682.8 78.5 682.8 80.7 682.8 83 682.8 85.4 682.7 87.8 682.5 90.2 682.1 92.7 681.5 95.2 680.6 97.8 679.4 100.4 677.6 103 675.3 105.5 672.5 107.9 669 110.1 665 112.1 660.6 113.9 655.8 115.4 650.7 116.6 645.6 117.7 640.4 118.5 635.3 119.2 630.2 119.8 625.3 120.2 620.4 120.6 615.6 120.8 610.9 121 606.3 121.2 601.7 121.3 597.1 121.4 592.4 121.3 587.8 121.2 583 121.1 578.1 120.9 573.2 120.5 568.1 120.1 563 119.5 557.9 118.7 552.8 117.7 547.9 116.5 543.2 115 538.9 113.3 535.1 111.4 531.8 109.2 529.2 106.9 527.1 104.5 525.6 101.9 524.6 99.4 523.9 96.9 523.6 94.4 523.5 91.9 523.5 89.5 523.6 87.1 523.9 84.8 524.1 82.6 524.4 80.4 524.7 78.1 525 75.9 525.3 73.7 525.6 71.5 526 69.2 526.4 66.9 527 64.5 527.7 62.1 528.7 59.7 529.9 57.3 531.5 54.9 533.5 52.6 536 50.4 539 48.4 542.5 46.7 546.5 45.2 550.8 44.1 555.4 43.2 560.1 42.6 565 42.2 569.8 42 574.6 41.9 579.3 41.8 583.9 41.8 588.4 41.9 592.8 41.9 597.1 41.9 601.4 41.8 605.7 41.7 609.9 41.6 614.2 41.4 618.6 41.2 623 41 627.5 40.8 632 40.7 636.7 40.5 641.5 40.5 646.2 40.5 651 40.7 655.7 41.2 660.2 41.9 664.3 42.9 668.1 44.3 671.4 46 674.2 48 676.4 50.2 678.2 52.6 679.6 55 680.6 57.5 681.3 60 681.8 62.4 682.1 64.8 682.3 67.1 682.5 69.4 682.6 71.7 682.6 74ZM686.7 76.2L686.7 78.6 686.8 80.9 686.9 83.4 687 85.8 687 88.3 687 90.9 686.9 93.6 686.7 96.4 686.3 99.3 685.6 102.2 684.4 105.2 682.5 108.1 679.7 110.8 676.1 113.3 671.5 115.4 666.3 117.2 660.6 118.5 654.7 119.6 648.8 120.4 642.9 121.1 637.3 121.6 631.8 122 626.5 122.4 621.3 122.8 616.3 123 611.3 123.2 606.4 123.4 601.6 123.5 596.7 123.5 591.9 123.5 586.9 123.4 581.9 123.3 576.7 123.1 571.4 122.8 565.9 122.5 560.3 122.1 554.5 121.5 548.6 120.7 542.7 119.6 537.1 118.3 532 116.6 527.7 114.6 524.2 112.2 521.7 109.5 520.1 106.6 519.2 103.7 518.7 100.9 518.6 98 518.7 95.3 518.9 92.6 519.1 90.1 519.4 87.6 519.8 85.2 520.1 82.8 520.4 80.4 520.7 78.1 521 75.8 521.3 73.4 521.6 71.1 522 68.7 522.3 66.2 522.7 63.7 523.2 61.1 523.9 58.4 524.7 55.6 525.9 52.9 527.5 50.1 529.7 47.5 532.6 45.2 536.4 43.2 540.8 41.6 545.9 40.6 551.3 39.9 556.8 39.6 562.3 39.5 567.7 39.5 572.9 39.6 578 39.7 582.9 39.8 587.6 40 592.3 40.1 596.8 40.1 601.3 40 605.8 39.9 610.2 39.7 614.7 39.5 619.3 39.3 623.9 39.1 628.7 38.8 633.6 38.5 638.6 38.2 643.8 37.9 649.2 37.7 654.7 37.6 660.1 37.7 665.4 38.2 670.3 39.1 674.6 40.6 678.1 42.7 680.8 45.1 682.7 47.8 684.1 50.6 684.9 53.4 685.5 56.2 685.9 58.9 686.1 61.6 686.2 64.1 686.3 66.6 686.4 69.1 686.5 71.5 686.6 73.8ZM690.7 76.2L690.8 78.7 690.9 81.2 691 83.7 691.1 86.3 691.1 88.9 691.2 91.7 691.3 94.5 691.4 97.5 691.4 100.6 691.2 103.9 690.7 107.3 689.6 110.7 687.4 113.9 683.7 116.7 678.4 118.9 672 120.4 665.1 121.5 658.2 122.3 651.5 122.9 645.2 123.4 639.1 123.8 633.2 124.2 627.6 124.6 622.2 124.9 616.9 125.2 611.7 125.4 606.6 125.6 601.5 125.7 596.4 125.7 591.2 125.7 586.1 125.6 580.8 125.5 575.3 125.3 569.7 125 563.9 124.7 557.8 124.4 551.4 123.9 544.7 123.3 537.9 122.6 531 121.6 524.7 120.1 519.6 118 516.2 115.3 514.3 112.1 513.5 108.8 513.4 105.4 513.5 102.2 513.8 99.1 514.2 96.1 514.6 93.3 514.9 90.6 515.3 88 515.6 85.5 516 83 516.3 80.5 516.6 78.1 517 75.6 517.3 73.2 517.7 70.7 518 68.2 518.4 65.6 518.7 62.9 519.1 60.1 519.6 57.2 520.1 54.2 520.8 51 521.8 47.8 523.4 44.5 525.9 41.6 529.8 39.3 534.9 37.8 541 37 547.4 36.8 553.8 36.8 559.9 37 565.8 37.3 571.4 37.6 576.7 37.8 581.9 37.9 586.9 38.1 591.7 38.2 596.5 38.2 601.2 38.2 605.9 38 610.5 37.9 615.2 37.7 620 37.4 624.9 37.1 629.9 36.8 635 36.5 640.3 36.1 645.9 35.6 651.8 35.1 657.9 34.7 664.3 34.4 670.6 34.4 676.5 35.2 681.5 36.8 685.1 39.2 687.4 42.2 688.6 45.5 689.3 48.8 689.7 52.1 689.9 55.1 690 58.1 690.1 60.9 690.2 63.6 690.3 66.2 690.4 68.8 690.5 71.3 690.6 73.8ZM694.8 76.3L694.9 78.8 695 81.4 695.1 84.1 695.2 86.8 695.3 89.5 695.4 92.4 695.5 95.3 695.7 98.4 695.8 101.7 695.9 105.2 696 109 696 113 695.2 117 692 120.4 685.4 122.4 677.1 123.3 668.9 124 661.2 124.5 654 125 647.2 125.5 640.8 125.9 634.7 126.3 628.8 126.7 623.1 127.1 617.5 127.4 612.1 127.6 606.7 127.8 601.4 127.9 596 128 590.6 127.9 585.2 127.8 579.6 127.7 573.9 127.4 568 127.2 561.9 126.8 555.5 126.4 548.7 126 541.5 125.5 533.8 125 525.6 124.4 517.4 123.6 510.9 121.8 508.1 118.5 507.7 114.5 508 110.5 508.5 106.8 509 103.3 509.5 100.1 509.9 97 510.3 94 510.7 91.2 511.1 88.5 511.5 85.8 511.8 83.2 512.2 80.6 512.5 78.1 512.9 75.5 513.3 72.9 513.6 70.3 514 67.7 514.4 64.9 514.8 62.1 515.2 59.2 515.6 56.1 516.1 52.9 516.6 49.5 517.1 45.8 517.9 41.9 519.3 38 522.8 35 529.1 33.9 536.7 33.9 544.3 34.2 551.3 34.6 557.9 34.9 564.1 35.3 569.9 35.6 575.5 35.9 580.9 36.1 586.1 36.2 591.2 36.3 596.2 36.4 601.1 36.3 606 36.2 610.8 36 615.8 35.8 620.7 35.5 625.8 35.2 631 34.9 636.4 34.5 642 34 647.8 33.5 654 32.9 660.6 32.3 667.7 31.7 675.1 31.2 682.7 31.3 688.9 32.7 692.1 35.8 693.1 39.8 693.4 43.7 693.6 47.4 693.8 50.9 693.9 54.2 694 57.2 694.1 60.2 694.2 63 694.4 65.8 694.5 68.4 694.6 71.1 694.7 73.7ZM607 79.8L610.2 79.7 613.5 79.6 616.7 79.4 619.9 79.3 623.2 79.1 626.4 79 629.6 78.8 632.8 78.6 636.1 78.4 639.3 78.2 642.5 78 645.8 77.8 649 77.7 652.6 77.5 656.2 77.3 659.8 77 663.5 76.8 667.3 76.7 671 76.5 674.9 76.4 678.8 76.3 682.7 76.2 686.7 76.2 690.7 76.2 694.8 76.3 698.9 76.3M642.5 79.1L645.7 79 648.9 78.9 652.5 78.8 656.1 78.7 659.7 78.6 663.4 78.6 667.2 78.5 671 78.4 674.9 78.4 678.8 78.4 682.8 78.5 686.7 78.6 690.8 78.7 694.9 78.8 699 79M626.2 80.3L629.4 80.3 632.6 80.3 635.8 80.3 639.1 80.3 642.3 80.3 645.5 80.2 648.7 80.2 652.2 80.2 655.8 80.2 659.5 80.3 663.2 80.3 666.9 80.3 670.7 80.3 674.8 80.4 678.8 80.6 682.8 80.7 686.8 80.9 690.9 81.2 695 81.4 699.1 81.7M641.9 81.4L645.1 81.4 648.3 81.5 651.9 81.6 655.4 81.8 659.1 81.9 662.7 82 666.4 82.1 670.2 82.3 674.5 82.5 678.7 82.8 682.8 83 686.9 83.4 691 83.7 695.1 84.1 699.3 84.5M613.2 80.6L616.3 80.9 619.5 81.1 622.6 81.3 625.7 81.5 628.9 81.7 632 81.9 635.2 82.1 638.3 82.3 641.5 82.5 644.7 82.7 647.8 82.8 651.3 83 654.9 83.3 658.4 83.5 662.1 83.7 665.7 83.9 669.5 84.2 674 84.6 678.5 85 682.8 85.4 687 85.8 691.1 86.3 695.2 86.8 699.4 87.3M640.9 83.6L644.1 83.9 647.2 84.1 650.6 84.4 654.1 84.8 657.7 85.1 661.2 85.4 664.9 85.8 668.5 86.1 673.3 86.6 678.2 87.2 682.7 87.8 687 88.3 691.1 88.9 695.3 89.5 699.5 90.1M625 82.8L628 83.2 631.1 83.6 634.2 84 637.2 84.3 640.3 84.7 643.3 85 646.4 85.4 649.8 85.8 653.2 86.2 656.7 86.7 660.2 87.1 663.8 87.5 667.4 88 672.4 88.7 677.7 89.5 682.5 90.2 687 90.9 691.2 91.7 695.4 92.4 699.6 93.1M639.5 85.8L642.5 86.2 645.5 86.7 648.8 87.2 652.2 87.7 655.6 88.2 659 88.8 662.5 89.3 666.1 89.9 671.3 90.8 676.9 91.7 682.1 92.7 686.9 93.6 691.3 94.5 695.5 95.3 699.8 96.2M606.6 80.5L609.5 81.1 612.4 81.7 615.3 82.3 618.2 82.9 621.1 83.5 624 84.1 626.9 84.6 629.8 85.2 632.7 85.7 635.6 86.3 638.6 86.8 641.5 87.4 644.4 87.9 647.7 88.5 650.9 89.2 654.3 89.8 657.6 90.4 661.1 91.1 664.5 91.7 670 92.8 675.9 94 681.5 95.2 686.7 96.4 691.4 97.5 695.7 98.4 699.9 99.4M637.5 87.9L640.4 88.5 643.2 89.2 646.4 89.9 649.6 90.6 652.8 91.3 656.1 92.1 659.4 92.8 662.8 93.6 668.3 94.9 674.6 96.3 680.6 97.8 686.3 99.3 691.4 100.6 695.8 101.7 700.1 102.8M622.7 85.3L625.5 86 628.2 86.7 630.9 87.5 633.7 88.2 636.4 88.9 639.2 89.6 641.9 90.4 645 91.2 648 92 651.2 92.8 654.4 93.6 657.6 94.5 660.8 95.4 666.5 96.9 672.9 98.6 679.4 100.4 685.6 102.2 691.2 103.9 695.9 105.2 700.2 106.5M635.2 89.9L637.8 90.7 640.5 91.5 643.4 92.4 646.4 93.3 649.4 94.3 652.5 95.2 655.6 96.1 658.7 97.1 664.3 98.8 670.9 100.9 677.6 103 684.4 105.2 690.7 107.3 696 109 700.4 110.4M611.2 82.7L613.7 83.6 616.2 84.6 618.7 85.5 621.2 86.4 623.7 87.3 626.2 88.2 628.8 89.1 631.3 90 633.8 90.9 636.4 91.8 638.9 92.7 641.7 93.7 644.6 94.7 647.5 95.7 650.4 96.7 653.4 97.7 656.4 98.8 661.9 100.7 668.5 103.1 675.3 105.5 682.5 108.1 689.6 110.7 696 113 700.6 114.6M632.4 91.8L634.8 92.8 637.2 93.8 639.9 94.8 642.6 95.9 645.4 97 648.2 98.2 651 99.3 653.9 100.5 659.2 102.6 665.7 105.2 672.5 107.9 679.7 110.8 687.4 113.9 695.2 117 700.8 119.2M619.5 87.4L621.7 88.5 624 89.6 626.3 90.6 628.6 91.7 630.9 92.7 633.1 93.8 635.4 94.8 638 96 640.6 97.2 643.2 98.4 645.8 99.6 648.5 100.8 651.3 102 656.3 104.4 662.5 107.1 669 110.1 676.1 113.3 683.7 116.7 692 120.4 701 124.3M629.2 93.6L631.4 94.7 633.6 95.9 635.9 97.1 638.4 98.4 640.8 99.6 643.3 100.9 645.9 102.2 648.4 103.6 653.2 106 658.9 109 665 112.1 671.5 115.4 678.4 118.9 685.4 122.4 690.4 124.9M605.7 81.1L607.7 82.3 609.6 83.5 611.6 84.7 613.6 86 615.6 87.2 617.5 88.4 619.5 89.6 621.5 90.8 623.5 92 625.5 93.2 627.5 94.4 629.5 95.6 631.6 96.8 633.8 98.2 636.1 99.5 638.4 100.8 640.7 102.2 643.1 103.6 645.5 105 649.9 107.6 655.1 110.7 660.6 113.9 666.3 117.2 672 120.4 677.1 123.3 680.8 125.4M625.7 95.2L627.6 96.5 629.5 97.7 631.5 99.1 633.6 100.6 635.8 102 637.9 103.4 640.1 104.9 642.4 106.4 646.3 109.1 651 112.2 655.8 115.4 660.6 118.5 665.1 121.5 668.9 124 672 126M615.4 89.2L617.1 90.6 618.8 91.9 620.5 93.3 622.2 94.6 623.9 95.9 625.6 97.3 627.3 98.6 629.2 100.1 631.1 101.6 633.1 103.1 635.1 104.6 637.1 106.2 639.1 107.7 642.6 110.4 646.7 113.5 650.7 116.6 654.7 119.6 658.2 122.3 661.2 124.5 663.9 126.5M622 96.6L623.5 98 625.1 99.4 626.8 100.9 628.5 102.5 630.3 104.1 632.1 105.7 633.9 107.3 635.8 109 638.8 111.7 642.2 114.7 645.6 117.7 648.8 120.4 651.5 122.9 654 125 656.4 127.1M607.8 84.2L609.1 85.6 610.5 87 611.8 88.5 613.2 89.9 614.5 91.4 615.9 92.9 617.2 94.3 618.6 95.8 620 97.2 621.4 98.7 622.7 100.1 624.3 101.8 625.8 103.4 627.4 105 629 106.7 630.6 108.4 632.3 110.1 634.9 112.8 637.7 115.7 640.4 118.5 642.9 121.1 645.2 123.4 647.2 125.5 649.3 127.5M618 97.8L619.2 99.3 620.4 100.8 621.7 102.5 623.1 104.2 624.4 105.9 625.8 107.6 627.3 109.4 628.7 111.1 630.9 113.8 633.1 116.6 635.3 119.2 637.3 121.6 639.1 123.8 640.8 125.9 642.6 128M610.8 90.5L611.8 92.1 612.8 93.6 613.8 95.2 614.8 96.7 615.9 98.3 616.9 99.8 617.9 101.4 619.1 103.1 620.2 104.9 621.4 106.6 622.6 108.4 623.8 110.2 625.1 112.1 626.8 114.6 628.6 117.3 630.2 119.8 631.8 122 633.2 124.2 634.7 126.3 636.2 128.5M613.7 98.7L614.6 100.3 615.4 101.9 616.4 103.7 617.3 105.5 618.3 107.3 619.3 109.1 620.3 111 621.3 112.9 622.6 115.4 624 117.9 625.3 120.2 626.5 122.4 627.6 124.6 628.8 126.7 630 128.9M604.4 81.4L605.1 83 605.7 84.6 606.3 86.2 607 87.8 607.6 89.4 608.3 91 608.9 92.6 609.6 94.2 610.3 95.8 610.9 97.4 611.6 99 612.3 100.7 612.9 102.3 613.7 104.1 614.4 106 615.2 107.8 615.9 109.7 616.7 111.6 617.5 113.6 618.5 116 619.5 118.3 620.4 120.6 621.3 122.8 622.2 124.9 623.1 127.1 624 129.3M609.4 99.3L609.9 101 610.4 102.7 610.9 104.5 611.4 106.4 612 108.3 612.5 110.2 613.1 112.1 613.7 114.1 614.3 116.4 615 118.7 615.6 120.8 616.3 123 616.9 125.2 617.5 127.4 618.2 129.6M605.8 91.3L606 92.9 606.3 94.6 606.6 96.2 606.9 97.9 607.2 99.6 607.5 101.2 607.8 102.9 608.1 104.8 608.4 106.7 608.8 108.6 609.1 110.6 609.5 112.5 609.8 114.5 610.2 116.7 610.6 118.9 610.9 121 611.3 123.2 611.7 125.4 612.1 127.6 612.5 129.9M605 99.7L605.1 101.4 605.2 103.1 605.3 105 605.4 106.9 605.5 108.8 605.7 110.8 605.8 112.8 605.9 114.8 606 116.9 606.2 119.1 606.3 121.2 606.4 123.4 606.6 125.6 606.7 127.8 606.9 130.1M603.5 84.8L603.4 86.4 603.4 88.1 603.3 89.7 603.2 91.4 603.1 93.1 603 94.8 602.9 96.4 602.9 98.1 602.8 99.8 602.7 101.5 602.6 103.2 602.5 105.1 602.4 107 602.3 109 602.2 111 602.1 113 602 115 601.9 117.1 601.8 119.2 601.7 121.3 601.6 123.5 601.5 125.7 601.4 127.9 601.2 130.2M600.6 99.8L600.3 101.5 600 103.2 599.7 105.1 599.4 107 599.1 109 598.8 110.9 598.4 113 598.1 115 597.8 117.1 597.4 119.2 597.1 121.4 596.7 123.5 596.4 125.7 596 128 595.6 130.2M600.6 91.4L600.2 93 599.7 94.7 599.3 96.4 598.8 98.1 598.4 99.8 597.9 101.4 597.4 103.1 596.9 105 596.4 106.9 595.9 108.8 595.3 110.8 594.8 112.8 594.2 114.8 593.6 117 593 119.2 592.4 121.3 591.9 123.5 591.2 125.7 590.6 127.9 590 130.2M596.2 99.6L595.5 101.3 594.9 102.9 594.1 104.8 593.4 106.7 592.7 108.6 591.9 110.5 591.2 112.5 590.4 114.5 589.5 116.8 588.6 119 587.8 121.2 586.9 123.4 586.1 125.6 585.2 127.8 584.3 130.1M603 81.5L602.2 83.1 601.4 84.7 600.6 86.3 599.7 87.9 598.9 89.6 598.1 91.2 597.3 92.8 596.5 94.5 595.7 96.1 594.8 97.7 594 99.4 593.2 101 592.3 102.7 591.4 104.5 590.5 106.4 589.5 108.2 588.6 110.1 587.6 112.1 586.6 114 585.4 116.4 584.1 118.8 583 121.1 581.9 123.3 580.8 125.5 579.6 127.7 578.5 129.9M591.9 99.1L590.9 100.7 589.8 102.3 588.7 104.1 587.6 105.9 586.4 107.8 585.2 109.7 584.1 111.6 582.8 113.5 581.3 116 579.6 118.5 578.1 120.9 576.7 123.1 575.3 125.3 573.9 127.4 572.5 129.6M595.7 90.8L594.5 92.4 593.3 94 592.2 95.6 591 97.1 589.8 98.7 588.6 100.3 587.4 101.9 586.1 103.6 584.7 105.4 583.4 107.2 582 109 580.6 110.9 579.2 112.8 577.2 115.4 575.1 118 573.2 120.5 571.4 122.8 569.7 125 568 127.2 566.3 129.3M587.7 98.3L586.4 99.8 585 101.4 583.5 103.1 582 104.8 580.4 106.6 578.8 108.3 577.2 110.1 575.6 111.9 573.2 114.6 570.6 117.4 568.1 120.1 565.9 122.5 563.9 124.7 561.9 126.8 559.9 129M599.3 84.4L597.8 85.9 596.3 87.4 594.8 88.8 593.3 90.3 591.8 91.8 590.3 93.3 588.8 94.8 587.3 96.3 585.7 97.8 584.2 99.3 582.7 100.8 581 102.4 579.3 104.1 577.5 105.8 575.7 107.5 573.9 109.2 572.1 111 569.2 113.7 566.1 116.7 563 119.5 560.3 122.1 557.8 124.4 555.5 126.4 553.2 128.5M583.8 97.3L582.1 98.7 580.4 100.1 578.5 101.7 576.6 103.3 574.7 104.9 572.7 106.6 570.7 108.2 568.7 109.9 565.4 112.7 561.6 115.7 557.9 118.7 554.5 121.5 551.4 123.9 548.7 126 546.1 128M591.1 89.7L589.3 91.1 587.5 92.5 585.6 93.9 583.8 95.3 581.9 96.6 580.1 98 578.2 99.4 576.2 100.9 574.1 102.4 572 104 569.8 105.6 567.7 107.2 565.4 108.8 561.6 111.5 557.2 114.6 552.8 117.7 548.6 120.7 544.7 123.3 541.5 125.5 538.6 127.5M580.2 96L578.2 97.3 576.1 98.6 573.9 100 571.7 101.5 569.4 103 567.1 104.5 564.7 106 562.3 107.5 558 110.2 553 113.3 547.9 116.5 542.7 119.6 537.9 122.6 533.8 125 530.5 127M601.7 81.2L599.6 82.5 597.5 83.8 595.4 85.1 593.3 86.4 591.2 87.7 589.1 88.9 587 90.2 584.8 91.5 582.7 92.7 580.6 94 578.4 95.2 576.3 96.5 574.1 97.7 571.8 99.1 569.3 100.5 566.9 101.9 564.4 103.3 561.9 104.7 559.3 106.2 554.6 108.8 549.1 111.8 543.2 115 537.1 118.3 531 121.6 525.6 124.4 521.7 126.5M576.8 94.5L574.5 95.6 572.2 96.8 569.7 98.1 567.1 99.4 564.5 100.8 561.9 102.1 559.2 103.4 556.5 104.8 551.4 107.2 545.4 110.2 538.9 113.3 532 116.6 524.7 120.1 517.4 123.6 512.1 126.1M587.2 88L584.9 89.2 582.5 90.3 580.1 91.4 577.7 92.5 575.3 93.6 572.8 94.8 570.4 95.9 567.8 97.1 565 98.3 562.3 99.5 559.5 100.8 556.7 102 553.8 103.3 548.4 105.6 542 108.4 535.1 111.4 527.7 114.6 519.6 118 510.9 121.8 501.5 125.8M573.8 92.8L571.3 93.8 568.7 94.9 565.9 96 563.1 97.1 560.2 98.3 557.3 99.4 554.3 100.6 551.3 101.7 545.7 103.9 539 106.5 531.8 109.2 524.2 112.2 516.2 115.3 508.1 118.5 502.2 120.7M596 83L593.4 84.1 590.8 85.1 588.2 86.1 585.6 87.1 583 88 580.4 89 577.7 90 575.1 90.9 572.5 91.9 569.8 92.8 567.2 93.8 564.2 94.8 561.2 95.9 558.2 96.9 555.2 98 552.1 99 548.9 100.1 543.2 102.1 536.3 104.5 529.2 106.9 521.7 109.5 514.3 112.1 507.7 114.5 502.9 116.1M571.2 91L568.4 91.8 565.7 92.7 562.6 93.6 559.6 94.6 556.4 95.5 553.3 96.5 550 97.5 546.8 98.5 540.9 100.2 534.1 102.3 527.1 104.5 520.1 106.6 513.5 108.8 508 110.5 503.5 111.9M584.2 86L581.4 86.8 578.6 87.6 575.7 88.4 572.9 89.2 570.1 90 567.2 90.8 564.4 91.6 561.2 92.4 558 93.3 554.8 94.1 551.5 95 548.2 95.9 544.8 96.8 539 98.3 532.3 100.1 525.6 101.9 519.2 103.7 513.4 105.4 508.5 106.8 504.1 108.1M569 89L566.1 89.7 563.2 90.4 559.9 91.1 556.6 91.9 553.3 92.7 549.9 93.4 546.5 94.2 543 95 537.3 96.4 530.9 97.9 524.6 99.4 518.7 100.9 513.5 102.2 509 103.3 504.6 104.4M600.8 80.6L597.9 81.4 594.9 82.1 591.9 82.8 589 83.5 586 84.2 583 84.8 580.1 85.5 577.1 86.1 574.1 86.7 571.1 87.4 568.1 88 565.1 88.6 562.1 89.2 558.8 89.8 555.4 90.5 552 91.2 548.5 91.9 545 92.6 541.4 93.3 535.8 94.4 529.7 95.7 523.9 96.9 518.6 98 513.8 99.1 509.5 100.1 505.1 101M567.3 86.9L564.2 87.5 561.1 88 557.7 88.5 554.3 89.1 550.8 89.7 547.3 90.3 543.7 90.9 540.1 91.5 534.7 92.4 529 93.4 523.6 94.4 518.7 95.3 514.2 96.1 509.9 97 505.5 97.8M582.1 83.6L579 84.1 575.9 84.5 572.8 85 569.7 85.4 566.6 85.9 563.5 86.3 560.3 86.7 556.9 87.2 553.4 87.7 549.8 88.1 546.2 88.6 542.6 89.1 538.9 89.6 533.7 90.4 528.4 91.2 523.5 91.9 518.9 92.6 514.6 93.3 510.3 94 506 94.8M566 84.8L562.8 85.1 559.7 85.5 556.2 85.8 552.6 86.2 549 86.6 545.4 87 541.7 87.4 537.9 87.8 533.1 88.4 528.1 88.9 523.5 89.5 519.1 90.1 514.9 90.6 510.7 91.2 506.4 91.8M594.3 81.1L591.1 81.4 587.9 81.7 584.7 82.1 581.5 82.4 578.3 82.6 575.1 82.9 572 83.2 568.8 83.5 565.6 83.7 562.4 84 559.1 84.2 555.6 84.5 552 84.7 548.4 85 544.7 85.3 541 85.6 537.2 85.9 532.6 86.3 528 86.7 523.6 87.1 519.4 87.6 515.3 88 511.1 88.5 506.8 88.9M565.2 82.6L562 82.8 558.8 82.9 555.2 83.1 551.6 83.3 547.9 83.4 544.2 83.6 540.5 83.8 536.7 84.1 532.3 84.3 528 84.6 523.9 84.8 519.8 85.2 515.6 85.5 511.5 85.8 507.2 86.2M581.2 81.1L578 81.2 574.7 81.3 571.5 81.4 568.3 81.5 565 81.5 561.8 81.6 558.5 81.6 555 81.7 551.3 81.8 547.7 81.9 543.9 81.9 540.2 82 536.4 82.2 532.3 82.3 528.2 82.4 524.1 82.6 520.1 82.8 516 83 511.8 83.2 507.6 83.4M564.9 80.4L561.7 80.4 558.4 80.4 554.9 80.3 551.2 80.3 547.6 80.3 543.8 80.3 540.1 80.3 536.3 80.3 532.3 80.3 528.4 80.3 524.4 80.4 520.4 80.4 516.3 80.5 512.2 80.6 508 80.7M600.5 79.9L597.3 80 594.1 80 590.8 80 587.6 79.9 584.4 79.9 581.1 79.8 577.9 79.7 574.7 79.6 571.4 79.6 568.2 79.5 565 79.3 561.7 79.2 558.5 79.1 554.9 79 551.3 78.8 547.6 78.7 543.9 78.6 540.2 78.5 536.4 78.4 532.5 78.3 528.6 78.2 524.7 78.1 520.7 78.1 516.6 78.1 512.5 78.1 508.4 78.1M565.1 78.3L561.9 78 558.7 77.8 555.1 77.6 551.5 77.4 547.9 77.1 544.2 76.9 540.5 76.7 536.7 76.5 532.8 76.3 528.9 76.1 525 75.9 521 75.8 517 75.6 512.9 75.5 508.8 75.4M581.4 78.5L578.2 78.3 575 78 571.8 77.8 568.6 77.5 565.4 77.2 562.2 76.9 559 76.6 555.5 76.2 551.9 75.9 548.3 75.6 544.7 75.3 541 74.9 537.2 74.6 533.2 74.3 529.2 74 525.3 73.7 521.3 73.4 517.3 73.2 513.3 72.9 509.2 72.7M565.8 76.1L562.6 75.7 559.5 75.3 556 74.9 552.5 74.5 548.9 74 545.3 73.6 541.7 73.2 538 72.8 533.8 72.3 529.6 71.9 525.6 71.5 521.6 71.1 517.7 70.7 513.6 70.3 509.6 69.9M594.4 78.9L591.3 78.5 588.1 78.1 585 77.7 581.9 77.3 578.8 76.9 575.7 76.4 572.5 76 569.4 75.5 566.3 75.1 563.2 74.6 560.1 74.1 556.7 73.6 553.2 73.1 549.7 72.5 546.2 72 542.6 71.5 538.9 71 534.5 70.4 530.1 69.8 526 69.2 522 68.7 518 68.2 514 67.7 510 67.2M567 74L563.9 73.5 560.8 72.9 557.5 72.3 554.1 71.7 550.6 71 547.2 70.4 543.6 69.8 540.1 69.2 535.5 68.4 530.8 67.6 526.4 66.9 522.3 66.2 518.4 65.6 514.4 64.9 510.4 64.3M582.7 76.1L579.7 75.5 576.7 74.9 573.7 74.3 570.7 73.7 567.7 73 564.7 72.4 561.7 71.7 558.4 71 555.1 70.3 551.7 69.6 548.3 68.9 544.9 68.2 541.4 67.5 536.6 66.5 531.6 65.5 527 64.5 522.7 63.7 518.7 62.9 514.8 62.1 510.8 61.3M568.6 72.1L565.6 71.3 562.7 70.6 559.5 69.8 556.3 69 553 68.2 549.7 67.4 546.3 66.6 543 65.8 538 64.6 532.7 63.3 527.7 62.1 523.2 61.1 519.1 60.1 515.2 59.2 511.3 58.3M600.9 79.2L598 78.5 595.2 77.9 592.3 77.2 589.4 76.4 586.6 75.7 583.7 74.9 580.9 74.2 578 73.4 575.2 72.7 572.4 71.9 569.5 71.1 566.7 70.3 563.9 69.5 560.7 68.6 557.6 67.7 554.4 66.8 551.2 65.9 548 65 544.7 64.1 539.5 62.7 534 61.2 528.7 59.7 523.9 58.4 519.6 57.2 515.6 56.1 511.7 55.1M570.6 70.2L567.9 69.3 565.1 68.4 562.1 67.5 559.1 66.5 556 65.5 552.9 64.5 549.7 63.5 546.6 62.5 541.3 60.9 535.5 59.1 529.9 57.3 524.7 55.6 520.1 54.2 516.1 52.9 512.2 51.7M585 73.9L582.4 73 579.7 72 577.1 71.1 574.4 70.2 571.8 69.3 569.1 68.4 566.5 67.4 563.6 66.4 560.7 65.3 557.7 64.2 554.7 63.2 551.7 62.1 548.6 61 543.4 59.1 537.4 57 531.5 54.9 525.9 52.9 520.8 51 516.6 49.5 512.7 48M573 68.4L570.5 67.4 568 66.4 565.2 65.3 562.4 64.2 559.5 63 556.7 61.9 553.8 60.7 550.9 59.5 545.7 57.5 539.7 55.1 533.5 52.6 527.5 50.1 521.8 47.8 517.1 45.8 513.3 44.2M596.4 76.9L593.9 75.9 591.5 74.9 589 73.9 586.6 72.9 584.1 71.8 581.7 70.8 579.3 69.7 576.8 68.7 574.4 67.6 572 66.6 569.6 65.5 566.9 64.3 564.2 63.1 561.5 61.9 558.8 60.6 556 59.4 553.2 58.1 548.2 55.9 542.2 53.2 536 50.4 529.7 47.5 523.4 44.5 517.9 41.9 513.9 40M575.9 66.8L573.6 65.7 571.3 64.6 568.7 63.4 566.2 62.1 563.6 60.8 561 59.5 558.4 58.2 555.8 56.8 550.9 54.4 545.1 51.5 539 48.4 532.6 45.2 525.9 41.6 519.3 38 514.6 35.4M588.3 72L586.1 70.8 583.9 69.6 581.7 68.4 579.6 67.3 577.4 66.1 575.2 64.9 573.1 63.8 570.7 62.5 568.3 61.1 565.9 59.8 563.4 58.4 560.9 57 558.4 55.6 553.8 53 548.3 50 542.5 46.7 536.4 43.2 529.8 39.3 522.8 35 515.3 30.3M579 65.4L577 64.2 574.9 63 572.7 61.6 570.5 60.2 568.2 58.8 565.9 57.4 563.6 55.9 561.2 54.5 557 51.8 551.8 48.6 546.5 45.2 540.8 41.6 534.9 37.8 529.1 33.9 525 31M601.8 78.6L599.9 77.4 597.9 76.2 596 74.9 594.1 73.7 592.2 72.4 590.2 71.1 588.3 69.9 586.4 68.6 584.5 67.3 582.6 66 580.7 64.8 578.8 63.5 576.9 62.2 574.8 60.8 572.7 59.4 570.6 57.9 568.5 56.5 566.3 55 564.2 53.4 560.2 50.7 555.6 47.4 550.8 44.1 545.9 40.6 541 37 536.7 33.9 533.7 31.6M582.5 64.2L580.7 62.8 579 61.5 577.1 60.1 575.1 58.6 573.2 57.1 571.2 55.6 569.2 54 567.2 52.5 563.7 49.7 559.6 46.5 555.4 43.2 551.3 39.9 547.4 36.8 544.3 34.2 541.7 32.1M592.3 70.4L590.7 69.1 589.1 67.7 587.5 66.3 585.9 65 584.3 63.6 582.7 62.2 581.1 60.9 579.3 59.4 577.6 57.9 575.8 56.3 574 54.8 572.2 53.2 570.3 51.6 567.2 48.9 563.7 45.7 560.1 42.6 556.8 39.6 553.8 36.8 551.3 34.6 549 32.5M586.2 63.1L584.7 61.7 583.3 60.3 581.7 58.8 580.1 57.2 578.5 55.6 576.9 54.1 575.2 52.4 573.6 50.8 570.9 48.1 567.9 45.1 565 42.2 562.3 39.5 559.9 37 557.9 34.9 555.9 32.9M599.8 75.5L598.5 74.1 597.2 72.7 595.9 71.3 594.6 69.8 593.3 68.4 592 67 590.7 65.5 589.4 64.1 588.1 62.7 586.8 61.2 585.5 59.8 584.1 58.2 582.7 56.6 581.3 55 579.8 53.4 578.4 51.7 576.9 50.1 574.6 47.5 572.1 44.7 569.8 42 567.7 39.5 565.8 37.3 564.1 35.3 562.3 33.3M590.1 62.3L589 60.8 587.8 59.3 586.6 57.7 585.4 56.1 584.1 54.5 582.9 52.8 581.6 51.1 580.3 49.4 578.4 47 576.4 44.3 574.6 41.9 572.9 39.6 571.4 37.6 569.9 35.6 568.5 33.6M596.9 69.3L595.9 67.9 595 66.4 594 64.9 593.1 63.4 592.1 61.9 591.1 60.4 590.2 58.9 589.1 57.3 588.1 55.7 587 54 586 52.3 584.9 50.6 583.8 48.9 582.3 46.5 580.7 44.1 579.3 41.8 578 39.7 576.7 37.8 575.5 35.9 574.3 33.9M594.2 61.6L593.4 60.1 592.6 58.6 591.7 56.9 590.9 55.3 590 53.6 589.1 51.9 588.2 50.2 587.3 48.4 586.1 46.2 585 43.9 583.9 41.8 582.9 39.8 581.9 37.9 580.9 36.1 579.9 34.1M603.1 78.3L602.5 76.7 601.9 75.2 601.2 73.6 600.6 72 600 70.5 599.3 69 598.7 67.4 598.1 65.9 597.5 64.4 596.9 62.8 596.2 61.3 595.6 59.8 595 58.3 594.3 56.6 593.7 55 593 53.3 592.3 51.5 591.6 49.8 590.9 48.1 590 46 589.2 43.8 588.4 41.9 587.6 40 586.9 38.1 586.1 36.2 585.3 34.3M598.3 61.1L597.9 59.6 597.5 58 597 56.4 596.5 54.7 596 53 595.5 51.3 595 49.5 594.5 47.8 593.9 45.8 593.3 43.8 592.8 41.9 592.3 40.1 591.7 38.2 591.2 36.3 590.6 34.4M601.8 68.7L601.6 67.1 601.3 65.6 601 64 600.7 62.5 600.5 60.9 600.2 59.4 599.9 57.8 599.6 56.1 599.3 54.4 599 52.7 598.7 51 598.4 49.2 598.1 47.5 597.8 45.6 597.5 43.7 597.1 41.9 596.8 40.1 596.5 38.2 596.2 36.4 595.8 34.5M602.6 60.8L602.5 59.2 602.4 57.7 602.3 56 602.2 54.2 602.1 52.5 602 50.8 601.9 49 601.8 47.3 601.6 45.4 601.5 43.6 601.4 41.8 601.3 40 601.2 38.2 601.1 36.3 601 34.4M604 75L604.1 73.4 604.2 71.8 604.3 70.2 604.3 68.6 604.4 67 604.5 65.4 604.6 63.8 604.7 62.2 604.7 60.7 604.8 59.1 604.9 57.6 605 55.9 605.1 54.1 605.1 52.4 605.2 50.6 605.3 48.9 605.4 47.1 605.5 45.3 605.6 43.5 605.7 41.7 605.8 39.9 605.9 38 606 36.2 606 34.3M606.9 60.6L607.1 59.1 607.4 57.5 607.6 55.8 607.9 54.1 608.2 52.3 608.5 50.6 608.8 48.8 609.1 47 609.4 45.2 609.6 43.4 609.9 41.6 610.2 39.7 610.5 37.9 610.8 36 611.1 34.1M606.8 68.6L607.3 67 607.7 65.4 608.1 63.8 608.6 62.2 609 60.7 609.4 59.1 609.8 57.6 610.3 55.8 610.8 54.1 611.2 52.4 611.7 50.6 612.2 48.8 612.7 47.1 613.2 45.2 613.7 43.3 614.2 41.4 614.7 39.5 615.2 37.7 615.8 35.8 616.3 33.9M611.1 60.8L611.7 59.2 612.3 57.6 612.9 55.9 613.6 54.2 614.3 52.5 614.9 50.7 615.6 48.9 616.3 47.2 617.1 45.1 617.8 43.1 618.6 41.2 619.3 39.3 620 37.4 620.7 35.5 621.5 33.6M604.6 78.2L605.4 76.6 606.2 75 606.9 73.5 607.7 71.9 608.5 70.3 609.3 68.7 610.1 67.1 610.9 65.6 611.6 64 612.4 62.4 613.2 60.9 613.9 59.3 614.7 57.8 615.5 56.1 616.4 54.4 617.3 52.6 618.1 50.9 619 49.1 619.9 47.3 620.9 45.2 622 43 623 41 623.9 39.1 624.9 37.1 625.8 35.2 626.8 33.3M615.2 61.1L616.2 59.5 617.1 58 618.1 56.3 619.2 54.6 620.2 52.9 621.3 51.1 622.3 49.4 623.4 47.6 624.8 45.3 626.2 43 627.5 40.8 628.7 38.8 629.9 36.8 631 34.9 632.2 32.9M611.7 69L612.8 67.4 613.9 65.9 615 64.4 616.1 62.8 617.3 61.3 618.4 59.8 619.5 58.2 620.7 56.6 621.9 54.9 623.1 53.2 624.3 51.4 625.6 49.7 626.9 47.9 628.6 45.5 630.4 43 632 40.7 633.6 38.5 635 36.5 636.4 34.5 637.8 32.5M619.2 61.6L620.5 60.1 621.8 58.6 623.1 56.9 624.5 55.2 625.9 53.5 627.4 51.8 628.8 50.1 630.3 48.4 632.4 45.8 634.6 43.1 636.7 40.5 638.6 38.2 640.3 36.1 642 34 643.6 32M608.2 75.3L609.6 73.8 611.1 72.4 612.5 70.9 614 69.4 615.4 67.9 616.9 66.4 618.3 64.9 619.7 63.4 621.2 61.9 622.6 60.4 624 59 625.6 57.3 627.1 55.7 628.7 54 630.3 52.3 631.9 50.6 633.6 48.9 636.1 46.2 638.9 43.3 641.5 40.5 643.8 37.9 645.9 35.6 647.8 33.5 649.8 31.4M623.1 62.3L624.6 60.9 626.2 59.4 627.9 57.8 629.7 56.2 631.4 54.5 633.2 52.9 635 51.2 636.8 49.5 639.8 46.7 643.1 43.6 646.2 40.5 649.2 37.7 651.8 35.1 654 32.9 656.2 30.8M616.2 69.9L617.9 68.5 619.7 67 621.4 65.6 623.1 64.2 624.9 62.8 626.6 61.3 628.3 59.9 630.2 58.3 632.1 56.8 634.1 55.2 636 53.5 638 51.9 640 50.2 643.3 47.3 647.2 44 651 40.7 654.7 37.6 657.9 34.7 660.6 32.3 663.1 30.1M626.6 63.3L628.5 61.9 630.4 60.5 632.4 59 634.5 57.4 636.6 55.8 638.7 54.2 640.8 52.6 643 51 646.8 48.1 651.2 44.7 655.7 41.2 660.1 37.7 664.3 34.4 667.7 31.7 670.4 29.4M605.8 78.5L607.9 77.2 610 75.9 612 74.5 614.1 73.2 616.1 71.9 618.2 70.5 620.2 69.2 622.3 67.8 624.3 66.5 626.3 65.1 628.3 63.8 630.3 62.5 632.4 61.1 634.6 59.6 636.8 58.1 639 56.6 641.3 55 643.6 53.4 645.9 51.9 650.1 49 655 45.5 660.2 41.9 665.4 38.2 670.6 34.4 675.1 31.2 678.4 28.9M630 64.4L632.1 63.1 634.2 61.8 636.6 60.4 639 58.9 641.4 57.4 643.8 55.9 646.3 54.4 648.7 52.8 653.3 50 658.7 46.6 664.3 42.9 670.3 39.1 676.5 35.2 682.7 31.3 687.1 28.5M620 71.3L622.3 70 624.6 68.8 626.9 67.5 629.2 66.3 631.5 65.1 633.8 63.8 636 62.5 638.5 61.1 641.1 59.7 643.6 58.3 646.2 56.9 648.8 55.4 651.4 53.9 656.2 51.2 662 47.8 668.1 44.3 674.6 40.6 681.5 36.8 688.9 32.7 696.8 28.3M633 65.7L635.3 64.5 637.7 63.3 640.4 62 643 60.6 645.7 59.3 648.4 57.9 651.2 56.5 653.9 55.1 659 52.4 665.1 49.3 671.4 46 678.1 42.7 685.1 39.2 692.1 35.8 697 33.4M611.5 76.6L614 75.5 616.6 74.4 619.1 73.3 621.7 72.1 624.2 71 626.8 69.9 629.3 68.8 631.8 67.6 634.3 66.5 636.8 65.3 639.3 64.2 642.1 62.9 644.9 61.6 647.7 60.3 650.5 59 653.4 57.7 656.3 56.3 661.6 53.9 667.8 50.9 674.2 48 680.8 45.1 687.4 42.2 693.1 39.8 697.2 38M635.6 67.3L638.2 66.2 640.8 65.1 643.7 63.9 646.6 62.7 649.6 61.4 652.5 60.2 655.5 58.9 658.5 57.7 663.9 55.4 670.1 52.8 676.4 50.2 682.7 47.8 688.6 45.5 693.4 43.7 697.4 42.2M623.1 73.1L625.8 72.1 628.6 71.1 631.3 70.1 634 69.1 636.8 68.1 639.5 67.1 642.2 66 645.2 64.9 648.2 63.8 651.3 62.6 654.4 61.5 657.5 60.3 660.6 59.1 666 57 672.1 54.7 678.2 52.6 684.1 50.6 689.3 48.8 693.6 47.4 697.6 46.1M637.9 68.9L640.7 68 643.5 67 646.6 66 649.7 64.9 652.8 63.9 656 62.8 659.3 61.7 662.5 60.6 667.9 58.8 673.8 56.8 679.6 55 684.9 53.4 689.7 52.1 693.8 50.9 697.7 49.8M606.7 79.1L609.7 78.3 612.6 77.5 615.5 76.7 618.4 75.8 621.4 75 624.3 74.2 627.2 73.3 630.1 72.4 633 71.6 635.9 70.7 638.8 69.8 641.7 69 644.6 68.1 647.8 67.1 651 66.1 654.3 65.2 657.6 64.2 660.9 63.1 664.2 62.1 669.5 60.6 675.2 59 680.6 57.5 685.5 56.2 689.9 55.1 693.9 54.2 697.9 53.2M639.7 70.8L642.7 70 645.6 69.2 648.9 68.3 652.2 67.4 655.5 66.5 658.9 65.6 662.3 64.7 665.8 63.8 670.9 62.4 676.2 61.1 681.3 60 685.9 58.9 690 58.1 694 57.2 698 56.4M625.2 75.3L628.3 74.6 631.3 73.9 634.4 73.2 637.4 72.5 640.4 71.7 643.5 71 646.5 70.3 649.9 69.5 653.2 68.7 656.7 67.9 660.1 67.1 663.6 66.3 667.1 65.5 672 64.4 677.1 63.3 681.8 62.4 686.1 61.6 690.1 60.9 694.1 60.2 698.2 59.5M641.1 72.7L644.2 72.1 647.3 71.5 650.7 70.8 654.1 70.1 657.6 69.4 661.1 68.6 664.7 67.9 668.3 67.2 673 66.3 677.7 65.5 682.1 64.8 686.2 64.1 690.2 63.6 694.2 63 698.3 62.5M613.3 78.5L616.4 78 619.6 77.5 622.7 77 625.9 76.5 629 75.9 632.2 75.4 635.3 74.9 638.5 74.3 641.6 73.8 644.8 73.2 647.9 72.7 651.4 72.1 654.9 71.4 658.4 70.8 662 70.2 665.6 69.6 669.2 69 673.7 68.3 678.1 67.7 682.3 67.1 686.3 66.6 690.3 66.2 694.4 65.8 698.4 65.3M642 74.8L645.2 74.3 648.4 73.9 651.9 73.4 655.4 72.9 659 72.3 662.6 71.8 666.3 71.3 670 70.8 674.2 70.3 678.4 69.9 682.5 69.4 686.4 69.1 690.4 68.8 694.5 68.4 698.5 68.1M626.3 77.7L629.5 77.3 632.7 77 635.9 76.6 639.1 76.2 642.3 75.9 645.5 75.5 648.7 75.1 652.3 74.7 655.8 74.3 659.5 73.9 663.1 73.5 666.8 73.1 670.6 72.7 674.6 72.3 678.6 72 682.6 71.7 686.5 71.5 690.5 71.3 694.6 71.1 698.7 70.9M642.5 76.9L645.7 76.7 648.9 76.4 652.5 76.1 656.1 75.8 659.7 75.5 663.4 75.2 667.1 74.9 670.9 74.6 674.8 74.4 678.7 74.2 682.6 74 686.6 73.8 690.6 73.8 694.7 73.7 698.8 73.6" fill="none" stroke="#180a14" stroke-width="0.9" opacity="0.64" stroke-linejoin="round"/>
<ellipse cx="579" cy="79" rx="17" ry="11" fill="url(#dk)"/>
<ellipse cx="633" cy="78.5" rx="17" ry="11" fill="url(#dk)"/>
<ellipse cx="605" cy="79" rx="52" ry="26" fill="url(#dk2)"/>
<path d="M515.3 30.3L517.6 30.5 519.9 30.6 522.2 30.8 524.5 31 526.8 31.1 529.1 31.3 531.4 31.5 533.7 31.6 536 31.8 538.3 31.9 540.6 32.1 542.9 32.2 545.2 32.3 547.5 32.4 549.8 32.6 552.1 32.7 554.4 32.8 556.7 33 559 33.1 561.2 33.2 563.5 33.3 565.8 33.5 568.1 33.6 570.4 33.7 572.7 33.9 575 34 577.3 34.1 579.6 34.1 581.9 34.2 584.2 34.3 586.5 34.3 588.8 34.4 591.1 34.5 593.4 34.5 595.7 34.5 598 34.5 600.3 34.5 602.6 34.4 604.9 34.3 607.2 34.2 609.5 34.2 611.8 34.1 614.1 34 616.4 33.9 618.7 33.8 621 33.6 623.3 33.5 625.6 33.3 627.9 33.2 630.2 33.1 632.5 32.9 634.8 32.7 637.1 32.6 639.4 32.4 641.7 32.1 644 31.9 646.3 31.7 648.6 31.5 650.9 31.3 653.1 31.1 655.4 30.9 657.7 30.6 660 30.4 662.3 30.2 664.6 29.9 666.9 29.7 669.2 29.5 671.5 29.3 673.8 29.2 676.1 29.1 678.4 28.9 680.7 28.8 683 28.7 685.3 28.6 687.6 28.5 689.9 28.5 692.2 28.4 694.5 28.4 696.8 28.3 701 124.3 698.5 124.4 695.9 124.6 693.4 124.7 690.9 124.8 688.4 125 685.8 125.1 683.3 125.2 680.8 125.4 678.3 125.5 675.7 125.7 673.2 125.9 670.7 126.1 668.2 126.2 665.6 126.4 663.1 126.6 660.6 126.8 658.1 126.9 655.5 127.1 653 127.3 650.5 127.5 648 127.6 645.4 127.8 642.9 128 640.4 128.2 637.9 128.3 635.3 128.5 632.8 128.7 630.3 128.9 627.8 129.1 625.2 129.2 622.7 129.4 620.2 129.5 617.7 129.7 615.1 129.8 612.6 129.9 610.1 129.9 607.6 130 605 130.1 602.5 130.2 600 130.2 597.5 130.2 594.9 130.2 592.4 130.2 589.9 130.1 587.4 130.1 584.8 130.1 582.3 130 579.8 130 577.3 129.9 574.7 129.7 572.2 129.6 569.7 129.5 567.2 129.4 564.6 129.2 562.1 129.1 559.6 128.9 557.1 128.8 554.5 128.6 552 128.4 549.5 128.3 547 128.1 544.4 127.9 541.9 127.7 539.4 127.6 536.9 127.4 534.3 127.2 531.8 127.1 529.3 126.9 526.8 126.8 524.2 126.6 521.7 126.5 519.2 126.4 516.7 126.3 514.1 126.2 511.6 126.1 509.1 126 506.6 126 504 125.9 501.5 125.8Z" fill="none" stroke="#180a14" stroke-width="0.9" opacity="0.8"/></g>
<g filter="url(#soft)"><path d="M136.4 379.6L138.7 379.8 141 379.9 143.4 380.1 145.7 380.2 148 380.4 150.3 380.5 152.6 380.7 155 380.9 157.3 381 159.6 381.2 161.9 381.4 164.2 381.6 166.5 382 168.9 382.4 171.2 383 173.5 383.6 175.8 384.1 178.1 384.7 180.5 385.3 182.8 385.9 185.1 386.5 187.4 387.1 189.7 387.6 192.1 388.1 194.4 388.5 196.7 388.8 199 389.1 201.3 389.4 203.7 389.5 206 389.7 208.3 389.7 210.6 389.8 212.9 389.9 215.2 390 217.6 390 219.9 390 222.2 390 224.5 390 226.8 390 229.2 390 231.5 390.1 233.8 390.2 236.1 390.3 238.4 390.4 240.8 390.4 243.1 390.5 245.4 390.5 247.7 390.5 250 390.5 252.3 390.4 254.7 390.4 257 390.2 259.3 390 261.6 389.7 263.9 389.3 266.3 388.9 268.6 388.4 270.9 388 273.2 387.5 275.5 387 277.9 386.5 280.2 386 282.5 385.5 284.8 385.1 287.1 384.7 289.5 384.3 291.8 384 294.1 383.7 296.4 383.6 298.7 383.4 301 383.3 303.4 383.2 305.7 383.2 308 383.2 310.3 383.2 312.6 383.2 315 383.2 317.3 383.2 319.6 383.2 319.8 413 135 408.8Z" fill="#c6c2c0"/>
<path d="M136.4 379.6L135 408.8M145.6 380.2L144.2 409M154.7 380.9L153.5 409.2M163.9 381.6L162.7 409.4M173 383.4L172 409.6M182.2 385.8L181.2 409.9M191.4 388L190.4 410.1M200.5 389.3L201.5 395.3 203.1 401.1 202.3 406.3 199.7 410.3M209.7 389.8L204.8 394.9 213.7 400.6 213.1 404.1 208.9 410.5M218.8 390L218.4 394.4 218.9 400.6 213.5 404.7 218.2 410.7M228 390L225.6 396.5 230.4 399.4 230.5 404.6 227.4 410.9M237.2 390.3L238.2 394.4 231.9 401.8 233.9 405.1 236.6 411.1M246.3 390.5L251 396.8 244 402.3 246.4 406.7 245.9 411.3M255.5 390.3L252.4 396.9 257.2 402.3 259.1 405.6 255.1 411.5M264.6 389.2L263.2 393.8 261 399.2 262.4 406.4 264.4 411.7M273.8 387.4L273.6 411.9M283 385.5L282.8 412.2M292.1 383.9L292.1 412.4M301.3 383.3L301.3 412.6M310.4 383.2L310.6 412.8M319.6 383.2L319.8 413M136.3 382.5L140.8 382.8 145.4 383.1 150 383.4 154.6 383.7 159.2 384 163.8 384.4 168.3 385.1 172.9 386.1 177.5 387.1 182.1 388.2 186.7 389.2 191.3 390.2 195.9 388.7 200.4 392.2 205 391 209.6 391 214.2 393.4 218.8 392 223.4 391.3 227.9 392 232.5 393.1 237.1 390.4 241.7 394.6 246.3 390.5 250.9 393.7 255.4 394 260 390 264.6 392.7 269.2 390.7 273.8 389.8 278.4 388.9 282.9 388.1 287.5 387.4 292.1 386.8 296.7 386.4 301.3 386.2 305.9 386.2 310.5 386.2 315 386.2 319.6 386.2M136.1 385.4L140.7 385.7 145.3 386 149.9 386.3 154.5 386.5 159.1 386.8 163.6 387.1 168.2 387.8 172.8 388.7 177.4 389.6 182 390.6 186.6 391.5 191.2 392.4 195.8 392.4 200.4 393.8 204.9 391.6 209.5 391.9 214.1 392.7 218.7 396.1 223.3 392.8 227.9 395.3 232.5 396.2 237.1 396.4 241.6 393.9 246.2 394 250.8 394.8 255.4 395.8 260 392.5 264.6 394.8 269.2 393 273.8 392.3 278.3 391.5 282.9 390.8 287.5 390.2 292.1 389.6 296.7 389.3 301.3 389.1 305.9 389.1 310.5 389.1 315.1 389.1 319.6 389.2M136 388.4L140.6 388.6 145.2 388.9 149.8 389.1 154.3 389.4 158.9 389.6 163.5 389.9 168.1 390.5 172.7 391.3 177.3 392.1 181.9 393 186.5 393.8 191.1 394.6 195.7 396.5 200.3 397.2 204.9 393.8 209.5 398 214 394.3 218.6 395.5 223.2 396.7 227.8 398.1 232.4 395.7 237 398.4 241.6 396.9 246.2 395.9 250.8 395.9 255.4 395.3 260 394.6 264.6 394.4 269.1 395.4 273.7 394.7 278.3 394.1 282.9 393.5 287.5 392.9 292.1 392.5 296.7 392.2 301.3 392.1 305.9 392 310.5 392.1 315.1 392.1 319.7 392.1M135.8 391.3L140.4 391.5 145 391.7 149.6 392 154.2 392.2 158.8 392.4 163.4 392.7 168 393.2 172.6 393.9 177.2 394.7 181.8 395.4 186.4 396.1 191 396.8 195.6 398.1 200.2 399.9 204.8 396.4 209.4 396.1 214 400.3 218.6 398.4 223.2 397.9 227.8 397.2 232.4 398.9 237 400.1 241.5 398.6 246.1 398.5 250.7 396.9 255.3 400.6 259.9 396.6 264.5 398.2 269.1 397.7 273.7 397.2 278.3 396.6 282.9 396.1 287.5 395.7 292.1 395.3 296.7 395.1 301.3 395 305.9 395 310.5 395 315.1 395.1 319.7 395.1M135.7 394.2L140.3 394.4 144.9 394.6 149.5 394.8 154.1 395 158.7 395.2 163.3 395.5 167.9 395.9 172.5 396.5 177.1 397.2 181.7 397.8 186.3 398.4 190.9 399 195.5 400.9 200.1 398.2 204.7 401 209.3 402.1 213.9 400.8 218.5 401.6 223.1 398.7 227.7 400.2 232.3 399 236.9 402.2 241.5 399.9 246.1 400.7 250.7 403.1 255.3 402.5 259.9 402.9 264.5 400.3 269.1 400.1 273.7 399.7 278.3 399.2 282.9 398.8 287.5 398.4 292.1 398.2 296.7 398 301.3 397.9 305.9 397.9 310.5 398 315.1 398 319.7 398.1M135.6 397.1L140.2 397.3 144.8 397.5 149.4 397.7 154 397.9 158.6 398.1 163.2 398.3 167.8 398.7 172.4 399.2 177 399.7 181.6 400.2 186.2 400.7 190.8 401.2 195.4 401.5 200 402.9 204.6 402 209.2 401.3 213.8 401.9 218.4 400.9 223 401.9 227.6 404.7 232.2 404.7 236.8 403.3 241.5 402.9 246.1 402.3 250.7 401.2 255.3 402 259.9 404.2 264.5 404.3 269.1 402.4 273.7 402.1 278.3 401.8 282.9 401.5 287.5 401.2 292.1 401 296.7 400.9 301.3 400.9 305.9 400.9 310.5 401 315.1 401 319.7 401.1M135.4 400L140 400.2 144.6 400.4 149.2 400.5 153.9 400.7 158.5 400.9 163.1 401.1 167.7 401.4 172.3 401.8 176.9 402.2 181.5 402.6 186.1 403 190.7 403.4 195.3 403.1 199.9 405.2 204.5 405.4 209.1 405.1 213.8 405.1 218.4 405.6 223 404 227.6 405.5 232.2 403.8 236.8 404.8 241.4 406.2 246 405.9 250.6 404.2 255.2 407.1 259.8 405.8 264.4 405.3 269.1 404.8 273.7 404.6 278.3 404.4 282.9 404.2 287.5 404 292.1 403.8 296.7 403.8 301.3 403.8 305.9 403.8 310.5 403.9 315.1 404 319.7 404.1M135.3 403L139.9 403.1 144.5 403.3 149.1 403.4 153.7 403.5 158.3 403.7 163 403.9 167.6 404.1 172.2 404.4 176.8 404.7 181.4 405 186 405.3 190.6 405.6 195.2 403.7 199.8 406.3 204.5 405.1 209.1 407.1 213.7 406.3 218.3 407.9 222.9 407.3 227.5 408 232.1 406.2 236.7 407.6 241.4 408.1 246 408.6 250.6 406.6 255.2 408.8 259.8 408.9 264.4 408.1 269 407.1 273.6 407 278.3 406.9 282.9 406.8 287.5 406.7 292.1 406.7 296.7 406.7 301.3 406.7 305.9 406.8 310.5 406.9 315.1 407 319.8 407M135.1 405.9L139.8 406 144.4 406.1 149 406.3 153.6 406.4 158.2 406.5 162.8 406.6 167.5 406.8 172.1 407 176.7 407.2 181.3 407.4 185.9 407.7 190.5 407.8 195.1 410.1 199.8 410.2 204.4 408.4 209 408.5 213.6 407.1 218.2 410.1 222.8 410.6 227.5 408.7 232.1 409.8 236.7 410 241.3 410.2 245.9 407.8 250.5 410.6 255.2 409.8 259.8 410.2 264.4 409.1 269 409.5 273.6 409.5 278.2 409.5 282.9 409.5 287.5 409.5 292.1 409.5 296.7 409.6 301.3 409.7 305.9 409.7 310.5 409.8 315.2 409.9 319.8 410" fill="none" stroke="#2a2428" stroke-width="0.85" opacity="0.68" stroke-linejoin="round"/>
<path d="M201.4 393.7L205.7 392.3 208.6 405.1 202.9 406.6ZM218.6 392.6L227.1 393.2 222.9 400.9ZM248.6 395.1L257.1 393.7 255.7 406.6 250 405.1ZM185.7 392.3L191.4 393.7 190 406.6 186.4 405.1ZM236 403.5L246 404.5 243 409.5 237 409ZM262 392L268 391.5 267 400 263 401Z" fill="#8f8b8a" opacity="0.55"/>
<path d="M191.4 388.8L200 389.6 197 392.2Z" fill="#fff"/>
<path d="M208.6 392.9L221.4 393.4 219 397.2 211 396Z" fill="#fff"/>
<path d="M218.6 404.3L228.6 405.5 226 409 221 407.6Z" fill="#fff"/>
<path d="M230 397.5L234 397 248.6 400.5 240 403 232 402.6Z" fill="#fff"/>
<path d="M225 391.5L231 392 228 394.5Z" fill="#fff"/>
<path d="M136.4 377.3L138.7 377.5 141 377.6 143.4 377.8 145.7 377.9 148 378.1 150.3 378.2 152.6 378.4 155 378.6 157.3 378.7 159.6 378.9 161.9 379.1 164.2 379.3 166.5 379.7 168.9 380.1 171.2 380.7 173.5 381.3 175.8 381.8 178.1 382.4 180.5 383 182.8 383.6 185.1 384.2 187.4 384.8 189.7 385.3 192.1 385.8 194.4 386.2 196.7 386.5 199 386.8 201.3 387.1 203.7 387.2 206 387.4 208.3 387.4 210.6 387.5 212.9 387.6 215.2 387.7 217.6 387.7 219.9 387.7 222.2 387.7 224.5 387.7 226.8 387.7 229.2 387.7 231.5 387.8 233.8 387.9 236.1 388 238.4 388.1 240.8 388.1 243.1 388.2 245.4 388.2 247.7 388.2 250 388.2 252.3 388.1 254.7 388.1 257 387.9 259.3 387.7 261.6 387.4 263.9 387 266.3 386.6 268.6 386.1 270.9 385.7 273.2 385.2 275.5 384.7 277.9 384.2 280.2 383.7 282.5 383.2 284.8 382.8 287.1 382.4 289.5 382 291.8 381.7 294.1 381.4 296.4 381.3 298.7 381.1 301 381 303.4 380.9 305.7 380.9 308 380.9 310.3 380.9 312.6 380.9 315 380.9 317.3 380.9 319.6 380.9 319.6 383.2 317.3 383.2 315 383.2 312.6 383.2 310.3 383.2 308 383.2 305.7 383.2 303.4 383.2 301 383.3 298.7 383.4 296.4 383.6 294.1 383.7 291.8 384 289.5 384.3 287.1 384.7 284.8 385.1 282.5 385.5 280.2 386 277.9 386.5 275.5 387 273.2 387.5 270.9 388 268.6 388.4 266.3 388.9 263.9 389.3 261.6 389.7 259.3 390 257 390.2 254.7 390.4 252.3 390.4 250 390.5 247.7 390.5 245.4 390.5 243.1 390.5 240.8 390.4 238.4 390.4 236.1 390.3 233.8 390.2 231.5 390.1 229.2 390 226.8 390 224.5 390 222.2 390 219.9 390 217.6 390 215.2 390 212.9 389.9 210.6 389.8 208.3 389.7 206 389.7 203.7 389.5 201.3 389.4 199 389.1 196.7 388.8 194.4 388.5 192.1 388.1 189.7 387.6 187.4 387.1 185.1 386.5 182.8 385.9 180.5 385.3 178.1 384.7 175.8 384.1 173.5 383.6 171.2 383 168.9 382.4 166.5 382 164.2 381.6 161.9 381.4 159.6 381.2 157.3 381 155 380.9 152.6 380.7 150.3 380.5 148 380.4 145.7 380.2 143.4 380.1 141 379.9 138.7 379.8 136.4 379.6Z" fill="#2f2c90" stroke="#26246e" stroke-width="0.5"/>
<path d="M142.3 261.5L144.5 261.6 146.8 261.7 149 261.8 151.3 261.9 153.5 262.1 155.8 262.2 158 262.4 160.3 262.5 162.5 262.7 164.8 263 167 263.4 169.3 263.8 171.5 264.3 173.8 264.7 176 265.2 178.3 265.7 180.5 266.2 182.8 266.7 185 267.2 187.3 267.8 189.5 268.3 191.8 268.9 194 269.5 196.3 270 198.5 270.5 200.8 270.9 203 271.3 205.3 271.6 207.5 271.9 209.8 272.2 212 272.6 214.3 272.8 216.5 273.1 218.8 273.2 221 273.3 223.3 273.5 225.5 273.6 227.8 273.7 230 273.8 232.3 273.8 234.5 273.9 236.8 273.9 239 273.8 241.3 273.6 243.5 273.5 245.8 273.4 248 273.2 250.3 273.1 252.5 272.9 254.8 272.7 257 272.5 259.3 272.2 261.5 272 263.8 271.8 266 271.5 268.3 271.3 270.5 270.9 272.8 270.6 275 270.2 277.3 269.8 279.5 269.4 281.8 269.1 284 268.7 286.3 268.5 288.5 268.3 290.8 268.2 293 268 295.3 267.9 297.5 267.8 299.8 267.6 302 267.5 304.3 267.5 306.5 267.4 308.8 267.3 311 267.3 313.3 267.2 315.5 267.2 317.8 267.1 320 267.1 319.6 380.9 317.3 380.9 315 380.9 312.6 380.9 310.3 380.9 308 380.9 305.7 380.9 303.4 380.9 301 381 298.7 381.1 296.4 381.3 294.1 381.4 291.8 381.7 289.5 382 287.1 382.4 284.8 382.8 282.5 383.2 280.2 383.7 277.9 384.2 275.5 384.7 273.2 385.2 270.9 385.7 268.6 386.1 266.3 386.6 263.9 387 261.6 387.4 259.3 387.7 257 387.9 254.7 388.1 252.3 388.1 250 388.2 247.7 388.2 245.4 388.2 243.1 388.2 240.8 388.1 238.4 388.1 236.1 388 233.8 387.9 231.5 387.8 229.2 387.7 226.8 387.7 224.5 387.7 222.2 387.7 219.9 387.7 217.6 387.7 215.2 387.7 212.9 387.6 210.6 387.5 208.3 387.4 206 387.4 203.7 387.2 201.3 387.1 199 386.8 196.7 386.5 194.4 386.2 192.1 385.8 189.7 385.3 187.4 384.8 185.1 384.2 182.8 383.6 180.5 383 178.1 382.4 175.8 381.8 173.5 381.3 171.2 380.7 168.9 380.1 166.5 379.7 164.2 379.3 161.9 379.1 159.6 378.9 157.3 378.7 155 378.6 152.6 378.4 150.3 378.2 148 378.1 145.7 377.9 143.4 377.8 141 377.6 138.7 377.5 136.4 377.3Z" fill="#4849a8"/>
<path d="M252.6 330.4L252.5 331.3 249.6 331.2 249.8 330.4ZM255.6 329.3L255.5 330.3 255.3 331.3 255.1 332.4 254.7 333.4 254.3 334.4 253.8 335.3 253.1 336.3 252.4 337.2 249.9 336.5 250.5 335.7 251.1 334.8 251.6 333.9 251.9 333.1 252.3 332.2 252.5 331.3 252.6 330.4 252.7 329.5ZM205.7 335.5L205.1 334.5 204.6 333.5 204.2 332.5 203.9 331.5 203.7 330.4 203.6 329.4 203.6 328.4 203.7 327.4 203.9 326.4 204.2 325.5 204.5 324.5 205 323.6 205.5 322.7 208.2 323.6 207.7 324.4 207.3 325.2 207 326.1 206.7 326.9 206.6 327.8 206.5 328.7 206.5 329.6 206.6 330.5 206.8 331.4 207.1 332.3 207.4 333.2 207.8 334.1 208.3 334.9ZM253.4 322.7L254 323.5 254.5 324.5 254.9 325.4 255.2 326.4 255.4 327.3 255.6 328.3 255.6 329.3 252.7 329.5 252.7 328.6 252.6 327.7 252.4 326.9 252.1 326 251.7 325.2 251.3 324.3 250.8 323.5ZM258.5 329.1L258.4 330.3 258.2 331.4 257.9 332.5 257.5 333.6 257 334.7 256.5 335.8 255.8 336.9 255 338 254.1 339 253.1 340 252.1 340.9 249.8 339.9 250.8 339 251.6 338.1 252.4 337.2 253.1 336.3 253.8 335.3 254.3 334.4 254.7 333.4 255.1 332.4 255.3 331.3 255.5 330.3 255.6 329.3ZM206.5 340.1L205.5 339.2 204.6 338.1 203.7 337.1 203 336 202.4 334.9 201.9 333.7 201.4 332.6 201.1 331.5 200.9 330.3 200.7 329.2 200.7 328.1 200.8 327 201 325.9 201.3 324.8 201.7 323.8 202.2 322.7 202.8 321.8 203.5 320.8 204.3 319.9 205.2 319 206.2 318.2 207.3 317.4 208.4 316.7 210.5 318.1 209.5 318.7 208.5 319.5 207.7 320.2 206.9 321 206.1 321.8 205.5 322.7 205 323.6 204.5 324.5 204.2 325.5 203.9 326.4 203.7 327.4 203.6 328.4 203.6 329.4 203.7 330.4 203.9 331.5 204.2 332.5 204.6 333.5 205.1 334.5 205.7 335.5 206.3 336.4 207.1 337.4 207.9 338.3 208.8 339.2ZM253.6 319L254.5 319.9 255.3 320.8 256.1 321.7 256.7 322.7 257.3 323.7 257.7 324.8 258.1 325.8 258.3 326.9 258.4 328 258.5 329.1 255.6 329.3 255.6 328.3 255.4 327.3 255.2 326.4 254.9 325.4 254.5 324.5 254 323.5 253.4 322.7 252.8 321.8 252 321 251.2 320.2ZM258.4 337.5L257.5 338.7 256.6 339.8 255.5 340.9 254.3 342 253.1 343 251.7 343.9 249.7 342.7 250.9 341.8 252.1 340.9 253.1 340 254.1 339 255 338 255.8 336.9ZM206.7 343.2L205.4 342.1 204.2 341.1 203.1 340 202.1 338.8 201.2 337.6 200.4 336.4 203 336 203.7 337.1 204.6 338.1 205.5 339.2 206.5 340.1 207.6 341.1 208.8 342ZM199.5 321.8L200.2 320.8 200.9 319.7 201.8 318.7 202.8 317.8 203.9 316.9 205 316 206.3 315.2 207.6 314.5 209 313.8 210.5 313.2 212.1 312.6 213.7 314.2 212.3 314.8 210.9 315.3 209.6 316 208.4 316.7 207.3 317.4 206.2 318.2 205.2 319 204.3 319.9 203.5 320.8 202.8 321.8 202.2 322.7ZM254.9 316.9L256 317.8 257 318.8 257.9 319.8 258.7 320.8 259.4 321.9 256.7 322.7 256.1 321.7 255.3 320.8 254.5 319.9 253.6 319 252.6 318.2ZM259 340.6L257.9 341.8 256.6 343 255.2 344.1 253.8 345.2 252.2 346.2 250.3 344.8 251.7 343.9 253.1 343 254.3 342 255.5 340.9 256.6 339.8ZM207.7 346.3L206.1 345.3 204.6 344.3 203.2 343.2 201.9 342 200.7 340.8 203.1 340 204.2 341.1 205.4 342.1 206.7 343.2 208 344.1 209.5 345ZM205.6 313L207.2 312.2 208.8 311.6 210.5 310.9 212.3 310.4 213.7 312.1 212.1 312.6 210.5 313.2 209 313.8 207.6 314.5ZM254.4 313.8L255.8 314.7 257.1 315.6 258.4 316.6 259.5 317.6 260.5 318.7 257.9 319.8 257 318.8 256 317.8 254.9 316.9 253.6 316 252.4 315.2ZM258.8 344L257.4 345.2 255.8 346.4 254.1 347.5 252.3 348.5 250.6 347.1 252.2 346.2 253.8 345.2 255.2 344.1 256.6 343ZM207.6 348.7L205.8 347.7 204.1 346.6 202.5 345.4 201 344.2 203.2 343.2 204.6 344.3 206.1 345.3 207.7 346.3 209.3 347.2ZM207.1 309.9L208.9 309.3 210.9 308.7 212.8 308.2 214.1 309.9 212.3 310.4 210.5 310.9 208.8 311.6ZM253.1 310.7L254.9 311.5 256.5 312.4 258 313.3 259.4 314.3 260.7 315.3 258.4 316.6 257.1 315.6 255.8 314.7 254.4 313.8 252.9 313 251.3 312.2ZM257.8 347.6L256 348.8 254.1 349.9 252.1 350.9 250.5 349.4 252.3 348.5 254.1 347.5 255.8 346.4ZM208 351.1L205.9 350.1 204 349 202.1 347.8 204.1 346.6 205.8 347.7 207.6 348.7 209.5 349.6ZM205.4 308.3L207.4 307.6 209.4 307 211.6 306.4 212.8 308.2 210.9 308.7 208.9 309.3 207.1 309.9ZM253 308.4L254.9 309.1 256.8 310 258.5 310.9 260.2 311.9 258 313.3 256.5 312.4 254.9 311.5 253.1 310.7 251.3 310ZM258.1 350.2L256 351.4 253.9 352.5 251.6 353.5 250 351.8 252.1 350.9 254.1 349.9 256 348.8ZM208.5 353.7L206.2 352.7 204.1 351.6 202 350.4 204 349 205.9 350.1 208 351.1 210.1 352ZM205.6 305.7L207.8 305.1 210.1 304.5 212.5 304 213.8 306 211.6 306.4 209.4 307 207.4 307.6ZM252.7 305.8L254.8 306.6 256.9 307.4 258.9 308.3 256.8 310 254.9 309.1 253 308.4 251 307.7ZM258.6 353.3L256.2 354.6 253.7 355.7 251.6 353.5 253.9 352.5 256 351.4ZM206.6 355.9L204.1 354.8 201.6 353.6 204.1 351.6 206.2 352.7 208.5 353.7ZM205.8 302.7L208.4 302.1 211 301.7 212.5 304 210.1 304.5 207.8 305.1ZM206.4 299.4L209.3 299 212.3 298.7 213.7 301.3 211 301.7 208.4 302.1ZM204.3 296.5L207.6 296.2 210.9 296.1 212.3 298.7 209.3 299 206.4 299.4ZM205.8 293.4L209.5 293.4 210.9 296.1 207.6 296.2ZM204 290.5L208 290.6 211.9 290.9 213.1 293.5 209.5 293.4 205.8 293.4ZM202.2 287.5L206.5 287.9 210.8 288.3 211.9 290.9 208 290.6 204 290.5ZM205.1 285.1L209.6 285.6 210.8 288.3 206.5 287.9ZM203.6 282.2L208.5 282.9 209.6 285.6 205.1 285.1ZM202.1 279.4L207.3 280.1 208.5 282.9 203.6 282.2Z" fill="#ea382c" stroke="#ea382c" stroke-width="0.2"/>
<path d="M232.5 329.8L232.5 329.9 232.5 330 232.4 330.1 232.4 330.2 232.3 330.3 232.3 330.4 232.2 330.5 232.1 330.6 232 330.7 232 330.8 231.8 330.9 231.7 331 231.6 331.1 231.5 331.1 231.3 331.2 231.2 331.3 231.1 331.3 230.9 331.4 230.7 331.4 230.6 331.5 230.4 331.5 230.2 331.5 230.1 331.5 229.9 331.6 229.7 331.6 229.6 331.6 229.4 331.6 229.2 331.5 229 331.5 228.9 331.5 228.7 331.5 228.5 331.4 228.4 331.4 228.2 331.3 228.1 331.3 227.9 331.2 227.8 331.1 227.7 331.1 227.5 331 227.4 330.9 227.3 330.8 227.2 330.7 227.1 330.6 227 330.5 226.9 330.4 226.9 330.3 226.8 330.2 226.8 330.1 226.8 330 226.7 329.9 226.7 329.8 226.7 329.7 226.7 329.6 226.7 329.5 226.8 329.3 226.8 329.2 226.9 329.1 226.9 329 227 328.9 227.1 328.8 227.2 328.7 227.3 328.6 227.4 328.6 227.5 328.5 227.6 328.4 227.7 328.3 227.9 328.3 228 328.2 228.2 328.1 228.3 328.1 228.5 328 228.6 328 228.8 328 229 328 229.1 327.9 229.3 327.9 229.5 327.9 229.7 327.9 229.8 327.9 230 327.9 230.2 328 230.3 328 230.5 328 230.7 328.1 230.8 328.1 231 328.2 231.1 328.2 231.3 328.3 231.4 328.3 231.6 328.4 231.7 328.5 231.8 328.6 231.9 328.7 232 328.8 232.1 328.9 232.2 328.9 232.3 329 232.3 329.2 232.4 329.3 232.4 329.4 232.5 329.5 232.5 329.6 232.5 329.7ZM235.4 329.8L235.4 330.1 235.3 330.3 235.3 330.5 235.2 330.7 235.1 330.9 235 331.1 234.8 331.3 234.7 331.5 234.5 331.7 234.3 331.9 234.1 332.1 233.9 332.2 233.6 332.4 233.4 332.5 233.1 332.7 232.8 332.8 232.5 332.9 232.2 333 231.9 333.1 231.6 333.2 231.2 333.3 230.9 333.3 230.5 333.4 230.2 333.4 229.9 333.4 229.5 333.4 229.2 333.4 228.8 333.3 228.5 333.3 228.1 333.3 227.8 333.2 227.5 333.1 227.1 333 226.8 332.9 226.5 332.8 226.2 332.7 226 332.5 225.7 332.4 225.4 332.2 225.2 332.1 225 331.9 224.8 331.7 224.6 331.5 224.4 331.3 224.3 331.1 224.2 330.9 224.1 330.7 224 330.5 223.9 330.3 223.9 330 223.8 329.8 223.8 329.6 223.8 329.4 223.9 329.2 223.9 328.9 224 328.7 224.1 328.5 224.2 328.3 224.4 328.1 224.5 327.9 224.7 327.7 224.9 327.6 225.1 327.4 225.4 327.2 225.6 327.1 225.9 326.9 226.1 326.8 226.4 326.7 226.7 326.5 227 326.4 227.3 326.4 227.7 326.3 228 326.2 228.3 326.2 228.7 326.1 229 326.1 229.4 326.1 229.7 326.1 230.1 326.1 230.4 326.1 230.7 326.2 231.1 326.2 231.4 326.3 231.7 326.4 232.1 326.5 232.4 326.6 232.7 326.7 233 326.8 233.2 326.9 233.5 327.1 233.8 327.2 234 327.4 234.2 327.6 234.4 327.8 234.6 327.9 234.8 328.1 234.9 328.3 235 328.5 235.1 328.7 235.2 329 235.3 329.2 235.3 329.4 235.4 329.6ZM238.3 329.8L238.2 330.2 238.2 330.5 238.1 330.8 238 331.2 237.8 331.5 237.7 331.8 237.4 332.1 237.2 332.4 236.9 332.7 236.6 333 236.3 333.2 236 333.5 235.6 333.7 235.2 333.9 234.8 334.1 234.4 334.3 234 334.5 233.5 334.7 233 334.8 232.5 334.9 232 335 231.5 335.1 231 335.2 230.5 335.2 230 335.2 229.5 335.2 228.9 335.2 228.4 335.2 227.9 335.1 227.4 335 226.9 334.9 226.4 334.8 225.9 334.7 225.4 334.5 225 334.3 224.6 334.1 224.1 333.9 223.7 333.7 223.4 333.5 223 333.2 222.7 333 222.4 332.7 222.1 332.4 221.9 332.1 221.6 331.8 221.4 331.5 221.3 331.2 221.2 330.9 221.1 330.5 221 330.2 220.9 329.9 220.9 329.5 221 329.2 221 328.9 221.1 328.6 221.2 328.2 221.4 327.9 221.6 327.6 221.8 327.3 222 327 222.3 326.7 222.6 326.5 222.9 326.2 223.2 326 223.6 325.7 224 325.5 224.4 325.3 224.8 325.1 225.3 325 225.7 324.8 226.2 324.7 226.7 324.6 227.2 324.5 227.7 324.4 228.2 324.3 228.7 324.3 229.2 324.3 229.8 324.3 230.3 324.3 230.8 324.3 231.3 324.4 231.8 324.5 232.3 324.6 232.8 324.7 233.3 324.8 233.8 325 234.2 325.1 234.6 325.3 235.1 325.5 235.5 325.7 235.8 326 236.2 326.2 236.5 326.5 236.8 326.7 237.1 327 237.3 327.3 237.6 327.6 237.7 327.9 237.9 328.2 238 328.5 238.1 328.8 238.2 329.2 238.3 329.5ZM241.1 329.8L241.1 330.3 241 330.7 240.9 331.1 240.8 331.6 240.6 332 240.3 332.4 240.1 332.8 239.7 333.2 239.4 333.6 239 334 238.6 334.4 238.1 334.7 237.6 335 237.1 335.3 236.6 335.6 236 335.9 235.4 336.1 234.8 336.3 234.2 336.5 233.5 336.7 232.9 336.8 232.2 336.9 231.5 337 230.8 337 230.1 337 229.4 337 228.7 337 228 337 227.3 336.9 226.6 336.8 226 336.6 225.3 336.5 224.7 336.3 224 336.1 223.4 335.9 222.9 335.6 222.3 335.3 221.8 335 221.3 334.7 220.8 334.4 220.4 334 220 333.7 219.6 333.3 219.3 332.9 219 332.5 218.7 332.1 218.5 331.7 218.3 331.2 218.2 330.8 218.1 330.3 218.1 329.9 218.1 329.5 218.1 329 218.2 328.6 218.3 328.1 218.4 327.7 218.6 327.3 218.9 326.9 219.2 326.5 219.5 326.1 219.8 325.7 220.2 325.4 220.6 325 221.1 324.7 221.6 324.4 222.1 324.1 222.7 323.8 223.2 323.6 223.8 323.4 224.4 323.2 225.1 323 225.7 322.8 226.4 322.7 227 322.6 227.7 322.5 228.4 322.5 229.1 322.5 229.8 322.5 230.5 322.5 231.2 322.6 231.9 322.6 232.6 322.7 233.2 322.9 233.9 323 234.5 323.2 235.1 323.4 235.7 323.6 236.3 323.8 236.9 324.1 237.4 324.4 237.9 324.7 238.4 325 238.8 325.3 239.2 325.7 239.6 326 239.9 326.4 240.2 326.8 240.5 327.2 240.7 327.6 240.9 328.1 241 328.5 241.1 328.9 241.1 329.4ZM244 329.8L244 330.3 243.9 330.9 243.8 331.5 243.6 332 243.3 332.5 243 333.1 242.7 333.6 242.3 334.1 241.8 334.6 241.4 335 240.8 335.5 240.3 335.9 239.6 336.3 239 336.7 238.3 337 237.6 337.4 236.9 337.7 236.1 337.9 235.3 338.2 234.5 338.4 233.7 338.5 232.8 338.7 232 338.8 231.1 338.8 230.2 338.9 229.4 338.9 228.5 338.8 227.6 338.8 226.7 338.7 225.9 338.5 225.1 338.4 224.2 338.2 223.4 338 222.7 337.7 221.9 337.4 221.2 337.1 220.5 336.7 219.8 336.4 219.2 336 218.6 335.6 218.1 335.1 217.6 334.7 217.1 334.2 216.7 333.7 216.3 333.2 216 332.6 215.7 332.1 215.5 331.6 215.4 331 215.2 330.5 215.2 329.9 215.2 329.3 215.2 328.8 215.3 328.2 215.5 327.7 215.7 327.2 215.9 326.7 216.2 326.1 216.6 325.7 217 325.2 217.4 324.7 217.9 324.3 218.4 323.8 219 323.4 219.6 323 220.2 322.7 220.9 322.4 221.6 322 222.4 321.8 223.1 321.5 223.9 321.3 224.7 321.1 225.6 320.9 226.4 320.8 227.3 320.7 228.1 320.7 229 320.6 229.9 320.7 230.7 320.7 231.6 320.8 232.4 320.9 233.3 321 234.1 321.1 234.9 321.3 235.7 321.5 236.5 321.8 237.3 322 238 322.3 238.7 322.7 239.3 323 240 323.4 240.6 323.8 241.1 324.2 241.6 324.6 242.1 325.1 242.5 325.6 242.9 326 243.2 326.6 243.4 327.1 243.7 327.6 243.8 328.1 244 328.7 244 329.2ZM246.9 329.7L246.9 330.4 246.8 331.1 246.6 331.7 246.4 332.4 246.1 333 245.7 333.7 245.3 334.3 244.8 334.9 244.3 335.5 243.7 336.1 243.1 336.6 242.4 337.1 241.7 337.6 240.9 338.1 240.1 338.5 239.2 338.9 238.3 339.3 237.4 339.6 236.5 339.9 235.5 340.1 234.5 340.3 233.5 340.5 232.4 340.6 231.4 340.7 230.3 340.7 229.3 340.7 228.3 340.7 227.2 340.6 226.2 340.5 225.2 340.3 224.1 340.1 223.2 339.9 222.2 339.6 221.3 339.3 220.4 338.9 219.5 338.6 218.7 338.2 217.9 337.7 217.1 337.2 216.4 336.7 215.8 336.2 215.2 335.6 214.6 335 214.1 334.4 213.7 333.8 213.3 333.2 213 332.5 212.7 331.8 212.5 331.2 212.4 330.5 212.3 329.8 212.3 329.2 212.3 328.5 212.5 327.9 212.6 327.2 212.9 326.6 213.2 326 213.5 325.3 214 324.8 214.4 324.2 215 323.7 215.5 323.1 216.2 322.6 216.9 322.1 217.6 321.7 218.4 321.3 219.2 320.9 220 320.5 220.9 320.2 221.8 319.9 222.8 319.6 223.8 319.4 224.8 319.2 225.8 319 226.8 318.9 227.8 318.9 228.9 318.8 229.9 318.8 230.9 318.9 232 319 233 319.1 234 319.2 235 319.4 236 319.6 237 319.9 237.9 320.2 238.8 320.5 239.7 320.8 240.5 321.2 241.3 321.6 242 322.1 242.7 322.5 243.4 323 244 323.5 244.6 324.1 245.1 324.7 245.5 325.2 245.9 325.9 246.2 326.5 246.5 327.1 246.7 327.8 246.8 328.4 246.9 329.1ZM249.8 329.6L249.8 330.4 249.6 331.2 249.4 332 249.2 332.7 248.8 333.5 248.4 334.3 247.9 335 247.4 335.7 246.7 336.4 246.1 337.1 245.3 337.7 244.5 338.3 243.7 338.9 242.8 339.4 241.8 340 240.8 340.4 239.8 340.8 238.7 341.2 237.6 341.5 236.5 341.8 235.3 342.1 234.1 342.3 232.9 342.4 231.7 342.5 230.5 342.6 229.2 342.5 228 342.5 226.8 342.4 225.6 342.3 224.4 342.1 223.2 341.9 222.1 341.6 221 341.3 219.9 340.9 218.8 340.5 217.8 340 216.8 339.6 215.9 339 215 338.4 214.2 337.8 213.4 337.2 212.7 336.5 212.1 335.8 211.5 335.1 211 334.4 210.6 333.6 210.2 332.9 209.9 332.1 209.7 331.3 209.5 330.5 209.4 329.7 209.4 328.9 209.5 328.2 209.6 327.4 209.8 326.7 210.1 325.9 210.4 325.2 210.9 324.5 211.3 323.8 211.9 323.2 212.5 322.5 213.2 321.9 213.9 321.4 214.7 320.8 215.6 320.3 216.5 319.8 217.5 319.4 218.4 319 219.5 318.6 220.6 318.2 221.7 317.9 222.8 317.7 223.9 317.4 225.1 317.3 226.3 317.1 227.5 317.1 228.7 317 230 317 231.2 317.1 232.4 317.2 233.6 317.3 234.8 317.5 235.9 317.7 237.1 317.9 238.2 318.2 239.3 318.5 240.3 318.9 241.3 319.3 242.3 319.7 243.2 320.2 244.1 320.7 244.9 321.3 245.7 321.8 246.4 322.5 247 323.1 247.6 323.7 248.1 324.4 248.6 325.1 249 325.8 249.3 326.6 249.5 327.3 249.7 328.1 249.8 328.9ZM252.7 329.5L252.6 330.4 252.5 331.3 252.3 332.2 251.9 333.1 251.6 333.9 251.1 334.8 250.5 335.7 249.9 336.5 249.2 337.3 248.4 338.1 247.6 338.8 246.7 339.5 245.7 340.2 244.7 340.8 243.6 341.4 242.4 341.9 241.2 342.4 240 342.9 238.7 343.2 237.4 343.6 236.1 343.8 234.8 344.1 233.4 344.2 232 344.3 230.6 344.4 229.2 344.4 227.8 344.3 226.4 344.2 225 344.1 223.7 343.9 222.3 343.6 221 343.3 219.7 342.9 218.5 342.5 217.3 342 216.1 341.5 215 340.9 213.9 340.3 212.9 339.6 212 338.9 211.1 338.2 210.3 337.4 209.6 336.6 208.9 335.8 208.3 334.9 207.8 334.1 207.4 333.2 207.1 332.3 206.8 331.4 206.6 330.5 206.5 329.6 206.5 328.7 206.6 327.8 206.7 326.9 207 326.1 207.3 325.2 207.7 324.4 208.2 323.6 208.7 322.8 209.4 322.1 210.1 321.4 210.9 320.7 211.7 320.1 212.6 319.5 213.6 318.9 214.6 318.4 215.7 317.9 216.9 317.4 218 317 219.3 316.6 220.5 316.2 221.8 315.9 223.1 315.7 224.5 315.5 225.9 315.3 227.2 315.3 228.6 315.2 230 315.2 231.4 315.3 232.8 315.4 234.1 315.5 235.5 315.7 236.8 316 238.1 316.2 239.4 316.5 240.7 316.9 241.9 317.3 243 317.8 244.1 318.3 245.2 318.8 246.2 319.4 247.1 320 248 320.6 248.8 321.3 249.5 322 250.2 322.8 250.8 323.5 251.3 324.3 251.7 325.2 252.1 326 252.4 326.9 252.6 327.7 252.7 328.6ZM255.6 329.3L255.5 330.3 255.3 331.3 255.1 332.4 254.7 333.4 254.3 334.4 253.8 335.3 253.1 336.3 252.4 337.2 251.6 338.1 250.8 339 249.8 339.9 248.8 340.7 247.7 341.5 246.5 342.2 245.3 342.8 244 343.5 242.7 344 241.3 344.5 239.9 344.9 238.4 345.3 236.9 345.6 235.4 345.9 233.9 346 232.3 346.2 230.7 346.2 229.1 346.2 227.6 346.2 226 346 224.5 345.9 222.9 345.6 221.4 345.3 219.9 345 218.5 344.6 217.1 344.1 215.7 343.6 214.4 343 213.2 342.3 212 341.6 210.9 340.8 209.8 340 208.8 339.2 207.9 338.3 207.1 337.4 206.3 336.4 205.7 335.5 205.1 334.5 204.6 333.5 204.2 332.5 203.9 331.5 203.7 330.4 203.6 329.4 203.6 328.4 203.7 327.4 203.9 326.4 204.2 325.5 204.5 324.5 205 323.6 205.5 322.7 206.1 321.8 206.9 321 207.7 320.2 208.5 319.5 209.5 318.7 210.5 318.1 211.6 317.4 212.8 316.9 214 316.3 215.3 315.8 216.6 315.3 218 314.9 219.4 314.5 220.9 314.2 222.3 313.9 223.9 313.7 225.4 313.6 226.9 313.4 228.5 313.4 230.1 313.4 231.6 313.5 233.2 313.6 234.7 313.8 236.2 314 237.7 314.2 239.2 314.5 240.6 314.9 242 315.3 243.4 315.7 244.7 316.2 245.9 316.8 247.1 317.4 248.2 318 249.3 318.7 250.3 319.4 251.2 320.2 252 321 252.8 321.8 253.4 322.7 254 323.5 254.5 324.5 254.9 325.4 255.2 326.4 255.4 327.3 255.6 328.3ZM258.5 329.1L258.4 330.3 258.2 331.4 257.9 332.5 257.5 333.6 257 334.7 256.5 335.8 255.8 336.9 255 338 254.1 339 253.1 340 252.1 340.9 250.9 341.8 249.7 342.7 248.4 343.5 247.1 344.3 245.6 345 244.2 345.6 242.6 346.1 241 346.6 239.4 347 237.7 347.4 236.1 347.7 234.3 347.9 232.6 348 230.8 348.1 229.1 348.1 227.3 348 225.6 347.9 223.9 347.7 222.2 347.4 220.5 347.1 218.8 346.7 217.2 346.2 215.7 345.7 214.2 345.1 212.7 344.4 211.3 343.7 210 342.8 208.8 342 207.6 341.1 206.5 340.1 205.5 339.2 204.6 338.1 203.7 337.1 203 336 202.4 334.9 201.9 333.7 201.4 332.6 201.1 331.5 200.9 330.3 200.7 329.2 200.7 328.1 200.8 327 201 325.9 201.3 324.8 201.7 323.8 202.2 322.7 202.8 321.8 203.5 320.8 204.3 319.9 205.2 319 206.2 318.2 207.3 317.4 208.4 316.7 209.6 316 210.9 315.3 212.3 314.8 213.7 314.2 215.2 313.7 216.7 313.3 218.3 312.8 219.9 312.5 221.5 312.2 223.2 311.9 224.9 311.8 226.6 311.6 228.4 311.6 230.1 311.6 231.8 311.7 233.6 311.8 235.3 312 237 312.2 238.6 312.5 240.3 312.8 241.9 313.2 243.4 313.6 244.9 314.1 246.3 314.7 247.7 315.3 249 315.9 250.3 316.6 251.5 317.4 252.6 318.2 253.6 319 254.5 319.9 255.3 320.8 256.1 321.7 256.7 322.7 257.3 323.7 257.7 324.8 258.1 325.8 258.3 326.9 258.4 328ZM261.4 328.9L261.3 330.1 261.1 331.3 260.8 332.6 260.3 333.8 259.8 335.1 259.1 336.3 258.4 337.5 257.5 338.7 256.6 339.8 255.5 340.9 254.3 342 253.1 343 251.7 343.9 250.3 344.8 248.8 345.7 247.3 346.5 245.6 347.2 243.9 347.8 242.2 348.3 240.4 348.8 238.6 349.2 236.7 349.5 234.8 349.7 232.9 349.8 231 349.9 229 349.9 227.1 349.8 225.2 349.7 223.3 349.5 221.4 349.2 219.6 348.8 217.8 348.4 216 347.9 214.3 347.3 212.6 346.6 211 345.8 209.5 345 208 344.1 206.7 343.2 205.4 342.1 204.2 341.1 203.1 340 202.1 338.8 201.2 337.6 200.4 336.4 199.7 335.2 199.1 333.9 198.6 332.7 198.2 331.4 198 330.1 197.9 328.9 197.8 327.7 197.9 326.4 198.2 325.2 198.5 324.1 198.9 322.9 199.5 321.8 200.2 320.8 200.9 319.7 201.8 318.7 202.8 317.8 203.9 316.9 205 316 206.3 315.2 207.6 314.5 209 313.8 210.5 313.2 212.1 312.6 213.7 312.1 215.4 311.6 217.1 311.1 218.9 310.8 220.7 310.4 222.6 310.2 224.5 310 226.3 309.8 228.2 309.8 230.2 309.8 232.1 309.9 234 310 235.8 310.2 237.7 310.4 239.5 310.7 241.3 311.1 243.1 311.5 244.8 312 246.4 312.5 248 313.1 249.5 313.8 251 314.5 252.4 315.2 253.6 316 254.9 316.9 256 317.8 257 318.8 257.9 319.8 258.7 320.8 259.4 321.9 260 323 260.5 324.1 260.9 325.2 261.2 326.4 261.3 327.6ZM264.2 328.5L264.1 329.8 263.9 331.2 263.6 332.6 263.1 334 262.5 335.3 261.8 336.7 261 338 260.1 339.3 259 340.6 257.9 341.8 256.6 343 255.2 344.1 253.8 345.2 252.2 346.2 250.6 347.1 248.9 347.9 247.1 348.7 245.2 349.4 243.3 350 241.4 350.5 239.4 350.9 237.3 351.3 235.3 351.5 233.2 351.7 231.1 351.8 229 351.8 226.9 351.7 224.8 351.5 222.7 351.3 220.7 351 218.7 350.6 216.7 350.1 214.8 349.5 212.9 348.9 211.1 348.1 209.3 347.2 207.7 346.3 206.1 345.3 204.6 344.3 203.2 343.2 201.9 342 200.7 340.8 199.6 339.5 198.6 338.2 197.7 336.8 196.9 335.4 196.3 334.1 195.8 332.7 195.4 331.3 195.1 329.9 195 328.5 195 327.2 195.1 325.8 195.3 324.5 195.7 323.3 196.2 322 196.8 320.9 197.5 319.7 198.3 318.6 199.3 317.5 200.4 316.5 201.5 315.6 202.8 314.6 204.2 313.8 205.6 313 207.2 312.2 208.8 311.6 210.5 310.9 212.3 310.4 214.1 309.9 216 309.4 217.9 309 219.9 308.7 221.9 308.4 224 308.2 226 308 228.1 308 230.2 308 232.3 308.1 234.4 308.3 236.4 308.4 238.4 308.7 240.4 309 242.4 309.4 244.3 309.8 246.1 310.3 247.9 310.9 249.7 311.6 251.3 312.2 252.9 313 254.4 313.8 255.8 314.7 257.1 315.6 258.4 316.6 259.5 317.6 260.5 318.7 261.4 319.8 262.1 320.9 262.8 322.1 263.3 323.3 263.7 324.6 264 325.9 264.2 327.2ZM267.1 328.1L267 329.5 266.8 331 266.4 332.5 265.9 334 265.3 335.5 264.5 337 263.6 338.4 262.6 339.9 261.5 341.3 260.2 342.7 258.8 344 257.4 345.2 255.8 346.4 254.1 347.5 252.3 348.5 250.5 349.4 248.6 350.3 246.6 351 244.5 351.7 242.4 352.3 240.2 352.7 238 353.1 235.8 353.4 233.5 353.5 231.2 353.6 228.9 353.6 226.7 353.5 224.4 353.4 222.1 353.1 219.9 352.8 217.7 352.3 215.6 351.8 213.5 351.2 211.5 350.4 209.5 349.6 207.6 348.7 205.8 347.7 204.1 346.6 202.5 345.4 201 344.2 199.5 342.9 198.2 341.5 197 340.1 196 338.6 195 337.1 194.2 335.6 193.5 334.1 193 332.6 192.5 331 192.2 329.5 192.1 328 192.1 326.6 192.2 325.1 192.5 323.7 192.8 322.4 193.4 321 194 319.8 194.8 318.6 195.7 317.4 196.8 316.3 197.9 315.2 199.2 314.2 200.6 313.2 202.1 312.3 203.6 311.4 205.3 310.7 207.1 309.9 208.9 309.3 210.9 308.7 212.8 308.2 214.9 307.7 217 307.3 219.1 306.9 221.3 306.6 223.5 306.4 225.8 306.3 228 306.2 230.3 306.2 232.5 306.3 234.7 306.5 237 306.7 239.2 306.9 241.3 307.2 243.4 307.7 245.5 308.1 247.5 308.7 249.5 309.3 251.3 310 253.1 310.7 254.9 311.5 256.5 312.4 258 313.3 259.4 314.3 260.7 315.3 261.9 316.4 263 317.5 264 318.7 264.8 319.9 265.6 321.2 266.1 322.5 266.6 323.9 266.9 325.2 267.1 326.6ZM270 327.6L269.9 329.2 269.7 330.8 269.3 332.4 268.7 334 268 335.6 267.2 337.2 266.3 338.8 265.2 340.4 263.9 341.9 262.6 343.5 261.1 344.9 259.5 346.3 257.8 347.6 256 348.8 254.1 349.9 252.1 350.9 250 351.8 247.9 352.7 245.6 353.4 243.4 354 241 354.5 238.6 354.9 236.2 355.2 233.8 355.4 231.3 355.5 228.9 355.5 226.4 355.4 224 355.2 221.6 354.9 219.2 354.6 216.8 354.1 214.5 353.5 212.3 352.8 210.1 352 208 351.1 205.9 350.1 204 349 202.1 347.8 200.4 346.5 198.7 345.1 197.2 343.7 195.8 342.2 194.5 340.6 193.4 339 192.4 337.4 191.5 335.7 190.7 334.1 190.1 332.4 189.7 330.7 189.4 329.1 189.2 327.5 189.2 325.9 189.3 324.3 189.6 322.8 190 321.4 190.6 320 191.3 318.6 192.2 317.3 193.1 316.1 194.3 314.9 195.5 313.8 196.9 312.8 198.4 311.7 200 310.8 201.7 309.9 203.5 309.1 205.4 308.3 207.4 307.6 209.4 307 211.6 306.4 213.8 306 216 305.5 218.3 305.2 220.7 304.8 223.1 304.6 225.5 304.5 227.9 304.4 230.3 304.4 232.7 304.5 235.1 304.7 237.5 304.9 239.9 305.2 242.2 305.5 244.5 305.9 246.7 306.4 248.9 307 251 307.7 253 308.4 254.9 309.1 256.8 310 258.5 310.9 260.2 311.9 261.7 312.9 263.1 314 264.4 315.2 265.6 316.4 266.6 317.6 267.5 318.9 268.3 320.3 268.9 321.6 269.4 323.1 269.8 324.6 270 326.1ZM273.2 327.1L273.1 328.8 272.8 330.5 272.4 332.2 271.8 334 271.1 335.7 270.2 337.5 269.2 339.2 268 340.9 266.7 342.6 265.2 344.2 263.6 345.8 261.9 347.4 260 348.8 258.1 350.2 256 351.4 253.9 352.5 251.6 353.5 249.3 354.5 246.9 355.3 244.5 355.9 241.9 356.5 239.4 356.9 236.8 357.2 234.1 357.4 231.5 357.5 228.8 357.5 226.2 357.4 223.5 357.2 220.9 356.9 218.3 356.6 215.8 356 213.3 355.4 210.9 354.6 208.5 353.7 206.2 352.7 204.1 351.6 202 350.4 200 349.1 198.1 347.7 196.3 346.1 194.7 344.5 193.1 342.9 191.7 341.1 190.5 339.4 189.4 337.6 188.5 335.8 187.7 334 187 332.1 186.5 330.4 186.2 328.6 186 326.8 186 325.1 186.1 323.5 186.4 321.8 186.9 320.3 187.5 318.7 188.3 317.3 189.2 315.9 190.3 314.6 191.5 313.4 192.8 312.2 194.3 311.1 195.9 310 197.6 309.1 199.5 308.1 201.4 307.3 203.5 306.5 205.6 305.7 207.8 305.1 210.1 304.5 212.5 304 215 303.6 217.4 303.2 220 302.9 222.5 302.6 225.1 302.5 227.7 302.4 230.4 302.4 233 302.6 235.6 302.7 238.1 302.9 240.7 303.2 243.2 303.6 245.7 304 248.1 304.6 250.4 305.2 252.7 305.8 254.8 306.6 256.9 307.4 258.9 308.3 260.8 309.3 262.6 310.3 264.2 311.4 265.8 312.5 267.2 313.8 268.4 315 269.5 316.3 270.5 317.7 271.4 319.2 272 320.6 272.6 322.2 272.9 323.8 273.1 325.4ZM276.5 326.5L276.4 328.3 276.2 330.1 275.8 332 275.3 333.9 274.6 335.8 273.7 337.7 272.7 339.6 271.5 341.5 270.1 343.4 268.6 345.2 266.8 347 265 348.7 263 350.4 260.8 351.9 258.6 353.3 256.2 354.6 253.7 355.7 251.1 356.7 248.5 357.5 245.7 358.2 243 358.7 240.2 359.1 237.3 359.4 234.5 359.6 231.6 359.6 228.8 359.6 225.9 359.5 223.1 359.4 220.2 359.1 217.4 358.8 214.6 358.2 211.9 357.6 209.2 356.8 206.6 355.9 204.1 354.8 201.6 353.6 199.3 352.2 197.1 350.7 195 349.1 193.1 347.4 191.3 345.6 189.7 343.6 188.2 341.7 187 339.7 185.8 337.8 184.9 335.8 184.1 333.8 183.5 331.9 183.1 329.9 182.8 328 182.7 326.2 182.7 324.3 182.8 322.5 183.1 320.8 183.5 319 184.1 317.4 184.8 315.8 185.7 314.2 186.8 312.7 188 311.4 189.4 310.1 191 308.8 192.7 307.7 194.6 306.7 196.6 305.8 198.7 304.9 201 304.1 203.4 303.3 205.8 302.7 208.4 302.1 211 301.7 213.7 301.3 216.4 301 219.2 300.7 222 300.5 224.8 300.4 227.6 300.4 230.4 300.4 233.2 300.5 236 300.6 238.8 300.8 241.6 301 244.3 301.4 247 301.8 249.7 302.3 252.3 302.8 254.8 303.5 257.2 304.3 259.5 305.1 261.7 306.1 263.8 307.1 265.7 308.2 267.5 309.3 269.1 310.6 270.6 311.9 271.9 313.3 273.1 314.7 274 316.3 274.8 317.9 275.5 319.5 276 321.2 276.3 322.9 276.4 324.7ZM279.9 325.9L279.8 327.8 279.7 329.8 279.4 331.8 279 333.8 278.4 335.8 277.6 337.9 276.6 340 275.5 342.1 274.1 344.2 272.5 346.3 270.7 348.3 268.7 350.3 266.5 352.1 264.1 353.9 261.6 355.5 258.9 357 256.1 358.2 253.2 359.2 250.2 360 247.2 360.7 244.1 361.2 241 361.5 237.9 361.7 234.9 361.8 231.8 361.8 228.7 361.8 225.7 361.7 222.6 361.6 219.5 361.4 216.4 361.1 213.4 360.7 210.3 360 207.3 359.3 204.4 358.3 201.5 357.2 198.8 355.8 196.2 354.3 193.7 352.6 191.4 350.7 189.2 348.7 187.3 346.6 185.6 344.5 184.1 342.3 182.9 340.1 181.8 337.9 181 335.8 180.3 333.7 179.8 331.6 179.5 329.5 179.3 327.5 179.3 325.5 179.3 323.6 179.4 321.6 179.6 319.7 180 317.8 180.4 315.9 181.1 314.1 181.9 312.3 182.9 310.7 184.1 309 185.5 307.5 187.1 306.1 188.9 304.9 190.9 303.8 193.1 302.8 195.5 301.9 198.1 301.1 200.7 300.4 203.5 299.8 206.4 299.4 209.3 299 212.3 298.7 215.3 298.5 218.4 298.4 221.4 298.3 224.4 298.2 227.5 298.2 230.5 298.3 233.5 298.4 236.5 298.5 239.5 298.6 242.5 298.7 245.6 298.9 248.6 299.3 251.5 299.7 254.4 300.2 257.2 300.8 260 301.5 262.6 302.4 265 303.3 267.4 304.4 269.5 305.5 271.4 306.8 273.1 308.2 274.6 309.7 275.9 311.3 277 312.9 277.9 314.6 278.6 316.4 279.2 318.3 279.5 320.1 279.8 322 279.9 324ZM283.3 325.3L283.3 327.4 283.2 329.5 283 331.6 282.7 333.7 282.2 335.9 281.6 338.2 280.7 340.4 279.6 342.7 278.3 345 276.7 347.3 274.8 349.6 272.7 351.8 270.3 353.9 267.6 355.9 264.8 357.7 261.7 359.4 258.6 360.7 255.3 361.8 252 362.6 248.6 363.3 245.3 363.7 241.9 364 238.6 364.1 235.2 364.1 231.9 364.1 228.7 364 225.4 364 222.1 363.9 218.8 363.8 215.4 363.5 212.1 363.1 208.7 362.5 205.4 361.8 202.1 360.8 198.9 359.6 195.8 358.2 192.8 356.4 190 354.5 187.5 352.3 185.2 350 183.1 347.7 181.4 345.3 179.9 342.9 178.6 340.5 177.7 338.2 176.9 335.8 176.4 333.6 176 331.3 175.8 329.1 175.8 327 175.8 324.9 175.8 322.8 175.9 320.7 176.1 318.6 176.4 316.6 176.7 314.5 177.3 312.5 178 310.5 178.9 308.5 180 306.7 181.4 304.9 183 303.3 184.9 301.9 187.1 300.6 189.5 299.5 192.1 298.6 195 297.9 198 297.4 201.1 296.9 204.3 296.5 207.6 296.2 210.9 296.1 214.2 296 217.5 296 220.8 296 224.1 296 227.3 296.1 230.5 296.2 233.8 296.2 237 296.3 240.2 296.3 243.5 296.3 246.8 296.5 250.1 296.7 253.4 297 256.6 297.4 259.8 297.9 262.9 298.6 265.8 299.4 268.6 300.4 271.1 301.4 273.5 302.7 275.5 304.1 277.3 305.7 278.8 307.4 280.1 309.2 281.1 311.1 281.9 313 282.5 315.1 282.9 317.1 283.2 319.1 283.3 321.2 283.4 323.3ZM286.9 324.9L286.9 327.1 286.8 329.3 286.7 331.5 286.5 333.8 286.1 336.1 285.6 338.5 284.9 341 283.9 343.4 282.7 345.9 281.1 348.4 279.2 350.9 276.9 353.4 274.3 355.7 271.4 358 268.2 360 264.8 361.8 261.2 363.3 257.5 364.5 253.8 365.3 250.1 365.9 246.4 366.2 242.8 366.5 239.2 366.5 235.6 366.5 232.1 366.4 228.6 366.4 225.1 366.3 221.6 366.3 218 366.2 214.4 365.9 210.8 365.6 207.1 365.1 203.4 364.4 199.7 363.4 196.1 362.1 192.6 360.5 189.3 358.5 186.2 356.3 183.3 353.9 180.8 351.4 178.7 348.9 176.9 346.2 175.4 343.6 174.3 341 173.4 338.4 172.8 335.9 172.4 333.5 172.2 331.1 172.1 328.8 172.1 326.5 172.2 324.2 172.2 322 172.3 319.8 172.5 317.6 172.7 315.3 173 313.1 173.4 310.9 174 308.7 174.8 306.5 175.8 304.3 177.1 302.3 178.7 300.4 180.7 298.7 183 297.2 185.6 296 188.5 295.1 191.7 294.4 195.1 294 198.6 293.7 202.2 293.5 205.8 293.4 209.5 293.4 213.1 293.5 216.7 293.6 220.2 293.7 223.7 293.7 227.2 293.8 230.6 293.9 234 294 237.5 294 241 294 244.5 293.9 248.1 294 251.7 294.1 255.3 294.2 258.9 294.5 262.5 294.9 265.9 295.5 269.2 296.2 272.3 297.1 275.2 298.2 277.7 299.6 279.9 301.2 281.7 303 283.2 305 284.4 307.1 285.3 309.3 286 311.5 286.4 313.8 286.7 316 286.9 318.2 286.9 320.5 287 322.7ZM290.6 324.5L290.6 326.8 290.6 329.2 290.5 331.5 290.3 334 290.1 336.5 289.7 339 289.1 341.6 288.3 344.3 287.2 347 285.7 349.7 283.8 352.5 281.4 355.1 278.6 357.7 275.3 360.1 271.8 362.3 267.9 364.2 263.9 365.9 259.8 367.2 255.7 368 251.6 368.5 247.6 368.8 243.7 369 239.8 369 236 368.9 232.3 368.8 228.5 368.7 224.8 368.7 221 368.7 217.2 368.6 213.4 368.4 209.4 368.1 205.4 367.7 201.4 367 197.3 366 193.2 364.6 189.3 362.8 185.5 360.7 182 358.3 178.9 355.7 176.2 353 173.9 350.1 172.1 347.2 170.8 344.4 169.8 341.6 169.1 338.8 168.7 336.1 168.4 333.5 168.3 331 168.3 328.5 168.4 326.1 168.5 323.7 168.6 321.3 168.7 319 168.8 316.6 168.9 314.2 169.2 311.8 169.5 309.3 169.9 306.9 170.6 304.4 171.5 302 172.7 299.6 174.2 297.4 176.2 295.4 178.6 293.6 181.4 292.2 184.6 291.2 188.2 290.6 192 290.3 196 290.3 200 290.4 204 290.5 208 290.6 211.9 290.9 215.8 291.1 219.6 291.3 223.3 291.4 227 291.5 230.7 291.7 234.3 291.7 238 291.7 241.7 291.6 245.5 291.5 249.4 291.4 253.3 291.4 257.3 291.4 261.3 291.5 265.2 291.8 269.1 292.1 272.9 292.7 276.4 293.6 279.5 294.8 282.2 296.4 284.5 298.3 286.3 300.4 287.7 302.8 288.8 305.2 289.5 307.7 290.1 310.1 290.4 312.6 290.6 315 290.6 317.4 290.7 319.8 290.7 322.1ZM294.4 324.2L294.4 326.7 294.4 329.2 294.3 331.7 294.3 334.3 294.1 336.9 293.9 339.6 293.5 342.4 292.8 345.3 291.9 348.3 290.5 351.2 288.7 354.2 286.2 357.1 283.2 359.8 279.6 362.4 275.6 364.7 271.2 366.8 266.7 368.4 262.1 369.8 257.6 370.7 253.2 371.1 248.8 371.4 244.6 371.5 240.5 371.5 236.4 371.4 232.4 371.3 228.5 371.2 224.5 371.2 220.5 371.1 216.4 371.1 212.3 370.9 208.1 370.6 203.8 370.3 199.3 369.6 194.8 368.6 190.3 367.1 185.8 365.2 181.5 362.9 177.6 360.4 174.1 357.6 171.2 354.6 168.9 351.5 167.2 348.4 166 345.4 165.2 342.3 164.7 339.4 164.5 336.5 164.4 333.7 164.4 331 164.4 328.4 164.5 325.8 164.6 323.3 164.7 320.8 164.9 318.2 165 315.7 165.1 313.2 165.3 310.6 165.5 307.9 165.8 305.2 166.3 302.4 167.1 299.7 168.1 297 169.5 294.4 171.4 292 173.9 289.9 177 288.3 180.5 287.2 184.5 286.6 188.8 286.5 193.3 286.8 197.7 287.2 202.2 287.5 206.5 287.9 210.8 288.3 214.9 288.6 219 288.9 222.9 289 226.8 289.2 230.7 289.3 234.6 289.4 238.5 289.3 242.5 289.2 246.5 289 250.6 288.9 254.9 288.7 259.2 288.5 263.6 288.5 268.1 288.5 272.5 288.6 276.7 289 280.6 289.9 284.1 291.2 287 293.1 289.4 295.4 291.1 297.9 292.4 300.6 293.3 303.4 293.8 306.1 294.2 308.9 294.4 311.6 294.5 314.2 294.5 316.7 294.5 319.2 294.5 321.7ZM298.4 324L298.3 326.6 298.3 329.3 298.3 331.9 298.2 334.7 298.2 337.5 298 340.4 297.8 343.4 297.4 346.5 296.7 349.8 295.5 353 293.8 356.2 291.4 359.3 288.2 362.2 284.2 364.9 279.6 367.2 274.7 369.3 269.6 371 264.5 372.4 259.5 373.3 254.7 373.8 250 374 245.5 374.1 241.1 374.1 236.8 374 232.6 373.8 228.4 373.8 224.2 373.7 219.9 373.7 215.6 373.6 211.2 373.5 206.7 373.2 202.1 372.9 197.3 372.2 192.3 371.1 187.3 369.5 182.2 367.6 177.3 365.3 172.8 362.6 168.9 359.7 165.8 356.6 163.6 353.4 162 350.1 161.1 346.7 160.6 343.4 160.3 340.2 160.2 337.1 160.3 334.2 160.3 331.3 160.5 328.5 160.6 325.7 160.7 323.1 160.8 320.4 160.9 317.7 161.1 315 161.2 312.3 161.3 309.5 161.5 306.7 161.8 303.7 162.1 300.7 162.6 297.6 163.4 294.5 164.7 291.4 166.4 288.5 168.9 286.1 172.2 284.2 176.1 283 180.7 282.4 185.5 282.5 190.5 283.1 195.5 283.8 200.4 284.5 205.1 285.1 209.6 285.6 214 286.1 218.3 286.4 222.5 286.6 226.7 286.8 230.8 286.9 234.9 287 239 286.9 243.2 286.7 247.5 286.5 251.9 286.3 256.5 285.9 261.2 285.6 266 285.4 271 285.1 276 284.9 280.8 285.1 285.2 286 289.1 287.6 292.2 289.9 294.5 292.5 296.1 295.5 297.2 298.6 297.8 301.7 298.1 304.7 298.3 307.7 298.4 310.6 298.4 313.4 298.4 316.1 298.4 318.8 298.4 321.4ZM302.4 323.9L302.4 326.7 302.3 329.4 302.3 332.3 302.3 335.2 302.3 338.2 302.2 341.3 302.1 344.5 301.9 347.9 301.4 351.4 300.6 355 299.2 358.6 296.9 362 293.5 365 289.1 367.6 283.8 369.9 278.2 371.9 272.4 373.5 266.8 374.9 261.4 375.9 256.2 376.5 251.3 376.7 246.5 376.8 241.8 376.7 237.3 376.6 232.8 376.5 228.3 376.4 223.9 376.3 219.4 376.3 214.8 376.2 210.1 376.1 205.4 375.8 200.4 375.4 195.2 374.7 189.8 373.5 184.2 371.9 178.5 370 172.9 367.7 167.7 365.1 163.4 362.3 160.1 359.2 158 355.7 156.8 352 156.2 348.3 156 344.7 155.9 341.2 156 337.9 156.1 334.7 156.2 331.7 156.4 328.7 156.5 325.8 156.6 323 156.8 320.1 156.9 317.3 157 314.4 157.2 311.5 157.3 308.6 157.5 305.6 157.6 302.4 157.9 299.1 158.2 295.7 158.8 292.2 159.7 288.7 161.2 285.2 163.6 282.1 167 279.8 171.5 278.5 176.6 278.2 182.2 278.5 187.8 279.4 193.3 280.5 198.5 281.5 203.6 282.2 208.5 282.9 213.1 283.5 217.7 283.9 222.1 284.1 226.5 284.3 230.9 284.4 235.2 284.5 239.6 284.4 244 284.2 248.6 283.9 253.3 283.6 258.1 283.2 263.2 282.8 268.4 282.2 273.9 281.6 279.5 281.2 285 281.2 290.1 282.2 294.4 284 297.7 286.5 299.8 289.6 301.2 293.1 301.9 296.6 302.3 300 302.4 303.4 302.5 306.6 302.5 309.6 302.5 312.6 302.5 315.5 302.4 318.3 302.4 321.1ZM306.6 323.9L306.5 326.8 306.5 329.8 306.5 332.8 306.5 335.8 306.4 339 306.4 342.3 306.4 345.7 306.3 349.3 306.1 353.1 305.7 357.1 304.7 361.2 302.8 365 299.3 368.3 294.2 370.8 288.1 372.7 281.6 374.4 275.2 376 269.1 377.3 263.3 378.4 257.8 379.1 252.5 379.4 247.5 379.5 242.5 379.5 237.7 379.3 233 379.2 228.2 379.1 223.5 379 218.8 379 213.9 378.9 209 378.8 203.9 378.5 198.7 378 193.2 377.2 187.4 375.9 181.3 374.3 174.9 372.4 168.4 370.3 162.3 368.2 157.4 365.6 154.1 362.2 152.4 358.1 151.6 353.9 151.4 349.8 151.5 345.9 151.6 342.2 151.7 338.7 151.9 335.4 152 332.1 152.2 329 152.3 325.9 152.5 322.9 152.6 319.9 152.8 316.9 152.9 313.9 153 310.8 153.2 307.7 153.3 304.5 153.5 301.2 153.7 297.7 153.9 294 154.3 290.2 154.8 286.2 155.9 282.1 158 278.4 161.5 275.4 166.5 273.9 172.6 273.8 178.9 274.6 185.1 275.8 191.1 277.1 196.7 278.4 202.1 279.4 207.3 280.1 212.2 280.8 217 281.3 221.7 281.5 226.3 281.7 230.9 281.9 235.5 282 240.2 281.8 244.8 281.6 249.7 281.3 254.6 280.9 259.7 280.4 265.1 279.9 270.8 279.1 276.7 278.3 282.9 277.5 289.2 277.4 295.2 278.2 300.1 280.1 303.4 283.1 305.3 286.8 306.2 290.8 306.5 294.8 306.7 298.5 306.7 302.1 306.7 305.5 306.7 308.8 306.6 311.9 306.6 315 306.6 318 306.6 320.9ZM310.8 323.9L310.8 327 310.8 330.1 310.8 333.3 310.8 336.5 310.7 339.9 310.7 343.3 310.7 347 310.7 350.8 310.6 354.9 310.5 359.2 310.1 363.8 308.9 368.4 305.6 372.1 299.6 374.3 292.3 375.6 284.9 376.9 277.9 378.3 271.4 379.7 265.2 380.9 259.4 381.8 253.8 382.2 248.5 382.3 243.3 382.3 238.2 382.2 233.1 382 228.2 381.9 223.2 381.8 218.2 381.8 213.1 381.7 207.9 381.5 202.5 381.2 196.9 380.6 191.1 379.6 184.9 378.2 178.4 376.5 171.4 374.7 164 373.1 156.7 371.7 150.9 369.2 147.8 365.3 146.8 360.5 146.7 355.8 146.8 351.4 147 347.2 147.2 343.3 147.4 339.6 147.5 336 147.7 332.6 147.9 329.3 148 326.1 148.2 322.9 148.3 319.7 148.5 316.6 148.6 313.4 148.8 310.2 148.9 306.9 149.1 303.5 149.3 299.9 149.5 296.2 149.7 292.4 149.9 288.2 150.2 283.8 150.8 279.2 152.2 274.6 155.6 271.1 161.4 269.4 168.6 269.7 175.8 270.9 182.6 272.3 188.9 273.9 194.9 275.3 200.6 276.5 206 277.3 211.2 278 216.3 278.6 221.3 278.9 226.2 279.1 231 279.3 235.8 279.3 240.7 279.1 245.7 278.9 250.8 278.6 256 278.1 261.4 277.6 267.1 277 273.1 276.1 279.4 275 286.2 274.1 293.4 273.8 300.5 274.2 306.3 276.1 309.4 279.7 310.6 284.2 310.9 288.7 311 293 311 297.1 311 300.9 311 304.5 310.9 308 310.9 311.3 310.9 314.5 310.9 317.7 310.9 320.8ZM315.3 323.9L315.2 327.2 315.2 330.5 315.2 333.8 315.2 337.3 315.2 340.8 315.2 344.4 315.1 348.3 315.1 352.3 315.1 356.6 315.1 361.3 315 366.3 314.8 371.7 312.3 376.3 304.8 377.9 296.2 378.4 288.1 379.3 280.6 380.7 273.7 382.1 267.2 383.4 261 384.5 255.2 385 249.5 385.2 244 385.2 238.6 385.1 233.3 384.9 228.1 384.7 222.8 384.7 217.5 384.7 212.2 384.6 206.7 384.4 201 384 195.1 383.3 189 382.1 182.5 380.5 175.5 378.8 168.1 377 160 375.9 151.3 375.2 143.9 373.1 141.8 368.3 141.8 362.7 142 357.6 142.2 352.9 142.5 348.5 142.7 344.3 142.9 340.4 143 336.7 143.2 333.1 143.4 329.6 143.6 326.2 143.7 322.9 143.9 319.6 144.1 316.2 144.2 312.9 144.4 309.5 144.6 306 144.8 302.4 144.9 298.7 145.1 294.8 145.3 290.7 145.6 286.3 145.8 281.6 146.1 276.5 146.6 271 149.2 266.4 156.5 265.3 164.9 265.9 172.8 267.4 180 268.9 186.8 270.5 193.1 272.1 199.1 273.4 204.8 274.3 210.3 275.1 215.6 275.8 220.8 276.1 226 276.4 231.1 276.6 236.2 276.6 241.3 276.4 246.5 276.1 251.9 275.8 257.4 275.2 263.1 274.7 269.1 274 275.4 272.9 282.1 271.8 289.4 271.1 297.2 270.6 305.6 270.4 312.9 271.8 315.2 276.3 315.4 281.7 315.4 286.7 315.4 291.3 315.4 295.6 315.4 299.7 315.4 303.5 315.3 307.1 315.3 310.6 315.3 314.1 315.3 317.4 315.3 320.7ZM229.6 329.7L232.5 329.8 235.4 329.8 238.3 329.8 241.1 329.8 244 329.8 246.9 329.7 249.8 329.6 252.7 329.5 255.6 329.3 258.5 329.1 261.4 328.9 264.2 328.5 267.1 328.1 270 327.6 273.2 327.1 276.5 326.5 279.9 325.9 283.3 325.3 286.9 324.9 290.6 324.5 294.4 324.2 298.4 324 302.4 323.9 306.6 323.9 310.8 323.9 315.3 323.9 319.8 324M261.3 330.1L264.1 329.8 267 329.5 269.9 329.2 273.1 328.8 276.4 328.3 279.8 327.8 283.3 327.4 286.9 327.1 290.6 326.8 294.4 326.7 298.3 326.6 302.4 326.7 306.5 326.8 310.8 327 315.2 327.2 319.8 327.4M249.6 331.2L252.5 331.3 255.3 331.3 258.2 331.4 261.1 331.3 263.9 331.2 266.8 331 269.7 330.8 272.8 330.5 276.2 330.1 279.7 329.8 283.2 329.5 286.8 329.3 290.6 329.2 294.4 329.2 298.3 329.3 302.3 329.4 306.5 329.8 310.8 330.1 315.2 330.5 319.8 330.9M260.8 332.6L263.6 332.6 266.4 332.5 269.3 332.4 272.4 332.2 275.8 332 279.4 331.8 283 331.6 286.7 331.5 290.5 331.5 294.3 331.7 298.3 331.9 302.3 332.3 306.5 332.8 310.8 333.3 315.2 333.8 319.8 334.4M238 331.2L240.8 331.6 243.6 332 246.4 332.4 249.2 332.7 251.9 333.1 254.7 333.4 257.5 333.6 260.3 333.8 263.1 334 265.9 334 268.7 334 271.8 334 275.3 333.9 279 333.8 282.7 333.7 286.5 333.8 290.3 334 294.3 334.3 298.2 334.7 302.3 335.2 306.5 335.8 310.8 336.5 315.2 337.3 319.8 338M259.8 335.1L262.5 335.3 265.3 335.5 268 335.6 271.1 335.7 274.6 335.8 278.4 335.8 282.2 335.9 286.1 336.1 290.1 336.5 294.1 336.9 298.2 337.5 302.3 338.2 306.4 339 310.7 339.9 315.2 340.8 319.7 341.7M248.4 334.3L251.1 334.8 253.8 335.3 256.5 335.8 259.1 336.3 261.8 336.7 264.5 337 267.2 337.2 270.2 337.5 273.7 337.7 277.6 337.9 281.6 338.2 285.6 338.5 289.7 339 293.9 339.6 298 340.4 302.2 341.3 306.4 342.3 310.7 343.3 315.2 344.4 319.7 345.6M258.4 337.5L261 338 263.6 338.4 266.3 338.8 269.2 339.2 272.7 339.6 276.6 340 280.7 340.4 284.9 341 289.1 341.6 293.5 342.4 297.8 343.4 302.1 344.5 306.4 345.7 310.7 347 315.1 348.3 319.7 349.6M229.6 329.7L232.1 330.6 234.7 331.5 237.2 332.4 239.7 333.2 242.3 334.1 244.8 334.9 247.4 335.7 249.9 336.5 252.4 337.2 255 338 257.5 338.7 260.1 339.3 262.6 339.9 265.2 340.4 268 340.9 271.5 341.5 275.5 342.1 279.6 342.7 283.9 343.4 288.3 344.3 292.8 345.3 297.4 346.5 301.9 347.9 306.3 349.3 310.7 350.8 315.1 352.3 319.7 353.9M256.6 339.8L259 340.6 261.5 341.3 263.9 341.9 266.7 342.6 270.1 343.4 274.1 344.2 278.3 345 282.7 345.9 287.2 347 291.9 348.3 296.7 349.8 301.4 351.4 306.1 353.1 310.6 354.9 315.1 356.6 319.7 358.4M246.1 337.1L248.4 338.1 250.8 339 253.1 340 255.5 340.9 257.9 341.8 260.2 342.7 262.6 343.5 265.2 344.2 268.6 345.2 272.5 346.3 276.7 347.3 281.1 348.4 285.7 349.7 290.5 351.2 295.5 353 300.6 355 305.7 357.1 310.5 359.2 315.1 361.3 319.7 363.3M254.3 342L256.6 343 258.8 344 261.1 344.9 263.6 345.8 266.8 347 270.7 348.3 274.8 349.6 279.2 350.9 283.8 352.5 288.7 354.2 293.8 356.2 299.2 358.6 304.7 361.2 310.1 363.8 315 366.3 319.6 368.6M236 333.5L238.1 334.7 240.3 335.9 242.4 337.1 244.5 338.3 246.7 339.5 248.8 340.7 250.9 341.8 253.1 343 255.2 344.1 257.4 345.2 259.5 346.3 261.9 347.4 265 348.7 268.7 350.3 272.7 351.8 276.9 353.4 281.4 355.1 286.2 357.1 291.4 359.3 296.9 362 302.8 365 308.9 368.4 314.8 371.7 319.6 374.4M251.7 343.9L253.8 345.2 255.8 346.4 257.8 347.6 260 348.8 263 350.4 266.5 352.1 270.3 353.9 274.3 355.7 278.6 357.7 283.2 359.8 288.2 362.2 293.5 365 299.3 368.3 305.6 372.1 312.3 376.3 319.6 380.9M242.8 339.4L244.7 340.8 246.5 342.2 248.4 343.5 250.3 344.8 252.2 346.2 254.1 347.5 256 348.8 258.1 350.2 260.8 351.9 264.1 353.9 267.6 355.9 271.4 358 275.3 360.1 279.6 362.4 284.2 364.9 289.1 367.6 294.2 370.8 299.6 374.3 304.8 377.9 309.2 380.9M248.8 345.7L250.6 347.1 252.3 348.5 254.1 349.9 256 351.4 258.6 353.3 261.6 355.5 264.8 357.7 268.2 360 271.8 362.3 275.6 364.7 279.6 367.2 283.8 369.9 288.1 372.7 292.3 375.6 296.2 378.4 299.8 381.1M229.6 329.7L231.2 331.3 232.8 332.8 234.4 334.3 236 335.9 237.6 337.4 239.2 338.9 240.8 340.4 242.4 341.9 244 343.5 245.6 345 247.3 346.5 248.9 347.9 250.5 349.4 252.1 350.9 253.9 352.5 256.2 354.6 258.9 357 261.7 359.4 264.8 361.8 267.9 364.2 271.2 366.8 274.7 369.3 278.2 371.9 281.6 374.4 284.9 376.9 288.1 379.3 291.2 381.8M245.6 347.2L247.1 348.7 248.6 350.3 250 351.8 251.6 353.5 253.7 355.7 256.1 358.2 258.6 360.7 261.2 363.3 263.9 365.9 266.7 368.4 269.6 371 272.4 373.5 275.2 376 277.9 378.3 280.6 380.7 283.4 383.1M238.7 341.2L240 342.9 241.3 344.5 242.6 346.1 243.9 347.8 245.2 349.4 246.6 351 247.9 352.7 249.3 354.5 251.1 356.7 253.2 359.2 255.3 361.8 257.5 364.5 259.8 367.2 262.1 369.8 264.5 372.4 266.8 374.9 269.1 377.3 271.4 379.7 273.7 382.1 276.1 384.6M242.2 348.3L243.3 350 244.5 351.7 245.6 353.4 246.9 355.3 248.5 357.5 250.2 360 252 362.6 253.8 365.3 255.7 368 257.6 370.7 259.5 373.3 261.4 375.9 263.3 378.4 265.2 380.9 267.2 383.4 269.2 386M232.5 334.9L233.5 336.7 234.5 338.4 235.5 340.1 236.5 341.8 237.4 343.6 238.4 345.3 239.4 347 240.4 348.8 241.4 350.5 242.4 352.3 243.4 354 244.5 355.9 245.7 358.2 247.2 360.7 248.6 363.3 250.1 365.9 251.6 368.5 253.2 371.1 254.7 373.8 256.2 376.5 257.8 379.1 259.4 381.8 261 384.5 262.7 387.2M238.6 349.2L239.4 350.9 240.2 352.7 241 354.5 241.9 356.5 243 358.7 244.1 361.2 245.3 363.7 246.4 366.2 247.6 368.8 248.8 371.4 250 374 251.3 376.7 252.5 379.4 253.8 382.2 255.2 385 256.5 388M234.1 342.3L234.8 344.1 235.4 345.9 236.1 347.7 236.7 349.5 237.3 351.3 238 353.1 238.6 354.9 239.4 356.9 240.2 359.1 241 361.5 241.9 364 242.8 366.5 243.7 369 244.6 371.5 245.5 374.1 246.5 376.8 247.5 379.5 248.5 382.3 249.5 385.2 250.6 388.2M234.8 349.7L235.3 351.5 235.8 353.4 236.2 355.2 236.8 357.2 237.3 359.4 237.9 361.7 238.6 364.1 239.2 366.5 239.8 369 240.5 371.5 241.1 374.1 241.8 376.7 242.5 379.5 243.3 382.3 244 385.2 244.8 388.2M229.6 329.7L229.9 331.6 230.2 333.4 230.5 335.2 230.8 337 231.1 338.8 231.4 340.7 231.7 342.5 232 344.3 232.3 346.2 232.6 348 232.9 349.8 233.2 351.7 233.5 353.5 233.8 355.4 234.1 357.4 234.5 359.6 234.9 361.8 235.2 364.1 235.6 366.5 236 368.9 236.4 371.4 236.8 374 237.3 376.6 237.7 379.3 238.2 382.2 238.6 385.1 239.1 388.1M231 349.9L231.1 351.8 231.2 353.6 231.3 355.5 231.5 357.5 231.6 359.6 231.8 361.8 231.9 364.1 232.1 366.4 232.3 368.8 232.4 371.3 232.6 373.8 232.8 376.5 233 379.2 233.1 382 233.3 384.9 233.5 387.9M229.2 342.5L229.2 344.4 229.1 346.2 229.1 348.1 229 349.9 229 351.8 228.9 353.6 228.9 355.5 228.8 357.5 228.8 359.6 228.7 361.8 228.7 364 228.6 366.4 228.5 368.7 228.5 371.2 228.4 373.8 228.3 376.4 228.2 379.1 228.2 381.9 228.1 384.7 228 387.7M227.1 349.8L226.9 351.7 226.7 353.5 226.4 355.4 226.2 357.4 225.9 359.5 225.7 361.7 225.4 364 225.1 366.3 224.8 368.7 224.5 371.2 224.2 373.7 223.9 376.3 223.5 379 223.2 381.8 222.8 384.7 222.5 387.7M228.4 335.2L228 337 227.6 338.8 227.2 340.6 226.8 342.4 226.4 344.2 226 346 225.6 347.9 225.2 349.7 224.8 351.5 224.4 353.4 224 355.2 223.5 357.2 223.1 359.4 222.6 361.6 222.1 363.9 221.6 366.3 221 368.7 220.5 371.1 219.9 373.7 219.4 376.3 218.8 379 218.2 381.8 217.5 384.7 216.9 387.7M223.3 349.5L222.7 351.3 222.1 353.1 221.6 354.9 220.9 356.9 220.2 359.1 219.5 361.4 218.8 363.8 218 366.2 217.2 368.6 216.4 371.1 215.6 373.6 214.8 376.2 213.9 378.9 213.1 381.7 212.2 384.6 211.2 387.5M224.4 342.1L223.7 343.9 222.9 345.6 222.2 347.4 221.4 349.2 220.7 351 219.9 352.8 219.2 354.6 218.3 356.6 217.4 358.8 216.4 361.1 215.4 363.5 214.4 365.9 213.4 368.4 212.3 370.9 211.2 373.5 210.1 376.1 209 378.8 207.9 381.5 206.7 384.4 205.4 387.3M219.6 348.8L218.7 350.6 217.7 352.3 216.8 354.1 215.8 356 214.6 358.2 213.4 360.7 212.1 363.1 210.8 365.6 209.4 368.1 208.1 370.6 206.7 373.2 205.4 375.8 203.9 378.5 202.5 381.2 201 384 199.5 386.9M229.6 329.7L228.5 331.4 227.5 333.1 226.4 334.8 225.3 336.5 224.2 338.2 223.2 339.9 222.1 341.6 221 343.3 219.9 345 218.8 346.7 217.8 348.4 216.7 350.1 215.6 351.8 214.5 353.5 213.3 355.4 211.9 357.6 210.3 360 208.7 362.5 207.1 365.1 205.4 367.7 203.8 370.3 202.1 372.9 200.4 375.4 198.7 378 196.9 380.6 195.1 383.3 193.3 386M216 347.9L214.8 349.5 213.5 351.2 212.3 352.8 210.9 354.6 209.2 356.8 207.3 359.3 205.4 361.8 203.4 364.4 201.4 367 199.3 369.6 197.3 372.2 195.2 374.7 193.2 377.2 191.1 379.6 189 382.1 186.8 384.6M219.9 340.9L218.5 342.5 217.1 344.1 215.7 345.7 214.3 347.3 212.9 348.9 211.5 350.4 210.1 352 208.5 353.7 206.6 355.9 204.4 358.3 202.1 360.8 199.7 363.4 197.3 366 194.8 368.6 192.3 371.1 189.8 373.5 187.4 375.9 184.9 378.2 182.5 380.5 179.9 382.9M212.6 346.6L211.1 348.1 209.5 349.6 208 351.1 206.2 352.7 204.1 354.8 201.5 357.2 198.9 359.6 196.1 362.1 193.2 364.6 190.3 367.1 187.3 369.5 184.2 371.9 181.3 374.3 178.4 376.5 175.5 378.8 172.6 381M224.6 334.1L222.9 335.6 221.2 337.1 219.5 338.6 217.8 340 216.1 341.5 214.4 343 212.7 344.4 211 345.8 209.3 347.2 207.6 348.7 205.9 350.1 204.1 351.6 201.6 353.6 198.8 355.8 195.8 358.2 192.6 360.5 189.3 362.8 185.8 365.2 182.2 367.6 178.5 370 174.9 372.4 171.4 374.7 168.1 377 164.8 379.4M209.5 345L207.7 346.3 205.8 347.7 204 349 202 350.4 199.3 352.2 196.2 354.3 192.8 356.4 189.3 358.5 185.5 360.7 181.5 362.9 177.3 365.3 172.9 367.7 168.4 370.3 164 373.1 160 375.9 156.2 378.7M215.9 339L213.9 340.3 212 341.6 210 342.8 208 344.1 206.1 345.3 204.1 346.6 202.1 347.8 200 349.1 197.1 350.7 193.7 352.6 190 354.5 186.2 356.3 182 358.3 177.6 360.4 172.8 362.6 167.7 365.1 162.3 368.2 156.7 371.7 151.3 375.2 146.8 378M206.7 343.2L204.6 344.3 202.5 345.4 200.4 346.5 198.1 347.7 195 349.1 191.4 350.7 187.5 352.3 183.3 353.9 178.9 355.7 174.1 357.6 168.9 359.7 163.4 362.3 157.4 365.6 150.9 369.2 143.9 373.1 136.4 377.3M229.6 329.7L227.4 330.9 225.2 332.1 223 333.2 220.8 334.4 218.6 335.6 216.4 336.7 214.2 337.8 212 338.9 209.8 340 207.6 341.1 205.4 342.1 203.2 343.2 201 344.2 198.7 345.1 196.3 346.1 193.1 347.4 189.2 348.7 185.2 350 180.8 351.4 176.2 353 171.2 354.6 165.8 356.6 160.1 359.2 154.1 362.2 147.8 365.3 141.8 368.3 136.7 370.7M204.2 341.1L201.9 342 199.5 342.9 197.2 343.7 194.7 344.5 191.3 345.6 187.3 346.6 183.1 347.7 178.7 348.9 173.9 350.1 168.9 351.5 163.6 353.4 158 355.7 152.4 358.1 146.8 360.5 141.8 362.7 137 364.8M212.7 336.5L210.3 337.4 207.9 338.3 205.5 339.2 203.1 340 200.7 340.8 198.2 341.5 195.8 342.2 193.1 342.9 189.7 343.6 185.6 344.5 181.4 345.3 176.9 346.2 172.1 347.2 167.2 348.4 162 350.1 156.8 352 151.6 353.9 146.7 355.8 142 357.6 137.3 359.4M202.1 338.8L199.6 339.5 197 340.1 194.5 340.6 191.7 341.1 188.2 341.7 184.1 342.3 179.9 342.9 175.4 343.6 170.8 344.4 166 345.4 161.1 346.7 156.2 348.3 151.4 349.8 146.8 351.4 142.2 352.9 137.6 354.4M221.9 332.1L219.3 332.9 216.7 333.7 214.1 334.4 211.5 335.1 208.9 335.8 206.3 336.4 203.7 337.1 201.2 337.6 198.6 338.2 196 338.6 193.4 339 190.5 339.4 187 339.7 182.9 340.1 178.6 340.5 174.3 341 169.8 341.6 165.2 342.3 160.6 343.4 156 344.7 151.5 345.9 147 347.2 142.5 348.5 137.8 349.8M200.4 336.4L197.7 336.8 195 337.1 192.4 337.4 189.4 337.6 185.8 337.8 181.8 337.9 177.7 338.2 173.4 338.4 169.1 338.8 164.7 339.4 160.3 340.2 155.9 341.2 151.6 342.2 147.2 343.3 142.7 344.3 138 345.5M210.6 333.6L207.8 334.1 205.1 334.5 202.4 334.9 199.7 335.2 196.9 335.4 194.2 335.6 191.5 335.7 188.5 335.8 184.9 335.8 181 335.8 176.9 335.8 172.8 335.9 168.7 336.1 164.5 336.5 160.2 337.1 156 337.9 151.7 338.7 147.4 339.6 142.9 340.4 138.2 341.4M199.1 333.9L196.3 334.1 193.5 334.1 190.7 334.1 187.7 334 184.1 333.8 180.3 333.7 176.4 333.6 172.4 333.5 168.4 333.5 164.4 333.7 160.3 334.2 156.1 334.7 151.9 335.4 147.5 336 143 336.7 138.4 337.4M229.6 329.7L226.8 330.1 224 330.5 221.2 330.9 218.3 331.2 215.5 331.6 212.7 331.8 209.9 332.1 207.1 332.3 204.2 332.5 201.4 332.6 198.6 332.7 195.8 332.7 193 332.6 190.1 332.4 187 332.1 183.5 331.9 179.8 331.6 176 331.3 172.2 331.1 168.3 331 164.4 331 160.3 331.3 156.2 331.7 152 332.1 147.7 332.6 143.2 333.1 138.6 333.7M198.2 331.4L195.4 331.3 192.5 331 189.7 330.7 186.5 330.4 183.1 329.9 179.5 329.5 175.8 329.1 172.1 328.8 168.3 328.5 164.4 328.4 160.5 328.5 156.4 328.7 152.2 329 147.9 329.3 143.4 329.6 138.8 330M209.5 330.5L206.6 330.5 203.7 330.4 200.9 330.3 198 330.1 195.1 329.9 192.2 329.5 189.4 329.1 186.2 328.6 182.8 328 179.3 327.5 175.8 327 172.1 326.5 168.4 326.1 164.5 325.8 160.6 325.7 156.5 325.8 152.3 325.9 148 326.1 143.6 326.2 139 326.4M197.9 328.9L195 328.5 192.1 328 189.2 327.5 186 326.8 182.7 326.2 179.3 325.5 175.8 324.9 172.2 324.2 168.5 323.7 164.6 323.3 160.7 323.1 156.6 323 152.5 322.9 148.2 322.9 143.7 322.9 139.2 322.9M220.9 329.5L218.1 329.5 215.2 329.3 212.3 329.2 209.4 328.9 206.5 328.7 203.6 328.4 200.7 328.1 197.8 327.7 195 327.2 192.1 326.6 189.2 325.9 186 325.1 182.7 324.3 179.3 323.6 175.8 322.8 172.2 322 168.6 321.3 164.7 320.8 160.8 320.4 156.8 320.1 152.6 319.9 148.3 319.7 143.9 319.6 139.4 319.4M197.9 326.4L195.1 325.8 192.2 325.1 189.3 324.3 186.1 323.5 182.8 322.5 179.4 321.6 175.9 320.7 172.3 319.8 168.7 319 164.9 318.2 160.9 317.7 156.9 317.3 152.8 316.9 148.5 316.6 144.1 316.2 139.5 315.9M209.6 327.4L206.7 326.9 203.9 326.4 201 325.9 198.2 325.2 195.3 324.5 192.5 323.7 189.6 322.8 186.4 321.8 183.1 320.8 179.6 319.7 176.1 318.6 172.5 317.6 168.8 316.6 165 315.7 161.1 315 157 314.4 152.9 313.9 148.6 313.4 144.2 312.9 139.7 312.4M198.5 324.1L195.7 323.3 192.8 322.4 190 321.4 186.9 320.3 183.5 319 180 317.8 176.4 316.6 172.7 315.3 168.9 314.2 165.1 313.2 161.2 312.3 157.2 311.5 153 310.8 148.8 310.2 144.4 309.5 139.9 308.8M229.6 329.7L226.8 329.2 224 328.7 221.2 328.2 218.4 327.7 215.7 327.2 212.9 326.6 210.1 325.9 207.3 325.2 204.5 324.5 201.7 323.8 198.9 322.9 196.2 322 193.4 321 190.6 320 187.5 318.7 184.1 317.4 180.4 315.9 176.7 314.5 173 313.1 169.2 311.8 165.3 310.6 161.3 309.5 157.3 308.6 153.2 307.7 148.9 306.9 144.6 306 140.1 305.1M199.5 321.8L196.8 320.9 194 319.8 191.3 318.6 188.3 317.3 184.8 315.8 181.1 314.1 177.3 312.5 173.4 310.9 169.5 309.3 165.5 307.9 161.5 306.7 157.5 305.6 153.3 304.5 149.1 303.5 144.8 302.4 140.3 301.4M210.9 324.5L208.2 323.6 205.5 322.7 202.8 321.8 200.2 320.8 197.5 319.7 194.8 318.6 192.2 317.3 189.2 315.9 185.7 314.2 181.9 312.3 178 310.5 174 308.7 169.9 306.9 165.8 305.2 161.8 303.7 157.6 302.4 153.5 301.2 149.3 299.9 144.9 298.7 140.5 297.4M200.9 319.7L198.3 318.6 195.7 317.4 193.1 316.1 190.3 314.6 186.8 312.7 182.9 310.7 178.9 308.5 174.8 306.5 170.6 304.4 166.3 302.4 162.1 300.7 157.9 299.1 153.7 297.7 149.5 296.2 145.1 294.8 140.7 293.3M222 327L219.5 326.1 217 325.2 214.4 324.2 211.9 323.2 209.4 322.1 206.9 321 204.3 319.9 201.8 318.7 199.3 317.5 196.8 316.3 194.3 314.9 191.5 313.4 188 311.4 184.1 309 180 306.7 175.8 304.3 171.5 302 167.1 299.7 162.6 297.6 158.2 295.7 153.9 294 149.7 292.4 145.3 290.7 140.9 289M202.8 317.8L200.4 316.5 197.9 315.2 195.5 313.8 192.8 312.2 189.4 310.1 185.5 307.5 181.4 304.9 177.1 302.3 172.7 299.6 168.1 297 163.4 294.5 158.8 292.2 154.3 290.2 149.9 288.2 145.6 286.3 141.1 284.4M213.2 321.9L210.9 320.7 208.5 319.5 206.2 318.2 203.9 316.9 201.5 315.6 199.2 314.2 196.9 312.8 194.3 311.1 191 308.8 187.1 306.1 183 303.3 178.7 300.4 174.2 297.4 169.5 294.4 164.7 291.4 159.7 288.7 154.8 286.2 150.2 283.8 145.8 281.6 141.4 279.4M205 316L202.8 314.6 200.6 313.2 198.4 311.7 195.9 310 192.7 307.7 188.9 304.9 184.9 301.9 180.7 298.7 176.2 295.4 171.4 292 166.4 288.5 161.2 285.2 155.9 282.1 150.8 279.2 146.1 276.5 141.7 274M229.6 329.7L227.5 328.5 225.4 327.2 223.2 326 221.1 324.7 219 323.4 216.9 322.1 214.7 320.8 212.6 319.5 210.5 318.1 208.4 316.7 206.3 315.2 204.2 313.8 202.1 312.3 200 310.8 197.6 309.1 194.6 306.7 190.9 303.8 187.1 300.6 183 297.2 178.6 293.6 173.9 289.9 168.9 286.1 163.6 282.1 158 278.4 152.2 274.6 146.6 271 142 268.1M207.6 314.5L205.6 313 203.6 311.4 201.7 309.9 199.5 308.1 196.6 305.8 193.1 302.8 189.5 299.5 185.6 296 181.4 292.2 177 288.3 172.2 284.2 167 279.8 161.5 275.4 155.6 271.1 149.2 266.4 142.3 261.5M216.5 319.8L214.6 318.4 212.8 316.9 210.9 315.3 209 313.8 207.2 312.2 205.3 310.7 203.5 309.1 201.4 307.3 198.7 304.9 195.5 301.9 192.1 298.6 188.5 295.1 184.6 291.2 180.5 287.2 176.1 283 171.5 278.5 166.5 273.9 161.4 269.4 156.5 265.3 152.4 262M210.5 313.2L208.8 311.6 207.1 309.9 205.4 308.3 203.5 306.5 201 304.1 198.1 301.1 195 297.9 191.7 294.4 188.2 290.6 184.5 286.6 180.7 282.4 176.6 278.2 172.6 273.8 168.6 269.7 164.9 265.9 161.5 262.6M224.8 325.1L223.2 323.6 221.6 322 220 320.5 218.4 319 216.9 317.4 215.3 315.8 213.7 314.2 212.1 312.6 210.5 310.9 208.9 309.3 207.4 307.6 205.6 305.7 203.4 303.3 200.7 300.4 198 297.4 195.1 294 192 290.3 188.8 286.5 185.5 282.5 182.2 278.5 178.9 274.6 175.8 270.9 172.8 267.4 169.8 263.9M213.7 312.1L212.3 310.4 210.9 308.7 209.4 307 207.8 305.1 205.8 302.7 203.5 299.8 201.1 296.9 198.6 293.7 196 290.3 193.3 286.8 190.5 283.1 187.8 279.4 185.1 275.8 182.6 272.3 180 268.9 177.4 265.5M220.6 318.2L219.3 316.6 218 314.9 216.7 313.3 215.4 311.6 214.1 309.9 212.8 308.2 211.6 306.4 210.1 304.5 208.4 302.1 206.4 299.4 204.3 296.5 202.2 293.5 200 290.4 197.7 287.2 195.5 283.8 193.3 280.5 191.1 277.1 188.9 273.9 186.8 270.5 184.5 267.1M217.1 311.1L216 309.4 214.9 307.7 213.8 306 212.5 304 211 301.7 209.3 299 207.6 296.2 205.8 293.4 204 290.5 202.2 287.5 200.4 284.5 198.5 281.5 196.7 278.4 194.9 275.3 193.1 272.1 191.2 268.8M229.6 329.7L228.6 328 227.7 326.3 226.7 324.6 225.7 322.8 224.7 321.1 223.8 319.4 222.8 317.7 221.8 315.9 220.9 314.2 219.9 312.5 218.9 310.8 217.9 309 217 307.3 216 305.5 215 303.6 213.7 301.3 212.3 298.7 210.9 296.1 209.5 293.4 208 290.6 206.5 287.9 205.1 285.1 203.6 282.2 202.1 279.4 200.6 276.5 199.1 273.4 197.5 270.3M220.7 310.4L219.9 308.7 219.1 306.9 218.3 305.2 217.4 303.2 216.4 301 215.3 298.5 214.2 296 213.1 293.5 211.9 290.9 210.8 288.3 209.6 285.6 208.5 282.9 207.3 280.1 206 277.3 204.8 274.3 203.5 271.3M225.1 317.3L224.5 315.5 223.9 313.7 223.2 311.9 222.6 310.2 221.9 308.4 221.3 306.6 220.7 304.8 220 302.9 219.2 300.7 218.4 298.4 217.5 296 216.7 293.6 215.8 291.1 214.9 288.6 214 286.1 213.1 283.5 212.2 280.8 211.2 278 210.3 275.1 209.3 272.2M224.5 310L224 308.2 223.5 306.4 223.1 304.6 222.5 302.6 222 300.5 221.4 298.3 220.8 296 220.2 293.7 219.6 291.3 219 288.9 218.3 286.4 217.7 283.9 217 281.3 216.3 278.6 215.6 275.8 214.9 272.9M228.7 324.3L228.4 322.5 228.1 320.7 227.8 318.9 227.5 317.1 227.2 315.3 226.9 313.4 226.6 311.6 226.3 309.8 226 308 225.8 306.3 225.5 304.5 225.1 302.5 224.8 300.4 224.4 298.2 224.1 296 223.7 293.7 223.3 291.4 222.9 289 222.5 286.6 222.1 284.1 221.7 281.5 221.3 278.9 220.8 276.1 220.4 273.3M228.2 309.8L228.1 308 228 306.2 227.9 304.4 227.7 302.4 227.6 300.4 227.5 298.2 227.3 296.1 227.2 293.8 227 291.5 226.8 289.2 226.7 286.8 226.5 284.3 226.3 281.7 226.2 279.1 226 276.4 225.8 273.6M230 317L230 315.2 230.1 313.4 230.1 311.6 230.2 309.8 230.2 308 230.3 306.2 230.3 304.4 230.4 302.4 230.4 300.4 230.5 298.3 230.5 296.2 230.6 293.9 230.7 291.7 230.7 289.3 230.8 286.9 230.9 284.4 230.9 281.9 231 279.3 231.1 276.6 231.1 273.8M232.1 309.9L232.3 308.1 232.5 306.3 232.7 304.5 233 302.6 233.2 300.5 233.5 298.4 233.8 296.2 234 294 234.3 291.7 234.6 289.4 234.9 287 235.2 284.5 235.5 282 235.8 279.3 236.2 276.6 236.5 273.9M229.6 329.7L230 327.9 230.4 326.1 230.8 324.3 231.2 322.6 231.6 320.8 232 319 232.4 317.2 232.8 315.4 233.2 313.6 233.6 311.8 234 310 234.4 308.3 234.7 306.5 235.1 304.7 235.6 302.7 236 300.6 236.5 298.5 237 296.3 237.5 294 238 291.7 238.5 289.3 239 286.9 239.6 284.4 240.2 281.8 240.7 279.1 241.3 276.4 241.9 273.6M235.8 310.2L236.4 308.4 237 306.7 237.5 304.9 238.1 302.9 238.8 300.8 239.5 298.6 240.2 296.3 241 294 241.7 291.6 242.5 289.2 243.2 286.7 244 284.2 244.8 281.6 245.7 278.9 246.5 276.1 247.4 273.3M234.8 317.5L235.5 315.7 236.2 314 237 312.2 237.7 310.4 238.4 308.7 239.2 306.9 239.9 305.2 240.7 303.2 241.6 301 242.5 298.7 243.5 296.3 244.5 293.9 245.5 291.5 246.5 289 247.5 286.5 248.6 283.9 249.7 281.3 250.8 278.6 251.9 275.8 253 272.9M239.5 310.7L240.4 309 241.3 307.2 242.2 305.5 243.2 303.6 244.3 301.4 245.6 298.9 246.8 296.5 248.1 294 249.4 291.4 250.6 288.9 251.9 286.3 253.3 283.6 254.6 280.9 256 278.1 257.4 275.2 258.8 272.3M232.8 324.7L233.9 323 234.9 321.3 236 319.6 237.1 317.9 238.1 316.2 239.2 314.5 240.3 312.8 241.3 311.1 242.4 309.4 243.4 307.7 244.5 305.9 245.7 304 247 301.8 248.6 299.3 250.1 296.7 251.7 294.1 253.3 291.4 254.9 288.7 256.5 285.9 258.1 283.2 259.7 280.4 261.4 277.6 263.1 274.7 264.8 271.7M243.1 311.5L244.3 309.8 245.5 308.1 246.7 306.4 248.1 304.6 249.7 302.3 251.5 299.7 253.4 297 255.3 294.2 257.3 291.4 259.2 288.5 261.2 285.6 263.2 282.8 265.1 279.9 267.1 277 269.1 274 271.1 270.8M239.3 318.5L240.7 316.9 242 315.3 243.4 313.6 244.8 312 246.1 310.3 247.5 308.7 248.9 307 250.4 305.2 252.3 302.8 254.4 300.2 256.6 297.4 258.9 294.5 261.3 291.5 263.6 288.5 266 285.4 268.4 282.2 270.8 279.1 273.1 276.1 275.4 272.9 277.8 269.7M246.4 312.5L247.9 310.9 249.5 309.3 251 307.7 252.7 305.8 254.8 303.5 257.2 300.8 259.8 297.9 262.5 294.9 265.2 291.8 268.1 288.5 271 285.1 273.9 281.6 276.7 278.3 279.4 275 282.1 271.8 284.9 268.7M229.6 329.7L231.3 328.3 233 326.8 234.6 325.3 236.3 323.8 238 322.3 239.7 320.8 241.3 319.3 243 317.8 244.7 316.2 246.3 314.7 248 313.1 249.7 311.6 251.3 310 253 308.4 254.8 306.6 257.2 304.3 260 301.5 262.9 298.6 265.9 295.5 269.1 292.1 272.5 288.6 276 284.9 279.5 281.2 282.9 277.5 286.2 274.1 289.4 271.1 292.5 268.1M249.5 313.8L251.3 312.2 253.1 310.7 254.9 309.1 256.9 307.4 259.5 305.1 262.6 302.4 265.8 299.4 269.2 296.2 272.9 292.7 276.7 289 280.8 285.1 285 281.2 289.2 277.4 293.4 273.8 297.2 270.6 300.8 267.6M243.2 320.2L245.2 318.8 247.1 317.4 249 315.9 251 314.5 252.9 313 254.9 311.5 256.8 310 258.9 308.3 261.7 306.1 265 303.3 268.6 300.4 272.3 297.1 276.4 293.6 280.6 289.9 285.2 286 290.1 282.2 295.2 278.2 300.5 274.2 305.6 270.4 309.9 267.3M252.4 315.2L254.4 313.8 256.5 312.4 258.5 310.9 260.8 309.3 263.8 307.1 267.4 304.4 271.1 301.4 275.2 298.2 279.5 294.8 284.1 291.2 289.1 287.6 294.4 284 300.1 280.1 306.3 276.1 312.9 271.8 320 267.1M236.2 326.2L238.4 325 240.6 323.8 242.7 322.5 244.9 321.3 247.1 320 249.3 318.7 251.5 317.4 253.6 316 255.8 314.7 258 313.3 260.2 311.9 262.6 310.3 265.7 308.2 269.5 305.5 273.5 302.7 277.7 299.6 282.2 296.4 287 293.1 292.2 289.9 297.7 286.5 303.4 283.1 309.4 279.7 315.2 276.3 320 273.6M254.9 316.9L257.1 315.6 259.4 314.3 261.7 312.9 264.2 311.4 267.5 309.3 271.4 306.8 275.5 304.1 279.9 301.2 284.5 298.3 289.4 295.4 294.5 292.5 299.8 289.6 305.3 286.8 310.6 284.2 315.4 281.7 320 279.4M246.4 322.5L248.8 321.3 251.2 320.2 253.6 319 256 317.8 258.4 316.6 260.7 315.3 263.1 314 265.8 312.5 269.1 310.6 273.1 308.2 277.3 305.7 281.7 303 286.3 300.4 291.1 297.9 296.1 295.5 301.2 293.1 306.2 290.8 310.9 288.7 315.4 286.7 319.9 284.7M257 318.8L259.5 317.6 261.9 316.4 264.4 315.2 267.2 313.8 270.6 311.9 274.6 309.7 278.8 307.4 283.2 305 287.7 302.8 292.4 300.6 297.2 298.6 301.9 296.6 306.5 294.8 311 293 315.4 291.3 319.9 289.6M229.6 329.7L232.2 328.9 234.8 328.1 237.3 327.3 239.9 326.4 242.5 325.6 245.1 324.7 247.6 323.7 250.2 322.8 252.8 321.8 255.3 320.8 257.9 319.8 260.5 318.7 263 317.5 265.6 316.4 268.4 315 271.9 313.3 275.9 311.3 280.1 309.2 284.4 307.1 288.8 305.2 293.3 303.4 297.8 301.7 302.3 300 306.7 298.5 311 297.1 315.4 295.6 319.9 294.1M258.7 320.8L261.4 319.8 264 318.7 266.6 317.6 269.5 316.3 273.1 314.7 277 312.9 281.1 311.1 285.3 309.3 289.5 307.7 293.8 306.1 298.1 304.7 302.4 303.4 306.7 302.1 311 300.9 315.4 299.7 319.9 298.4M248.6 325.1L251.3 324.3 254 323.5 256.7 322.7 259.4 321.9 262.1 320.9 264.8 319.9 267.5 318.9 270.5 317.7 274 316.3 277.9 314.6 281.9 313 286 311.5 290.1 310.1 294.2 308.9 298.3 307.7 302.5 306.6 306.7 305.5 311 304.5 315.4 303.5 319.9 302.4M260 323L262.8 322.1 265.6 321.2 268.3 320.3 271.4 319.2 274.8 317.9 278.6 316.4 282.5 315.1 286.4 313.8 290.4 312.6 294.4 311.6 298.4 310.6 302.5 309.6 306.7 308.8 310.9 308 315.3 307.1 319.9 306.3M238 328.5L240.9 328.1 243.7 327.6 246.5 327.1 249.3 326.6 252.1 326 254.9 325.4 257.7 324.8 260.5 324.1 263.3 323.3 266.1 322.5 268.9 321.6 272 320.6 275.5 319.5 279.2 318.3 282.9 317.1 286.7 316 290.6 315 294.5 314.2 298.4 313.4 302.5 312.6 306.6 311.9 310.9 311.3 315.3 310.6 319.8 310M260.9 325.2L263.7 324.6 266.6 323.9 269.4 323.1 272.6 322.2 276 321.2 279.5 320.1 283.2 319.1 286.9 318.2 290.6 317.4 294.5 316.7 298.4 316.1 302.5 315.5 306.6 315 310.9 314.5 315.3 314.1 319.8 313.6M249.7 328.1L252.6 327.7 255.4 327.3 258.3 326.9 261.2 326.4 264 325.9 266.9 325.2 269.8 324.6 272.9 323.8 276.3 322.9 279.8 322 283.3 321.2 286.9 320.5 290.7 319.8 294.5 319.2 298.4 318.8 302.4 318.3 306.6 318 310.9 317.7 315.3 317.4 319.8 317.1M261.3 327.6L264.2 327.2 267.1 326.6 270 326.1 273.1 325.4 276.4 324.7 279.9 324 283.4 323.3 287 322.7 290.7 322.1 294.5 321.7 298.4 321.4 302.4 321.1 306.6 320.9 310.9 320.8 315.3 320.7 319.8 320.6" fill="none" stroke="#180a14" stroke-width="0.9" opacity="0.68" stroke-linejoin="round"/>
<ellipse cx="204" cy="326" rx="9" ry="13" fill="url(#dk3)"/>
<ellipse cx="255" cy="326" rx="9" ry="13" fill="url(#dk3)"/>
<path d="M142.3 261.5L144.5 261.6 146.8 261.7 149 261.8 151.3 261.9 153.5 262.1 155.8 262.2 158 262.4 160.3 262.5 162.5 262.7 164.8 263 167 263.4 169.3 263.8 171.5 264.3 173.8 264.7 176 265.2 178.3 265.7 180.5 266.2 182.8 266.7 185 267.2 187.3 267.8 189.5 268.3 191.8 268.9 194 269.5 196.3 270 198.5 270.5 200.8 270.9 203 271.3 205.3 271.6 207.5 271.9 209.8 272.2 212 272.6 214.3 272.8 216.5 273.1 218.8 273.2 221 273.3 223.3 273.5 225.5 273.6 227.8 273.7 230 273.8 232.3 273.8 234.5 273.9 236.8 273.9 239 273.8 241.3 273.6 243.5 273.5 245.8 273.4 248 273.2 250.3 273.1 252.5 272.9 254.8 272.7 257 272.5 259.3 272.2 261.5 272 263.8 271.8 266 271.5 268.3 271.3 270.5 270.9 272.8 270.6 275 270.2 277.3 269.8 279.5 269.4 281.8 269.1 284 268.7 286.3 268.5 288.5 268.3 290.8 268.2 293 268 295.3 267.9 297.5 267.8 299.8 267.6 302 267.5 304.3 267.5 306.5 267.4 308.8 267.3 311 267.3 313.3 267.2 315.5 267.2 317.8 267.1 320 267.1 319.6 380.9 317.3 380.9 315 380.9 312.6 380.9 310.3 380.9 308 380.9 305.7 380.9 303.4 380.9 301 381 298.7 381.1 296.4 381.3 294.1 381.4 291.8 381.7 289.5 382 287.1 382.4 284.8 382.8 282.5 383.2 280.2 383.7 277.9 384.2 275.5 384.7 273.2 385.2 270.9 385.7 268.6 386.1 266.3 386.6 263.9 387 261.6 387.4 259.3 387.7 257 387.9 254.7 388.1 252.3 388.1 250 388.2 247.7 388.2 245.4 388.2 243.1 388.2 240.8 388.1 238.4 388.1 236.1 388 233.8 387.9 231.5 387.8 229.2 387.7 226.8 387.7 224.5 387.7 222.2 387.7 219.9 387.7 217.6 387.7 215.2 387.7 212.9 387.6 210.6 387.5 208.3 387.4 206 387.4 203.7 387.2 201.3 387.1 199 386.8 196.7 386.5 194.4 386.2 192.1 385.8 189.7 385.3 187.4 384.8 185.1 384.2 182.8 383.6 180.5 383 178.1 382.4 175.8 381.8 173.5 381.3 171.2 380.7 168.9 380.1 166.5 379.7 164.2 379.3 161.9 379.1 159.6 378.9 157.3 378.7 155 378.6 152.6 378.4 150.3 378.2 148 378.1 145.7 377.9 143.4 377.8 141 377.6 138.7 377.5 136.4 377.3Z" fill="none" stroke="#180a14" stroke-width="0.9" opacity="0.8"/>
<path d="M135 408.8L319.8 413 319.8 415.5 135 411.3Z" fill="#3a3a9c" stroke="#2b2a7a" stroke-width="0.5"/></g>
<g filter="url(#soft)"><path d="M508.4 381L510.7 381.2 513 381.3 515.4 381.5 517.7 381.6 520 381.8 522.3 381.9 524.6 382.1 527 382.3 529.3 382.4 531.6 382.6 533.9 382.8 536.2 383 538.5 383.4 540.9 383.8 543.2 384.4 545.5 385 547.8 385.5 550.1 386.1 552.5 386.7 554.8 387.3 557.1 387.9 559.4 388.5 561.7 389 564.1 389.5 566.4 389.9 568.7 390.2 571 390.5 573.3 390.8 575.7 390.9 578 391.1 580.3 391.1 582.6 391.2 584.9 391.3 587.2 391.4 589.6 391.4 591.9 391.4 594.2 391.4 596.5 391.4 598.8 391.4 601.2 391.4 603.5 391.5 605.8 391.6 608.1 391.7 610.4 391.8 612.8 391.8 615.1 391.9 617.4 391.9 619.7 391.9 622 391.9 624.3 391.8 626.7 391.8 629 391.6 631.3 391.4 633.6 391.1 635.9 390.7 638.3 390.3 640.6 389.8 642.9 389.4 645.2 388.9 647.5 388.4 649.9 387.9 652.2 387.4 654.5 386.9 656.8 386.5 659.1 386.1 661.5 385.7 663.8 385.4 666.1 385.1 668.4 385 670.7 384.8 673 384.7 675.4 384.6 677.7 384.6 680 384.6 682.3 384.6 684.6 384.6 687 384.6 689.3 384.6 691.6 384.6 691.8 414.4 507 410.2Z" fill="#c6c2c0"/>
<path d="M508.4 381L507 410.2M517.6 381.6L516.2 410.4M526.7 382.3L525.5 410.6M535.9 383L534.7 410.8M545 384.8L544 411M554.2 387.2L553.2 411.2M563.4 389.4L562.4 411.5M572.5 390.7L571.9 395.6 568.5 402.3 567 406.4 571.7 411.7M581.7 391.2L585.5 395.1 581.8 401.9 576.5 406.3 580.9 411.9M590.8 391.4L592.7 396.4 592.8 400.7 587.7 405.7 590.2 412.1M600 391.4L599.9 397.9 600.6 402.7 598.4 407.8 599.4 412.3M609.2 391.7L605 396.3 610.6 402.8 608 406.1 608.6 412.5M618.3 391.9L615.9 396.3 615.9 403.3 615 408.7 617.9 412.7M627.5 391.7L631.2 395.7 626.1 402.3 622.4 407.4 627.1 412.9M636.6 390.6L640.6 395.1 637.5 400.7 637.2 408.7 636.4 413.1M645.8 388.8L645.6 413.3M655 386.9L654.8 413.6M664.1 385.3L664.1 413.8M673.3 384.7L673.3 414M682.4 384.6L682.6 414.2M691.6 384.6L691.8 414.4M508.3 383.9L512.8 384.2 517.4 384.5 522 384.8 526.6 385.1 531.2 385.4 535.8 385.8 540.3 386.5 544.9 387.5 549.5 388.5 554.1 389.6 558.7 390.6 563.3 391.6 567.9 391 572.4 390.6 577 391.3 581.6 393.4 586.2 391.3 590.8 391.6 595.4 393.5 599.9 395.4 604.5 393.3 609.1 393.3 613.7 394.6 618.3 392.2 622.9 394.3 627.4 392.4 632 394 636.6 394.9 641.2 392.1 645.8 391.2 650.4 390.3 654.9 389.5 659.5 388.8 664.1 388.2 668.7 387.8 673.3 387.6 677.9 387.6 682.5 387.6 687 387.6 691.6 387.6M508.1 386.8L512.7 387.1 517.3 387.4 521.9 387.7 526.5 387.9 531.1 388.2 535.6 388.5 540.2 389.2 544.8 390.1 549.4 391 554 392 558.6 392.9 563.2 393.8 567.8 392.4 572.4 395.1 576.9 395.6 581.5 393.8 586.1 394.4 590.7 397.7 595.3 397.8 599.9 393.9 604.5 396.6 609.1 397.8 613.6 394.9 618.2 396.6 622.8 394 627.4 395.4 632 396.4 636.6 395.5 641.2 394.4 645.8 393.7 650.3 392.9 654.9 392.2 659.5 391.6 664.1 391 668.7 390.7 673.3 390.5 677.9 390.5 682.5 390.5 687.1 390.5 691.6 390.6M508 389.8L512.6 390 517.2 390.3 521.8 390.5 526.3 390.8 530.9 391 535.5 391.3 540.1 391.9 544.7 392.7 549.3 393.5 553.9 394.4 558.5 395.2 563.1 396 567.7 397.8 572.3 395.2 576.9 396.6 581.5 399 586 397.9 590.6 397.4 595.2 397.2 599.8 399.8 604.4 398.1 609 395.8 613.6 399.4 618.2 397.4 622.8 397.9 627.4 396.8 632 397.6 636.6 396.6 641.1 396.8 645.7 396.1 650.3 395.5 654.9 394.9 659.5 394.3 664.1 393.9 668.7 393.6 673.3 393.5 677.9 393.4 682.5 393.5 687.1 393.5 691.7 393.5M507.8 392.7L512.4 392.9 517 393.1 521.6 393.4 526.2 393.6 530.8 393.8 535.4 394.1 540 394.6 544.6 395.3 549.2 396.1 553.8 396.8 558.4 397.5 563 398.2 567.6 396.9 572.2 399.7 576.8 397.6 581.4 400.7 586 397.5 590.6 400.9 595.2 401.1 599.8 399.8 604.4 400.8 609 398.9 613.5 401.2 618.1 399.9 622.7 399.1 627.3 402.2 631.9 399.6 636.5 399 641.1 399.1 645.7 398.6 650.3 398 654.9 397.5 659.5 397.1 664.1 396.7 668.7 396.5 673.3 396.4 677.9 396.4 682.5 396.4 687.1 396.5 691.7 396.5M507.7 395.6L512.3 395.8 516.9 396 521.5 396.2 526.1 396.4 530.7 396.6 535.3 396.9 539.9 397.3 544.5 397.9 549.1 398.6 553.7 399.2 558.3 399.8 562.9 400.4 567.5 402.4 572.1 400.6 576.7 402.1 581.3 400.1 585.9 403.2 590.5 400.7 595.1 399.8 599.7 404 604.3 400.5 608.9 404.1 613.5 404.4 618.1 402.8 622.7 400.2 627.3 400.4 631.9 400.9 636.5 401.4 641.1 401.5 645.7 401.1 650.3 400.6 654.9 400.2 659.5 399.8 664.1 399.6 668.7 399.4 673.3 399.3 677.9 399.3 682.5 399.4 687.1 399.4 691.7 399.5M507.6 398.5L512.2 398.7 516.8 398.9 521.4 399.1 526 399.3 530.6 399.5 535.2 399.7 539.8 400.1 544.4 400.6 549 401.1 553.6 401.6 558.2 402.1 562.8 402.6 567.4 403.5 572 405.3 576.6 402.8 581.2 402 585.8 404 590.4 402.2 595 402.1 599.6 404.2 604.2 404.9 608.8 402.3 613.5 404.1 618.1 405.3 622.7 405.6 627.3 403.9 631.9 406.1 636.5 402.7 641.1 403.8 645.7 403.5 650.3 403.2 654.9 402.9 659.5 402.6 664.1 402.4 668.7 402.3 673.3 402.3 677.9 402.3 682.5 402.4 687.1 402.4 691.7 402.5M507.4 401.4L512 401.6 516.6 401.8 521.2 401.9 525.9 402.1 530.5 402.3 535.1 402.5 539.7 402.8 544.3 403.2 548.9 403.6 553.5 404 558.1 404.4 562.7 404.8 567.3 406.1 571.9 406.6 576.5 407.2 581.1 405.6 585.8 404 590.4 403.9 595 406.1 599.6 404.6 604.2 406.7 608.8 404.4 613.4 407.6 618 405.3 622.6 404.4 627.2 405.1 631.8 406.3 636.4 406.6 641.1 406.2 645.7 406 650.3 405.8 654.9 405.6 659.5 405.4 664.1 405.2 668.7 405.2 673.3 405.2 677.9 405.2 682.5 405.3 687.1 405.4 691.7 405.5M507.3 404.4L511.9 404.5 516.5 404.7 521.1 404.8 525.7 404.9 530.3 405.1 535 405.3 539.6 405.5 544.2 405.8 548.8 406.1 553.4 406.4 558 406.7 562.6 407 567.2 406.8 571.8 406 576.5 407.5 581.1 409.7 585.7 408 590.3 409.9 594.9 406 599.5 410.3 604.1 409.9 608.7 408.5 613.4 408.6 618 408.7 622.6 410.4 627.2 406.8 631.8 409.3 636.4 408.8 641 408.5 645.6 408.4 650.3 408.3 654.9 408.2 659.5 408.1 664.1 408.1 668.7 408.1 673.3 408.1 677.9 408.2 682.5 408.3 687.1 408.4 691.8 408.4M507.1 407.3L511.8 407.4 516.4 407.5 521 407.7 525.6 407.8 530.2 407.9 534.8 408 539.5 408.2 544.1 408.4 548.7 408.6 553.3 408.8 557.9 409.1 562.5 409.2 567.1 408.5 571.8 410.6 576.4 410.7 581 408.1 585.6 410.8 590.2 409.8 594.8 410.1 599.5 410.8 604.1 408.3 608.7 410.9 613.3 410 617.9 412.3 622.5 409.5 627.2 412.2 631.8 411.9 636.4 411.4 641 410.9 645.6 410.9 650.2 410.9 654.9 410.9 659.5 410.9 664.1 410.9 668.7 411 673.3 411.1 677.9 411.1 682.5 411.2 687.2 411.3 691.8 411.4" fill="none" stroke="#2a2428" stroke-width="0.85" opacity="0.68" stroke-linejoin="round"/>
<path d="M573.4 395.1L577.7 393.7 580.6 406.5 574.9 408ZM590.6 394L599.1 394.6 594.9 402.3ZM620.6 396.5L629.1 395.1 627.7 408 622 406.5ZM557.7 393.7L563.4 395.1 562 408 558.4 406.5ZM608 404.9L618 405.9 615 410.9 609 410.4ZM634 393.4L640 392.9 639 401.4 635 402.4Z" fill="#8f8b8a" opacity="0.55"/>
<path d="M563.4 390.2L572 391 569 393.6Z" fill="#fff"/>
<path d="M580.6 394.3L593.4 394.8 591 398.6 583 397.4Z" fill="#fff"/>
<path d="M590.6 405.7L600.6 406.9 598 410.4 593 409Z" fill="#fff"/>
<path d="M602 398.9L606 398.4 620.6 401.9 612 404.4 604 404Z" fill="#fff"/>
<path d="M597 392.9L603 393.4 600 395.9Z" fill="#fff"/>
<path d="M508.4 378.7L510.7 378.9 513 379 515.4 379.2 517.7 379.3 520 379.5 522.3 379.6 524.6 379.8 527 380 529.3 380.1 531.6 380.3 533.9 380.5 536.2 380.7 538.5 381.1 540.9 381.5 543.2 382.1 545.5 382.7 547.8 383.2 550.1 383.8 552.5 384.4 554.8 385 557.1 385.6 559.4 386.2 561.7 386.7 564.1 387.2 566.4 387.6 568.7 387.9 571 388.2 573.3 388.5 575.7 388.6 578 388.8 580.3 388.8 582.6 388.9 584.9 389 587.2 389.1 589.6 389.1 591.9 389.1 594.2 389.1 596.5 389.1 598.8 389.1 601.2 389.1 603.5 389.2 605.8 389.3 608.1 389.4 610.4 389.5 612.8 389.5 615.1 389.6 617.4 389.6 619.7 389.6 622 389.6 624.3 389.5 626.7 389.5 629 389.3 631.3 389.1 633.6 388.8 635.9 388.4 638.3 388 640.6 387.5 642.9 387.1 645.2 386.6 647.5 386.1 649.9 385.6 652.2 385.1 654.5 384.6 656.8 384.2 659.1 383.8 661.5 383.4 663.8 383.1 666.1 382.8 668.4 382.7 670.7 382.5 673 382.4 675.4 382.3 677.7 382.3 680 382.3 682.3 382.3 684.6 382.3 687 382.3 689.3 382.3 691.6 382.3 691.6 384.6 689.3 384.6 687 384.6 684.6 384.6 682.3 384.6 680 384.6 677.7 384.6 675.4 384.6 673 384.7 670.7 384.8 668.4 385 666.1 385.1 663.8 385.4 661.5 385.7 659.1 386.1 656.8 386.5 654.5 386.9 652.2 387.4 649.9 387.9 647.5 388.4 645.2 388.9 642.9 389.4 640.6 389.8 638.3 390.3 635.9 390.7 633.6 391.1 631.3 391.4 629 391.6 626.7 391.8 624.3 391.8 622 391.9 619.7 391.9 617.4 391.9 615.1 391.9 612.8 391.8 610.4 391.8 608.1 391.7 605.8 391.6 603.5 391.5 601.2 391.4 598.8 391.4 596.5 391.4 594.2 391.4 591.9 391.4 589.6 391.4 587.2 391.4 584.9 391.3 582.6 391.2 580.3 391.1 578 391.1 575.7 390.9 573.3 390.8 571 390.5 568.7 390.2 566.4 389.9 564.1 389.5 561.7 389 559.4 388.5 557.1 387.9 554.8 387.3 552.5 386.7 550.1 386.1 547.8 385.5 545.5 385 543.2 384.4 540.9 383.8 538.5 383.4 536.2 383 533.9 382.8 531.6 382.6 529.3 382.4 527 382.3 524.6 382.1 522.3 381.9 520 381.8 517.7 381.6 515.4 381.5 513 381.3 510.7 381.2 508.4 381Z" fill="#2f2c90" stroke="#26246e" stroke-width="0.5"/>
<path d="M514.3 262.9L516.5 263 518.8 263.1 521 263.2 523.3 263.3 525.5 263.5 527.8 263.6 530 263.8 532.3 263.9 534.5 264.1 536.8 264.4 539 264.8 541.3 265.2 543.5 265.7 545.8 266.1 548 266.6 550.3 267.1 552.5 267.6 554.8 268.1 557 268.6 559.3 269.2 561.5 269.7 563.8 270.3 566 270.9 568.3 271.4 570.5 271.9 572.8 272.3 575 272.7 577.3 273 579.5 273.3 581.8 273.6 584 274 586.3 274.2 588.5 274.5 590.8 274.6 593 274.7 595.3 274.9 597.5 275 599.8 275.1 602 275.2 604.3 275.2 606.5 275.3 608.8 275.3 611 275.2 613.3 275 615.5 274.9 617.8 274.8 620 274.6 622.3 274.5 624.5 274.3 626.8 274.1 629 273.9 631.3 273.6 633.5 273.4 635.8 273.2 638 272.9 640.3 272.7 642.5 272.3 644.8 272 647 271.6 649.3 271.2 651.5 270.8 653.8 270.5 656 270.1 658.3 269.9 660.5 269.7 662.8 269.6 665 269.4 667.3 269.3 669.5 269.2 671.8 269 674 268.9 676.3 268.9 678.5 268.8 680.8 268.7 683 268.7 685.3 268.6 687.5 268.6 689.8 268.5 692 268.5 691.6 382.3 689.3 382.3 687 382.3 684.6 382.3 682.3 382.3 680 382.3 677.7 382.3 675.4 382.3 673 382.4 670.7 382.5 668.4 382.7 666.1 382.8 663.8 383.1 661.5 383.4 659.1 383.8 656.8 384.2 654.5 384.6 652.2 385.1 649.9 385.6 647.5 386.1 645.2 386.6 642.9 387.1 640.6 387.5 638.3 388 635.9 388.4 633.6 388.8 631.3 389.1 629 389.3 626.7 389.5 624.3 389.5 622 389.6 619.7 389.6 617.4 389.6 615.1 389.6 612.8 389.5 610.4 389.5 608.1 389.4 605.8 389.3 603.5 389.2 601.2 389.1 598.8 389.1 596.5 389.1 594.2 389.1 591.9 389.1 589.6 389.1 587.2 389.1 584.9 389 582.6 388.9 580.3 388.8 578 388.8 575.7 388.6 573.3 388.5 571 388.2 568.7 387.9 566.4 387.6 564.1 387.2 561.7 386.7 559.4 386.2 557.1 385.6 554.8 385 552.5 384.4 550.1 383.8 547.8 383.2 545.5 382.7 543.2 382.1 540.9 381.5 538.5 381.1 536.2 380.7 533.9 380.5 531.6 380.3 529.3 380.1 527 380 524.6 379.8 522.3 379.6 520 379.5 517.7 379.3 515.4 379.2 513 379 510.7 378.9 508.4 378.7Z" fill="#4849a8"/>
<path d="M581.9 333.5L581.7 332.7 581.5 331.9 581.4 331.1 581.4 330.3 581.5 329.6 581.6 328.8 581.8 328.1 582.1 327.3 584.9 328 584.6 328.6 584.5 329.3 584.3 329.9 584.3 330.6 584.3 331.2 584.4 331.9 584.5 332.6 584.7 333.2ZM624.7 330.9L624.6 331.8 624.5 332.7 624.3 333.6 623.9 334.5 621.2 334.1 621.4 333.4 621.6 332.6 621.8 331.8 621.8 331ZM581.6 338L580.9 337.2 580.3 336.3 579.8 335.5 579.4 334.6 579.1 333.7 578.8 332.8 578.6 331.9 578.5 331 578.5 330.1 578.6 329.2 578.7 328.3 579 327.5 579.3 326.6 579.7 325.8 580.2 325 580.7 324.2 581.4 323.5 582.1 322.8 584.5 323.9 583.9 324.6 583.3 325.2 582.9 325.9 582.4 326.6 582.1 327.3 581.8 328.1 581.6 328.8 581.5 329.6 581.4 330.3 581.4 331.1 581.5 331.9 581.7 332.7 581.9 333.5 582.2 334.3 582.6 335 583 335.8 583.5 336.5 584.1 337.2ZM624.4 328.3L624.6 329.1 624.7 330 624.7 330.9 621.8 331 621.8 330.3 621.7 329.5 621.5 328.7ZM627.6 330.7L627.5 331.7 627.3 332.7 627.1 333.8 626.7 334.8 626.3 335.8 625.8 336.7 625.1 337.7 624.4 338.6 623.6 339.5 621.2 338.7 621.9 337.9 622.5 337.1 623.1 336.2 623.6 335.3 623.9 334.5 624.3 333.6 624.5 332.7 624.6 331.8 624.7 330.9ZM581.8 341.4L580.8 340.6 579.9 339.7 579.1 338.8 578.3 337.8 577.7 336.9 577.1 335.9 576.6 334.9 576.2 333.9 575.9 332.9 575.7 331.8 575.6 330.8 575.6 329.8 575.7 328.8 575.9 327.8 576.2 326.9 576.5 325.9 577 325 577.5 324.1 578.1 323.2 578.9 322.4 579.7 321.6 580.5 320.9 581.5 320.1 582.5 319.5 584.6 320.9 583.7 321.5 582.9 322.1 582.1 322.8 581.4 323.5 580.7 324.2 580.2 325 579.7 325.8 579.3 326.6 579 327.5 578.7 328.3 578.6 329.2 578.5 330.1 578.5 331 578.6 331.9 578.8 332.8 579.1 333.7 579.4 334.6 579.8 335.5 580.3 336.3 580.9 337.2 581.6 338 582.3 338.8 583.1 339.6 584 340.3ZM624.8 323.2L625.4 324.1 626 324.9 626.5 325.9 626.9 326.8 627.2 327.8 627.4 328.7 627.6 329.7 627.6 330.7 624.7 330.9 624.7 330 624.6 329.1 624.4 328.3 624.1 327.4 623.7 326.6 623.3 325.7 622.8 324.9 622.2 324.2ZM630.5 330.5L630.4 331.7 630.2 332.8 629.9 333.9 629.5 335 629 336.1 628.5 337.2 627.8 338.3 627 339.4 626.1 340.4 625.1 341.4 624.1 342.3 622.9 343.2 620.8 342.1 621.8 341.3 622.8 340.4 623.6 339.5 624.4 338.6 625.1 337.7 625.8 336.7 626.3 335.8 626.7 334.8 627.1 333.8 627.3 332.7 627.5 331.7 627.6 330.7ZM582 344.2L580.8 343.4 579.6 342.5 578.5 341.5 577.5 340.6 576.6 339.5 575.7 338.5 575 337.4 574.4 336.3 573.9 335.1 573.4 334 573.1 332.9 572.9 331.7 572.7 330.6 575.6 330.8 575.7 331.8 575.9 332.9 576.2 333.9 576.6 334.9 577.1 335.9 577.7 336.9 578.3 337.8 579.1 338.8 579.9 339.7 580.8 340.6 581.8 341.4 582.9 342.2 584 343ZM573 327.3L573.3 326.2 573.7 325.2 574.2 324.1 574.8 323.2 575.5 322.2 576.3 321.3 577.2 320.4 578.2 319.6 579.3 318.8 580.4 318.1 581.6 317.4 582.9 316.7 584.8 318.3 583.6 318.8 582.5 319.5 581.5 320.1 580.5 320.9 579.7 321.6 578.9 322.4 578.1 323.2 577.5 324.1 577 325 576.5 325.9 576.2 326.9 575.9 327.8ZM624.6 319.6L625.6 320.4 626.5 321.3 627.3 322.2 628.1 323.1 628.7 324.1 629.3 325.1 629.7 326.2 630.1 327.2 630.3 328.3 630.4 329.4 630.5 330.5 627.6 330.7 627.6 329.7 627.4 328.7 627.2 327.8 626.9 326.8 626.5 325.9 626 324.9 625.4 324.1 624.8 323.2 624 322.4 623.2 321.6 622.3 320.8ZM633.4 330.3L633.3 331.5 633.1 332.7 632.8 334 632.3 335.2 631.8 336.5 631.1 337.7 630.4 338.9 629.5 340.1 628.6 341.2 627.5 342.3 626.3 343.4 625.1 344.4 623.7 345.3 621.7 344.1 622.9 343.2 624.1 342.3 625.1 341.4 626.1 340.4 627 339.4 627.8 338.3 628.5 337.2 629 336.1 629.5 335 629.9 333.9 630.2 332.8 630.4 331.7 630.5 330.5ZM581.5 346.4L580 345.5 578.7 344.6 577.4 343.5 576.2 342.5 575.1 341.4 574.1 340.2 573.2 339 572.4 337.8 575 337.4 575.7 338.5 576.6 339.5 577.5 340.6 578.5 341.5 579.6 342.5 580.8 343.4 582 344.2 583.3 345.1ZM573.8 320.1L574.8 319.2 575.9 318.3 577 317.4 578.3 316.6 579.6 315.9 581 315.2 582.5 314.6 584.3 316.2 582.9 316.7 581.6 317.4 580.4 318.1 579.3 318.8 578.2 319.6 577.2 320.4 576.3 321.3ZM624.4 316.6L625.6 317.4 626.9 318.3 628 319.2 629 320.2 629.9 321.2 630.7 322.2 631.4 323.3 632 324.4 632.5 325.5 632.9 326.6 633.2 327.8 633.3 329 633.4 330.3 630.5 330.5 630.4 329.4 630.3 328.3 630.1 327.2 629.7 326.2 629.3 325.1 628.7 324.1 628.1 323.1 627.3 322.2 626.5 321.3 625.6 320.4 624.6 319.6 623.5 318.8 622.3 318ZM632.1 340.7L631 342 629.9 343.2 628.6 344.4 627.2 345.5 625.8 346.6 624.2 347.6 622.6 348.5 620.8 347.1 622.3 346.2 623.7 345.3 625.1 344.4 626.3 343.4 627.5 342.3 628.6 341.2 629.5 340.1ZM581.3 348.6L579.7 347.7 578.1 346.7 576.6 345.7 575.2 344.6 573.9 343.4 572.7 342.2 575.1 341.4 576.2 342.5 577.4 343.5 578.7 344.6 580 345.5 581.5 346.4 583 347.2ZM573.5 317L574.8 316 576.2 315.2 577.6 314.4 579.2 313.6 580.8 313 582.5 312.3 584.1 314 582.5 314.6 581 315.2 579.6 315.9 578.3 316.6 577 317.4 575.9 318.3ZM624.9 314.4L626.4 315.2 627.8 316.1 629.1 317 630.4 318 631.5 319 632.5 320.1 633.4 321.2 634.1 322.3 634.8 323.5 632 324.4 631.4 323.3 630.7 322.2 629.9 321.2 629 320.2 628 319.2 626.9 318.3 625.6 317.4 624.4 316.6 623 315.9ZM632.2 344.1L630.8 345.4 629.4 346.6 627.8 347.8 626.1 348.9 624.3 349.9 622.5 350.8 620.9 349.3 622.6 348.5 624.2 347.6 625.8 346.6 627.2 345.5 628.6 344.4 629.9 343.2ZM581.5 351L579.6 350.1 577.8 349.1 576.1 348 574.5 346.8 573 345.6 575.2 344.6 576.6 345.7 578.1 346.7 579.7 347.7 581.3 348.6 583.1 349.5ZM574.1 313.7L575.6 312.8 577.3 312.1 579.1 311.3 580.9 310.7 582.9 310.1 584.3 311.8 582.5 312.3 580.8 313 579.2 313.6 577.6 314.4 576.2 315.2ZM623.3 311.4L625.1 312.1 626.9 312.9 628.5 313.8 630 314.7 631.4 315.7 632.7 316.7 633.9 317.8 635 318.9 632.5 320.1 631.5 319 630.4 318 629.1 317 627.8 316.1 626.4 315.2 624.9 314.4 623.3 313.6 621.7 313ZM631.5 347.7L629.8 349 628 350.2 626.1 351.3 624.1 352.3 622 353.2 620.6 351.7 622.5 350.8 624.3 349.9 626.1 348.9 627.8 347.8 629.4 346.6ZM582.1 353.4L580 352.5 577.9 351.5 576 350.4 574.1 349.2 572.4 347.9 574.5 346.8 576.1 348 577.8 349.1 579.6 350.1 581.5 351 583.5 351.8ZM575.5 310.5L577.4 309.7 579.4 309 581.4 308.4 583.6 307.8 584.8 309.6 582.9 310.1 580.9 310.7 579.1 311.3 577.3 312.1ZM625 309.8L626.9 310.5 628.8 311.4 630.5 312.3 632.2 313.3 633.7 314.3 635.1 315.4 632.7 316.7 631.4 315.7 630 314.7 628.5 313.8 626.9 312.9 625.1 312.1 623.3 311.4ZM632 350.2L630.1 351.6 628 352.8 625.9 353.9 623.6 354.9 622 353.2 624.1 352.3 626.1 351.3 628 350.2 629.8 349ZM580.5 355.1L578.2 354.1 576.1 353 574 351.8 572 350.5 574.1 349.2 576 350.4 577.9 351.5 580 352.5 582.1 353.4ZM575.5 307.9L577.6 307.1 579.8 306.5 582.1 305.9 584.5 305.4 585.8 307.4 583.6 307.8 581.4 308.4 579.4 309 577.4 309.7ZM624.7 307.2L626.8 308 628.9 308.8 630.9 309.7 632.8 310.7 634.6 311.7 636.2 312.8 633.7 314.3 632.2 313.3 630.5 312.3 628.8 311.4 626.9 310.5 625 309.8 623 309.1ZM630.6 354.7L628.2 356 625.7 357.1 623.1 358.1 621.3 355.9 623.6 354.9 625.9 353.9 628 352.8ZM578.6 357.3L576.1 356.2 573.6 355 571.3 353.6 574 351.8 576.1 353 578.2 354.1 580.5 355.1ZM575.4 304.7L577.8 304.1 580.4 303.5 583 303.1 584.5 305.4 582.1 305.9 579.8 306.5 577.6 307.1ZM629.2 305.7L631.5 306.5 633.7 307.5 635.8 308.5 632.8 310.7 630.9 309.7 628.9 308.8 626.8 308ZM575.5 301.2L578.4 300.8 581.3 300.4 584.3 300.1 585.7 302.7 583 303.1 580.4 303.5 577.8 304.1ZM573.1 298.3L576.3 297.9 579.6 297.6 582.9 297.5 584.3 300.1 581.3 300.4 578.4 300.8 575.5 301.2ZM574.2 294.9L577.8 294.8 581.5 294.8 585.1 294.9 586.2 297.4 582.9 297.5 579.6 297.6 576.3 297.9ZM576 291.9L580 292 583.9 292.3 585.1 294.9 581.5 294.8 577.8 294.8ZM574.2 288.9L578.5 289.3 582.8 289.7 583.9 292.3 580 292 576 291.9ZM572.4 285.9L577.1 286.5 581.6 287 586 287.5 586.9 290 582.8 289.7 578.5 289.3 574.2 288.9ZM575.6 283.6L580.5 284.3 585.1 284.9 586 287.5 581.6 287 577.1 286.5ZM574.1 280.8L579.3 281.5 584.2 282.2 585.1 284.9 580.5 284.3 575.6 283.6Z" fill="#ea382c" stroke="#ea382c" stroke-width="0.2"/>
<path d="M604.5 331.2L604.5 331.3 604.5 331.4 604.4 331.5 604.4 331.6 604.3 331.7 604.3 331.8 604.2 331.9 604.1 332 604 332.1 604 332.2 603.8 332.3 603.7 332.4 603.6 332.5 603.5 332.5 603.3 332.6 603.2 332.7 603.1 332.7 602.9 332.8 602.7 332.8 602.6 332.9 602.4 332.9 602.2 332.9 602.1 332.9 601.9 333 601.7 333 601.6 333 601.4 333 601.2 332.9 601 332.9 600.9 332.9 600.7 332.9 600.5 332.8 600.4 332.8 600.2 332.7 600.1 332.7 599.9 332.6 599.8 332.5 599.7 332.5 599.5 332.4 599.4 332.3 599.3 332.2 599.2 332.1 599.1 332 599 331.9 598.9 331.8 598.9 331.7 598.8 331.6 598.8 331.5 598.8 331.4 598.7 331.3 598.7 331.2 598.7 331.1 598.7 331 598.7 330.9 598.8 330.7 598.8 330.6 598.9 330.5 598.9 330.4 599 330.3 599.1 330.2 599.2 330.1 599.3 330 599.4 330 599.5 329.9 599.6 329.8 599.7 329.7 599.9 329.7 600 329.6 600.2 329.5 600.3 329.5 600.5 329.4 600.6 329.4 600.8 329.4 601 329.4 601.1 329.3 601.3 329.3 601.5 329.3 601.7 329.3 601.8 329.3 602 329.3 602.2 329.4 602.3 329.4 602.5 329.4 602.7 329.5 602.8 329.5 603 329.6 603.1 329.6 603.3 329.7 603.4 329.7 603.6 329.8 603.7 329.9 603.8 330 603.9 330.1 604 330.2 604.1 330.3 604.2 330.3 604.3 330.4 604.3 330.6 604.4 330.7 604.4 330.8 604.5 330.9 604.5 331 604.5 331.1ZM607.4 331.2L607.4 331.5 607.3 331.7 607.3 331.9 607.2 332.1 607.1 332.3 607 332.5 606.8 332.7 606.7 332.9 606.5 333.1 606.3 333.3 606.1 333.5 605.9 333.6 605.6 333.8 605.4 333.9 605.1 334.1 604.8 334.2 604.5 334.3 604.2 334.4 603.9 334.5 603.6 334.6 603.2 334.7 602.9 334.7 602.5 334.8 602.2 334.8 601.9 334.8 601.5 334.8 601.2 334.8 600.8 334.7 600.5 334.7 600.1 334.7 599.8 334.6 599.5 334.5 599.1 334.4 598.8 334.3 598.5 334.2 598.2 334.1 598 333.9 597.7 333.8 597.4 333.6 597.2 333.5 597 333.3 596.8 333.1 596.6 332.9 596.4 332.7 596.3 332.5 596.2 332.3 596.1 332.1 596 331.9 595.9 331.7 595.9 331.4 595.8 331.2 595.8 331 595.8 330.8 595.9 330.6 595.9 330.3 596 330.1 596.1 329.9 596.2 329.7 596.4 329.5 596.5 329.3 596.7 329.1 596.9 329 597.1 328.8 597.4 328.6 597.6 328.5 597.9 328.3 598.1 328.2 598.4 328.1 598.7 327.9 599 327.8 599.3 327.8 599.7 327.7 600 327.6 600.3 327.6 600.7 327.5 601 327.5 601.4 327.5 601.7 327.5 602.1 327.5 602.4 327.5 602.7 327.6 603.1 327.6 603.4 327.7 603.7 327.8 604.1 327.9 604.4 328 604.7 328.1 605 328.2 605.2 328.3 605.5 328.5 605.8 328.6 606 328.8 606.2 329 606.4 329.2 606.6 329.3 606.8 329.5 606.9 329.7 607 329.9 607.1 330.1 607.2 330.4 607.3 330.6 607.3 330.8 607.4 331ZM610.3 331.2L610.2 331.6 610.2 331.9 610.1 332.2 610 332.6 609.8 332.9 609.7 333.2 609.4 333.5 609.2 333.8 608.9 334.1 608.6 334.4 608.3 334.6 608 334.9 607.6 335.1 607.2 335.3 606.8 335.5 606.4 335.7 606 335.9 605.5 336.1 605 336.2 604.5 336.3 604 336.4 603.5 336.5 603 336.6 602.5 336.6 602 336.6 601.5 336.6 600.9 336.6 600.4 336.6 599.9 336.5 599.4 336.4 598.9 336.3 598.4 336.2 597.9 336.1 597.4 335.9 597 335.7 596.6 335.5 596.1 335.3 595.7 335.1 595.4 334.9 595 334.6 594.7 334.4 594.4 334.1 594.1 333.8 593.9 333.5 593.6 333.2 593.4 332.9 593.3 332.6 593.2 332.3 593.1 331.9 593 331.6 592.9 331.3 592.9 330.9 593 330.6 593 330.3 593.1 330 593.2 329.6 593.4 329.3 593.6 329 593.8 328.7 594 328.4 594.3 328.1 594.6 327.9 594.9 327.6 595.2 327.4 595.6 327.1 596 326.9 596.4 326.7 596.8 326.5 597.3 326.4 597.7 326.2 598.2 326.1 598.7 326 599.2 325.9 599.7 325.8 600.2 325.7 600.7 325.7 601.2 325.7 601.8 325.7 602.3 325.7 602.8 325.7 603.3 325.8 603.8 325.9 604.3 326 604.8 326.1 605.3 326.2 605.8 326.4 606.2 326.5 606.6 326.7 607.1 326.9 607.5 327.1 607.8 327.4 608.2 327.6 608.5 327.9 608.8 328.1 609.1 328.4 609.3 328.7 609.6 329 609.7 329.3 609.9 329.6 610 329.9 610.1 330.2 610.2 330.6 610.3 330.9ZM613.1 331.2L613.1 331.7 613 332.1 612.9 332.5 612.8 333 612.6 333.4 612.3 333.8 612.1 334.2 611.7 334.6 611.4 335 611 335.4 610.6 335.8 610.1 336.1 609.6 336.4 609.1 336.7 608.6 337 608 337.3 607.4 337.5 606.8 337.7 606.2 337.9 605.5 338.1 604.9 338.2 604.2 338.3 603.5 338.4 602.8 338.4 602.1 338.4 601.4 338.4 600.7 338.4 600 338.4 599.3 338.3 598.6 338.2 598 338 597.3 337.9 596.7 337.7 596 337.5 595.4 337.3 594.9 337 594.3 336.7 593.8 336.4 593.3 336.1 592.8 335.8 592.4 335.4 592 335.1 591.6 334.7 591.3 334.3 591 333.9 590.7 333.5 590.5 333.1 590.3 332.6 590.2 332.2 590.1 331.7 590.1 331.3 590.1 330.9 590.1 330.4 590.2 330 590.3 329.5 590.4 329.1 590.6 328.7 590.9 328.3 591.2 327.9 591.5 327.5 591.8 327.1 592.2 326.8 592.6 326.4 593.1 326.1 593.6 325.8 594.1 325.5 594.7 325.2 595.2 325 595.8 324.8 596.4 324.6 597.1 324.4 597.7 324.2 598.4 324.1 599 324 599.7 323.9 600.4 323.9 601.1 323.9 601.8 323.9 602.5 323.9 603.2 324 603.9 324 604.6 324.1 605.2 324.3 605.9 324.4 606.5 324.6 607.1 324.8 607.7 325 608.3 325.2 608.9 325.5 609.4 325.8 609.9 326.1 610.4 326.4 610.8 326.7 611.2 327.1 611.6 327.4 611.9 327.8 612.2 328.2 612.5 328.6 612.7 329 612.9 329.5 613 329.9 613.1 330.3 613.1 330.8ZM616 331.2L616 331.7 615.9 332.3 615.8 332.9 615.6 333.4 615.3 333.9 615 334.5 614.7 335 614.3 335.5 613.8 336 613.4 336.4 612.8 336.9 612.3 337.3 611.6 337.7 611 338.1 610.3 338.4 609.6 338.8 608.9 339.1 608.1 339.3 607.3 339.6 606.5 339.8 605.7 339.9 604.8 340.1 604 340.2 603.1 340.2 602.2 340.3 601.4 340.3 600.5 340.2 599.6 340.2 598.7 340.1 597.9 339.9 597.1 339.8 596.2 339.6 595.4 339.4 594.7 339.1 593.9 338.8 593.2 338.5 592.5 338.1 591.8 337.8 591.2 337.4 590.6 337 590.1 336.5 589.6 336.1 589.1 335.6 588.7 335.1 588.3 334.6 588 334 587.7 333.5 587.5 333 587.4 332.4 587.2 331.9 587.2 331.3 587.2 330.7 587.2 330.2 587.3 329.6 587.5 329.1 587.7 328.6 587.9 328.1 588.2 327.5 588.6 327.1 589 326.6 589.4 326.1 589.9 325.7 590.4 325.2 591 324.8 591.6 324.4 592.2 324.1 592.9 323.8 593.6 323.4 594.4 323.2 595.1 322.9 595.9 322.7 596.7 322.5 597.6 322.3 598.4 322.2 599.3 322.1 600.1 322.1 601 322 601.9 322.1 602.7 322.1 603.6 322.2 604.4 322.3 605.3 322.4 606.1 322.5 606.9 322.7 607.7 322.9 608.5 323.2 609.3 323.4 610 323.7 610.7 324.1 611.3 324.4 612 324.8 612.6 325.2 613.1 325.6 613.6 326 614.1 326.5 614.5 327 614.9 327.4 615.2 328 615.4 328.5 615.7 329 615.8 329.5 616 330.1 616 330.6ZM618.9 331.1L618.9 331.8 618.8 332.5 618.6 333.1 618.4 333.8 618.1 334.4 617.7 335.1 617.3 335.7 616.8 336.3 616.3 336.9 615.7 337.5 615.1 338 614.4 338.5 613.7 339 612.9 339.5 612.1 339.9 611.2 340.3 610.3 340.7 609.4 341 608.5 341.3 607.5 341.5 606.5 341.7 605.5 341.9 604.4 342 603.4 342.1 602.3 342.1 601.3 342.1 600.3 342.1 599.2 342 598.2 341.9 597.2 341.7 596.1 341.5 595.2 341.3 594.2 341 593.3 340.7 592.4 340.3 591.5 340 590.7 339.6 589.9 339.1 589.1 338.6 588.4 338.1 587.8 337.6 587.2 337 586.6 336.4 586.1 335.8 585.7 335.2 585.3 334.6 585 333.9 584.7 333.2 584.5 332.6 584.4 331.9 584.3 331.2 584.3 330.6 584.3 329.9 584.5 329.3 584.6 328.6 584.9 328 585.2 327.4 585.5 326.7 586 326.2 586.4 325.6 587 325.1 587.5 324.5 588.2 324 588.9 323.5 589.6 323.1 590.4 322.7 591.2 322.3 592 321.9 592.9 321.6 593.8 321.3 594.8 321 595.8 320.8 596.8 320.6 597.8 320.4 598.8 320.3 599.8 320.3 600.9 320.2 601.9 320.2 602.9 320.3 604 320.4 605 320.5 606 320.6 607 320.8 608 321 609 321.3 609.9 321.6 610.8 321.9 611.7 322.2 612.5 322.6 613.3 323 614 323.5 614.7 323.9 615.4 324.4 616 324.9 616.6 325.5 617.1 326.1 617.5 326.6 617.9 327.3 618.2 327.9 618.5 328.5 618.7 329.2 618.8 329.8 618.9 330.5ZM621.8 331L621.8 331.8 621.6 332.6 621.4 333.4 621.2 334.1 620.8 334.9 620.4 335.7 619.9 336.4 619.4 337.1 618.7 337.8 618.1 338.5 617.3 339.1 616.5 339.7 615.7 340.3 614.8 340.8 613.8 341.4 612.8 341.8 611.8 342.2 610.7 342.6 609.6 342.9 608.5 343.2 607.3 343.5 606.1 343.7 604.9 343.8 603.7 343.9 602.5 344 601.2 343.9 600 343.9 598.8 343.8 597.6 343.7 596.4 343.5 595.2 343.3 594.1 343 593 342.7 591.9 342.3 590.8 341.9 589.8 341.4 588.8 341 587.9 340.4 587 339.8 586.2 339.2 585.4 338.6 584.7 337.9 584.1 337.2 583.5 336.5 583 335.8 582.6 335 582.2 334.3 581.9 333.5 581.7 332.7 581.5 331.9 581.4 331.1 581.4 330.3 581.5 329.6 581.6 328.8 581.8 328.1 582.1 327.3 582.4 326.6 582.9 325.9 583.3 325.2 583.9 324.6 584.5 323.9 585.2 323.3 585.9 322.8 586.7 322.2 587.6 321.7 588.5 321.2 589.5 320.8 590.4 320.4 591.5 320 592.6 319.6 593.7 319.3 594.8 319.1 595.9 318.8 597.1 318.7 598.3 318.5 599.5 318.5 600.7 318.4 602 318.4 603.2 318.5 604.4 318.6 605.6 318.7 606.8 318.9 607.9 319.1 609.1 319.3 610.2 319.6 611.3 319.9 612.3 320.3 613.3 320.7 614.3 321.1 615.2 321.6 616.1 322.1 616.9 322.7 617.7 323.2 618.4 323.9 619 324.5 619.6 325.1 620.1 325.8 620.6 326.5 621 327.2 621.3 328 621.5 328.7 621.7 329.5 621.8 330.3ZM624.7 330.9L624.6 331.8 624.5 332.7 624.3 333.6 623.9 334.5 623.6 335.3 623.1 336.2 622.5 337.1 621.9 337.9 621.2 338.7 620.4 339.5 619.6 340.2 618.7 340.9 617.7 341.6 616.7 342.2 615.6 342.8 614.4 343.3 613.2 343.8 612 344.3 610.7 344.6 609.4 345 608.1 345.2 606.8 345.5 605.4 345.6 604 345.7 602.6 345.8 601.2 345.8 599.8 345.7 598.4 345.6 597 345.5 595.7 345.3 594.3 345 593 344.7 591.7 344.3 590.5 343.9 589.3 343.4 588.1 342.9 587 342.3 585.9 341.7 584.9 341 584 340.3 583.1 339.6 582.3 338.8 581.6 338 580.9 337.2 580.3 336.3 579.8 335.5 579.4 334.6 579.1 333.7 578.8 332.8 578.6 331.9 578.5 331 578.5 330.1 578.6 329.2 578.7 328.3 579 327.5 579.3 326.6 579.7 325.8 580.2 325 580.7 324.2 581.4 323.5 582.1 322.8 582.9 322.1 583.7 321.5 584.6 320.9 585.6 320.3 586.6 319.8 587.7 319.3 588.9 318.8 590 318.4 591.3 318 592.5 317.6 593.8 317.3 595.1 317.1 596.5 316.9 597.9 316.7 599.2 316.7 600.6 316.6 602 316.6 603.4 316.7 604.8 316.8 606.1 316.9 607.5 317.1 608.8 317.4 610.1 317.6 611.4 317.9 612.7 318.3 613.9 318.7 615 319.2 616.1 319.7 617.2 320.2 618.2 320.8 619.1 321.4 620 322 620.8 322.7 621.5 323.4 622.2 324.2 622.8 324.9 623.3 325.7 623.7 326.6 624.1 327.4 624.4 328.3 624.6 329.1 624.7 330ZM627.6 330.7L627.5 331.7 627.3 332.7 627.1 333.8 626.7 334.8 626.3 335.8 625.8 336.7 625.1 337.7 624.4 338.6 623.6 339.5 622.8 340.4 621.8 341.3 620.8 342.1 619.7 342.9 618.5 343.6 617.3 344.2 616 344.9 614.7 345.4 613.3 345.9 611.9 346.3 610.4 346.7 608.9 347 607.4 347.3 605.9 347.4 604.3 347.6 602.7 347.6 601.1 347.6 599.6 347.6 598 347.4 596.5 347.3 594.9 347 593.4 346.7 591.9 346.4 590.5 346 589.1 345.5 587.7 345 586.4 344.4 585.2 343.7 584 343 582.9 342.2 581.8 341.4 580.8 340.6 579.9 339.7 579.1 338.8 578.3 337.8 577.7 336.9 577.1 335.9 576.6 334.9 576.2 333.9 575.9 332.9 575.7 331.8 575.6 330.8 575.6 329.8 575.7 328.8 575.9 327.8 576.2 326.9 576.5 325.9 577 325 577.5 324.1 578.1 323.2 578.9 322.4 579.7 321.6 580.5 320.9 581.5 320.1 582.5 319.5 583.6 318.8 584.8 318.3 586 317.7 587.3 317.2 588.6 316.7 590 316.3 591.4 315.9 592.9 315.6 594.3 315.3 595.9 315.1 597.4 315 598.9 314.8 600.5 314.8 602.1 314.8 603.6 314.9 605.2 315 606.7 315.2 608.2 315.4 609.7 315.6 611.2 315.9 612.6 316.3 614 316.7 615.4 317.1 616.7 317.6 617.9 318.2 619.1 318.8 620.2 319.4 621.3 320.1 622.3 320.8 623.2 321.6 624 322.4 624.8 323.2 625.4 324.1 626 324.9 626.5 325.9 626.9 326.8 627.2 327.8 627.4 328.7 627.6 329.7ZM630.5 330.5L630.4 331.7 630.2 332.8 629.9 333.9 629.5 335 629 336.1 628.5 337.2 627.8 338.3 627 339.4 626.1 340.4 625.1 341.4 624.1 342.3 622.9 343.2 621.7 344.1 620.4 344.9 619.1 345.7 617.6 346.4 616.2 347 614.6 347.5 613 348 611.4 348.4 609.7 348.8 608.1 349.1 606.3 349.3 604.6 349.4 602.8 349.5 601.1 349.5 599.3 349.4 597.6 349.3 595.9 349.1 594.2 348.8 592.5 348.5 590.8 348.1 589.2 347.6 587.7 347.1 586.2 346.5 584.7 345.8 583.3 345.1 582 344.2 580.8 343.4 579.6 342.5 578.5 341.5 577.5 340.6 576.6 339.5 575.7 338.5 575 337.4 574.4 336.3 573.9 335.1 573.4 334 573.1 332.9 572.9 331.7 572.7 330.6 572.7 329.5 572.8 328.4 573 327.3 573.3 326.2 573.7 325.2 574.2 324.1 574.8 323.2 575.5 322.2 576.3 321.3 577.2 320.4 578.2 319.6 579.3 318.8 580.4 318.1 581.6 317.4 582.9 316.7 584.3 316.2 585.7 315.6 587.2 315.1 588.7 314.7 590.3 314.2 591.9 313.9 593.5 313.6 595.2 313.3 596.9 313.2 598.6 313 600.4 313 602.1 313 603.8 313.1 605.6 313.2 607.3 313.4 609 313.6 610.6 313.9 612.3 314.2 613.9 314.6 615.4 315 616.9 315.5 618.3 316.1 619.7 316.7 621 317.3 622.3 318 623.5 318.8 624.6 319.6 625.6 320.4 626.5 321.3 627.3 322.2 628.1 323.1 628.7 324.1 629.3 325.1 629.7 326.2 630.1 327.2 630.3 328.3 630.4 329.4ZM633.4 330.3L633.3 331.5 633.1 332.7 632.8 334 632.3 335.2 631.8 336.5 631.1 337.7 630.4 338.9 629.5 340.1 628.6 341.2 627.5 342.3 626.3 343.4 625.1 344.4 623.7 345.3 622.3 346.2 620.8 347.1 619.3 347.9 617.6 348.6 615.9 349.2 614.2 349.7 612.4 350.2 610.6 350.6 608.7 350.9 606.8 351.1 604.9 351.2 603 351.3 601 351.3 599.1 351.2 597.2 351.1 595.3 350.9 593.4 350.6 591.6 350.2 589.8 349.8 588 349.3 586.3 348.7 584.6 348 583 347.2 581.5 346.4 580 345.5 578.7 344.6 577.4 343.5 576.2 342.5 575.1 341.4 574.1 340.2 573.2 339 572.4 337.8 571.7 336.6 571.1 335.3 570.6 334.1 570.2 332.8 570 331.5 569.9 330.3 569.8 329.1 569.9 327.8 570.2 326.6 570.5 325.5 570.9 324.3 571.5 323.2 572.2 322.2 572.9 321.1 573.8 320.1 574.8 319.2 575.9 318.3 577 317.4 578.3 316.6 579.6 315.9 581 315.2 582.5 314.6 584.1 314 585.7 313.5 587.4 313 589.1 312.5 590.9 312.2 592.7 311.8 594.6 311.6 596.5 311.4 598.3 311.2 600.2 311.2 602.2 311.2 604.1 311.3 606 311.4 607.8 311.6 609.7 311.8 611.5 312.1 613.3 312.5 615.1 312.9 616.8 313.4 618.4 313.9 620 314.5 621.5 315.2 623 315.9 624.4 316.6 625.6 317.4 626.9 318.3 628 319.2 629 320.2 629.9 321.2 630.7 322.2 631.4 323.3 632 324.4 632.5 325.5 632.9 326.6 633.2 327.8 633.3 329ZM636.2 329.9L636.1 331.2 635.9 332.6 635.6 334 635.1 335.4 634.5 336.7 633.8 338.1 633 339.4 632.1 340.7 631 342 629.9 343.2 628.6 344.4 627.2 345.5 625.8 346.6 624.2 347.6 622.6 348.5 620.9 349.3 619.1 350.1 617.2 350.8 615.3 351.4 613.4 351.9 611.4 352.3 609.3 352.7 607.3 352.9 605.2 353.1 603.1 353.2 601 353.2 598.9 353.1 596.8 352.9 594.7 352.7 592.7 352.4 590.7 352 588.7 351.5 586.8 350.9 584.9 350.3 583.1 349.5 581.3 348.6 579.7 347.7 578.1 346.7 576.6 345.7 575.2 344.6 573.9 343.4 572.7 342.2 571.6 340.9 570.6 339.6 569.7 338.2 568.9 336.8 568.3 335.5 567.8 334.1 567.4 332.7 567.1 331.3 567 329.9 567 328.6 567.1 327.2 567.3 325.9 567.7 324.7 568.2 323.4 568.8 322.3 569.5 321.1 570.3 320 571.3 318.9 572.4 317.9 573.5 317 574.8 316 576.2 315.2 577.6 314.4 579.2 313.6 580.8 313 582.5 312.3 584.3 311.8 586.1 311.3 588 310.8 589.9 310.4 591.9 310.1 593.9 309.8 596 309.6 598 309.4 600.1 309.4 602.2 309.4 604.3 309.5 606.4 309.7 608.4 309.8 610.4 310.1 612.4 310.4 614.4 310.8 616.3 311.2 618.1 311.7 619.9 312.3 621.7 313 623.3 313.6 624.9 314.4 626.4 315.2 627.8 316.1 629.1 317 630.4 318 631.5 319 632.5 320.1 633.4 321.2 634.1 322.3 634.8 323.5 635.3 324.7 635.7 326 636 327.3 636.2 328.6ZM639.1 329.5L639 330.9 638.8 332.4 638.4 333.9 637.9 335.4 637.3 336.9 636.5 338.4 635.6 339.8 634.6 341.3 633.5 342.7 632.2 344.1 630.8 345.4 629.4 346.6 627.8 347.8 626.1 348.9 624.3 349.9 622.5 350.8 620.6 351.7 618.6 352.4 616.5 353.1 614.4 353.7 612.2 354.1 610 354.5 607.8 354.8 605.5 354.9 603.2 355 600.9 355 598.7 354.9 596.4 354.8 594.1 354.5 591.9 354.2 589.7 353.7 587.6 353.2 585.5 352.6 583.5 351.8 581.5 351 579.6 350.1 577.8 349.1 576.1 348 574.5 346.8 573 345.6 571.5 344.3 570.2 342.9 569 341.5 568 340 567 338.5 566.2 337 565.5 335.5 565 334 564.5 332.4 564.2 330.9 564.1 329.4 564.1 328 564.2 326.5 564.5 325.1 564.8 323.8 565.4 322.4 566 321.2 566.8 320 567.7 318.8 568.8 317.7 569.9 316.6 571.2 315.6 572.6 314.6 574.1 313.7 575.6 312.8 577.3 312.1 579.1 311.3 580.9 310.7 582.9 310.1 584.8 309.6 586.9 309.1 589 308.7 591.1 308.3 593.3 308 595.5 307.8 597.8 307.7 600 307.6 602.3 307.6 604.5 307.7 606.7 307.9 609 308.1 611.2 308.3 613.3 308.6 615.4 309.1 617.5 309.5 619.5 310.1 621.5 310.7 623.3 311.4 625.1 312.1 626.9 312.9 628.5 313.8 630 314.7 631.4 315.7 632.7 316.7 633.9 317.8 635 318.9 636 320.1 636.8 321.3 637.6 322.6 638.1 323.9 638.6 325.3 638.9 326.6 639.1 328ZM642 329L641.9 330.6 641.7 332.2 641.3 333.8 640.7 335.4 640 337 639.2 338.6 638.3 340.2 637.2 341.8 635.9 343.3 634.6 344.9 633.1 346.3 631.5 347.7 629.8 349 628 350.2 626.1 351.3 624.1 352.3 622 353.2 619.9 354.1 617.6 354.8 615.4 355.4 613 355.9 610.6 356.3 608.2 356.6 605.8 356.8 603.3 356.9 600.9 356.9 598.4 356.8 596 356.6 593.6 356.3 591.2 356 588.8 355.5 586.5 354.9 584.3 354.2 582.1 353.4 580 352.5 577.9 351.5 576 350.4 574.1 349.2 572.4 347.9 570.7 346.5 569.2 345.1 567.8 343.6 566.5 342 565.4 340.4 564.4 338.8 563.5 337.1 562.7 335.5 562.1 333.8 561.7 332.1 561.4 330.5 561.2 328.9 561.2 327.3 561.3 325.7 561.6 324.2 562 322.8 562.6 321.4 563.3 320 564.2 318.7 565.1 317.5 566.3 316.3 567.5 315.2 568.9 314.2 570.4 313.1 572 312.2 573.7 311.3 575.5 310.5 577.4 309.7 579.4 309 581.4 308.4 583.6 307.8 585.8 307.4 588 306.9 590.3 306.6 592.7 306.2 595.1 306 597.5 305.9 599.9 305.8 602.3 305.8 604.7 305.9 607.1 306.1 609.5 306.3 611.9 306.6 614.2 306.9 616.5 307.3 618.7 307.8 620.9 308.4 623 309.1 625 309.8 626.9 310.5 628.8 311.4 630.5 312.3 632.2 313.3 633.7 314.3 635.1 315.4 636.4 316.6 637.6 317.8 638.6 319 639.5 320.3 640.3 321.7 640.9 323 641.4 324.5 641.8 326 642 327.5ZM645.2 328.5L645.1 330.2 644.8 331.9 644.4 333.6 643.8 335.4 643.1 337.1 642.2 338.9 641.2 340.6 640 342.3 638.7 344 637.2 345.6 635.6 347.2 633.9 348.8 632 350.2 630.1 351.6 628 352.8 625.9 353.9 623.6 354.9 621.3 355.9 618.9 356.7 616.5 357.3 613.9 357.9 611.4 358.3 608.8 358.6 606.1 358.8 603.5 358.9 600.8 358.9 598.2 358.8 595.5 358.6 592.9 358.3 590.3 358 587.8 357.4 585.3 356.8 582.9 356 580.5 355.1 578.2 354.1 576.1 353 574 351.8 572 350.5 570.1 349.1 568.3 347.5 566.7 345.9 565.1 344.3 563.7 342.5 562.5 340.8 561.4 339 560.5 337.2 559.7 335.4 559 333.5 558.5 331.8 558.2 330 558 328.2 558 326.5 558.1 324.9 558.4 323.2 558.9 321.7 559.5 320.1 560.3 318.7 561.2 317.3 562.3 316 563.5 314.8 564.8 313.6 566.3 312.5 567.9 311.4 569.6 310.5 571.5 309.5 573.4 308.7 575.5 307.9 577.6 307.1 579.8 306.5 582.1 305.9 584.5 305.4 587 305 589.4 304.6 592 304.3 594.5 304 597.1 303.9 599.7 303.8 602.4 303.8 605 304 607.6 304.1 610.1 304.3 612.7 304.6 615.2 305 617.7 305.4 620.1 306 622.4 306.6 624.7 307.2 626.8 308 628.9 308.8 630.9 309.7 632.8 310.7 634.6 311.7 636.2 312.8 637.8 313.9 639.2 315.2 640.4 316.4 641.5 317.7 642.5 319.1 643.4 320.6 644 322 644.6 323.6 644.9 325.2 645.1 326.8ZM648.5 327.9L648.4 329.7 648.2 331.5 647.8 333.4 647.3 335.3 646.6 337.2 645.7 339.1 644.7 341 643.5 342.9 642.1 344.8 640.6 346.6 638.8 348.4 637 350.1 635 351.8 632.8 353.3 630.6 354.7 628.2 356 625.7 357.1 623.1 358.1 620.5 358.9 617.7 359.6 615 360.1 612.2 360.5 609.3 360.8 606.5 361 603.6 361 600.8 361 597.9 360.9 595.1 360.8 592.2 360.5 589.4 360.2 586.6 359.6 583.9 359 581.2 358.2 578.6 357.3 576.1 356.2 573.6 355 571.3 353.6 569.1 352.1 567 350.5 565.1 348.8 563.3 347 561.7 345 560.2 343.1 559 341.1 557.8 339.2 556.9 337.2 556.1 335.2 555.5 333.3 555.1 331.3 554.8 329.4 554.7 327.6 554.7 325.7 554.8 323.9 555.1 322.2 555.5 320.4 556.1 318.8 556.8 317.2 557.7 315.6 558.8 314.1 560 312.8 561.4 311.5 563 310.2 564.7 309.1 566.6 308.1 568.6 307.2 570.7 306.3 573 305.5 575.4 304.7 577.8 304.1 580.4 303.5 583 303.1 585.7 302.7 588.4 302.4 591.2 302.1 594 301.9 596.8 301.8 599.6 301.8 602.4 301.8 605.2 301.9 608 302 610.8 302.2 613.6 302.4 616.3 302.8 619 303.2 621.7 303.7 624.3 304.2 626.8 304.9 629.2 305.7 631.5 306.5 633.7 307.5 635.8 308.5 637.7 309.6 639.5 310.7 641.1 312 642.6 313.3 643.9 314.7 645.1 316.1 646 317.7 646.8 319.3 647.5 320.9 648 322.6 648.3 324.3 648.4 326.1ZM651.9 327.3L651.8 329.2 651.7 331.2 651.4 333.2 651 335.2 650.4 337.2 649.6 339.3 648.6 341.4 647.5 343.5 646.1 345.6 644.5 347.7 642.7 349.7 640.7 351.7 638.5 353.5 636.1 355.3 633.6 356.9 630.9 358.4 628.1 359.6 625.2 360.6 622.2 361.4 619.2 362.1 616.1 362.6 613 362.9 609.9 363.1 606.9 363.2 603.8 363.2 600.7 363.2 597.7 363.1 594.6 363 591.5 362.8 588.4 362.5 585.4 362.1 582.3 361.4 579.3 360.7 576.4 359.7 573.5 358.6 570.8 357.2 568.2 355.7 565.7 354 563.4 352.1 561.2 350.1 559.3 348 557.6 345.9 556.1 343.7 554.9 341.5 553.8 339.3 553 337.2 552.3 335.1 551.8 333 551.5 330.9 551.3 328.9 551.3 326.9 551.3 325 551.4 323 551.6 321.1 552 319.2 552.4 317.3 553.1 315.5 553.9 313.7 554.9 312.1 556.1 310.4 557.5 308.9 559.1 307.5 560.9 306.3 562.9 305.2 565.1 304.2 567.5 303.3 570.1 302.5 572.7 301.8 575.5 301.2 578.4 300.8 581.3 300.4 584.3 300.1 587.3 299.9 590.4 299.8 593.4 299.7 596.4 299.6 599.5 299.6 602.5 299.7 605.5 299.8 608.5 299.9 611.5 300 614.5 300.1 617.6 300.3 620.6 300.7 623.5 301.1 626.4 301.6 629.2 302.2 632 302.9 634.6 303.8 637 304.7 639.4 305.8 641.5 306.9 643.4 308.2 645.1 309.6 646.6 311.1 647.9 312.7 649 314.3 649.9 316 650.6 317.8 651.2 319.7 651.5 321.5 651.8 323.4 651.9 325.4ZM655.3 326.7L655.3 328.8 655.2 330.9 655 333 654.7 335.1 654.2 337.3 653.6 339.6 652.7 341.8 651.6 344.1 650.3 346.4 648.7 348.7 646.8 351 644.7 353.2 642.3 355.3 639.6 357.3 636.8 359.1 633.7 360.8 630.6 362.1 627.3 363.2 624 364 620.6 364.7 617.3 365.1 613.9 365.4 610.6 365.5 607.2 365.5 603.9 365.5 600.7 365.4 597.4 365.4 594.1 365.3 590.8 365.2 587.4 364.9 584.1 364.5 580.7 363.9 577.4 363.2 574.1 362.2 570.9 361 567.8 359.6 564.8 357.8 562 355.9 559.5 353.7 557.2 351.4 555.1 349.1 553.4 346.7 551.9 344.3 550.6 341.9 549.7 339.6 548.9 337.2 548.4 335 548 332.7 547.8 330.5 547.8 328.4 547.8 326.3 547.8 324.2 547.9 322.1 548.1 320 548.4 318 548.7 315.9 549.3 313.9 550 311.9 550.9 309.9 552 308.1 553.4 306.3 555 304.7 556.9 303.3 559.1 302 561.5 300.9 564.1 300 567 299.3 570 298.8 573.1 298.3 576.3 297.9 579.6 297.6 582.9 297.5 586.2 297.4 589.5 297.4 592.8 297.4 596.1 297.4 599.3 297.5 602.5 297.6 605.8 297.6 609 297.7 612.2 297.7 615.5 297.7 618.8 297.9 622.1 298.1 625.4 298.4 628.6 298.8 631.8 299.3 634.9 300 637.8 300.8 640.6 301.8 643.1 302.8 645.5 304.1 647.5 305.5 649.3 307.1 650.8 308.8 652.1 310.6 653.1 312.5 653.9 314.4 654.5 316.5 654.9 318.5 655.2 320.5 655.3 322.6 655.4 324.7ZM658.9 326.3L658.9 328.5 658.8 330.7 658.7 332.9 658.5 335.2 658.1 337.5 657.6 339.9 656.9 342.4 655.9 344.8 654.7 347.3 653.1 349.8 651.2 352.3 648.9 354.8 646.3 357.1 643.4 359.4 640.2 361.4 636.8 363.2 633.2 364.7 629.5 365.9 625.8 366.7 622.1 367.3 618.4 367.6 614.8 367.9 611.2 367.9 607.6 367.9 604.1 367.8 600.6 367.8 597.1 367.7 593.6 367.7 590 367.6 586.4 367.3 582.8 367 579.1 366.5 575.4 365.8 571.7 364.8 568.1 363.5 564.6 361.9 561.3 359.9 558.2 357.7 555.3 355.3 552.8 352.8 550.7 350.3 548.9 347.6 547.4 345 546.3 342.4 545.4 339.8 544.8 337.3 544.4 334.9 544.2 332.5 544.1 330.2 544.1 327.9 544.2 325.6 544.2 323.4 544.3 321.2 544.5 319 544.7 316.7 545 314.5 545.4 312.3 546 310.1 546.8 307.9 547.8 305.7 549.1 303.7 550.7 301.8 552.7 300.1 555 298.6 557.6 297.4 560.5 296.5 563.7 295.8 567.1 295.4 570.6 295.1 574.2 294.9 577.8 294.8 581.5 294.8 585.1 294.9 588.7 295 592.2 295.1 595.7 295.1 599.2 295.2 602.6 295.3 606 295.4 609.5 295.4 613 295.4 616.5 295.3 620.1 295.4 623.7 295.5 627.3 295.6 630.9 295.9 634.5 296.3 637.9 296.9 641.2 297.6 644.3 298.5 647.2 299.6 649.7 301 651.9 302.6 653.7 304.4 655.2 306.4 656.4 308.5 657.3 310.7 658 312.9 658.4 315.2 658.7 317.4 658.9 319.6 658.9 321.9 659 324.1ZM662.6 325.9L662.6 328.2 662.6 330.6 662.5 332.9 662.3 335.4 662.1 337.9 661.7 340.4 661.1 343 660.3 345.7 659.2 348.4 657.7 351.1 655.8 353.9 653.4 356.5 650.6 359.1 647.3 361.5 643.8 363.7 639.9 365.6 635.9 367.3 631.8 368.6 627.7 369.4 623.6 369.9 619.6 370.2 615.7 370.4 611.8 370.4 608 370.3 604.3 370.2 600.5 370.1 596.8 370.1 593 370.1 589.2 370 585.4 369.8 581.4 369.5 577.4 369.1 573.4 368.4 569.3 367.4 565.2 366 561.3 364.2 557.5 362.1 554 359.7 550.9 357.1 548.2 354.4 545.9 351.5 544.1 348.6 542.8 345.8 541.8 343 541.1 340.2 540.7 337.5 540.4 334.9 540.3 332.4 540.3 329.9 540.4 327.5 540.5 325.1 540.6 322.7 540.7 320.4 540.8 318 540.9 315.6 541.2 313.2 541.5 310.7 541.9 308.3 542.6 305.8 543.5 303.4 544.7 301 546.2 298.8 548.2 296.8 550.6 295 553.4 293.6 556.6 292.6 560.2 292 564 291.7 568 291.7 572 291.8 576 291.9 580 292 583.9 292.3 587.8 292.5 591.6 292.7 595.3 292.8 599 292.9 602.7 293.1 606.3 293.1 610 293.1 613.7 293 617.5 292.9 621.4 292.8 625.3 292.8 629.3 292.8 633.3 292.9 637.2 293.2 641.1 293.5 644.9 294.1 648.4 295 651.5 296.2 654.2 297.8 656.5 299.7 658.3 301.8 659.7 304.2 660.8 306.6 661.5 309.1 662.1 311.5 662.4 314 662.6 316.4 662.6 318.8 662.7 321.2 662.7 323.5ZM666.4 325.6L666.4 328.1 666.4 330.6 666.3 333.1 666.3 335.7 666.1 338.3 665.9 341 665.5 343.8 664.8 346.7 663.9 349.7 662.5 352.6 660.7 355.6 658.2 358.5 655.2 361.2 651.6 363.8 647.6 366.1 643.2 368.2 638.7 369.8 634.1 371.2 629.6 372.1 625.2 372.5 620.8 372.8 616.6 372.9 612.5 372.9 608.4 372.8 604.4 372.7 600.5 372.6 596.5 372.6 592.5 372.5 588.4 372.5 584.3 372.3 580.1 372 575.8 371.7 571.3 371 566.8 370 562.3 368.5 557.8 366.6 553.5 364.3 549.6 361.8 546.1 359 543.2 356 540.9 352.9 539.2 349.8 538 346.8 537.2 343.7 536.7 340.8 536.5 337.9 536.4 335.1 536.4 332.4 536.4 329.8 536.5 327.2 536.6 324.7 536.7 322.2 536.9 319.6 537 317.1 537.1 314.6 537.3 312 537.5 309.3 537.8 306.6 538.3 303.8 539.1 301.1 540.1 298.4 541.5 295.8 543.4 293.4 545.9 291.3 549 289.7 552.5 288.6 556.5 288 560.8 287.9 565.3 288.2 569.7 288.6 574.2 288.9 578.5 289.3 582.8 289.7 586.9 290 591 290.3 594.9 290.4 598.8 290.6 602.7 290.7 606.6 290.8 610.5 290.7 614.5 290.6 618.5 290.4 622.6 290.3 626.9 290.1 631.2 289.9 635.6 289.9 640.1 289.9 644.5 290 648.7 290.4 652.6 291.3 656.1 292.6 659 294.5 661.4 296.8 663.1 299.3 664.4 302 665.3 304.8 665.8 307.5 666.2 310.3 666.4 313 666.5 315.6 666.5 318.1 666.5 320.6 666.5 323.1ZM670.4 325.4L670.3 328 670.3 330.7 670.3 333.3 670.2 336.1 670.2 338.9 670 341.8 669.8 344.8 669.4 347.9 668.7 351.2 667.5 354.4 665.8 357.6 663.4 360.7 660.2 363.6 656.2 366.3 651.6 368.6 646.7 370.7 641.6 372.4 636.5 373.8 631.5 374.7 626.7 375.2 622 375.4 617.5 375.5 613.1 375.5 608.8 375.4 604.6 375.2 600.4 375.2 596.2 375.1 591.9 375.1 587.6 375 583.2 374.9 578.7 374.6 574.1 374.3 569.3 373.6 564.3 372.5 559.3 370.9 554.2 369 549.3 366.7 544.8 364 540.9 361.1 537.8 358 535.6 354.8 534 351.5 533.1 348.1 532.6 344.8 532.3 341.6 532.2 338.5 532.3 335.6 532.3 332.7 532.5 329.9 532.6 327.1 532.7 324.5 532.8 321.8 532.9 319.1 533.1 316.4 533.2 313.7 533.3 310.9 533.5 308.1 533.8 305.1 534.1 302.1 534.6 299 535.4 295.9 536.7 292.8 538.4 289.9 540.9 287.5 544.2 285.6 548.1 284.4 552.7 283.8 557.5 283.9 562.5 284.5 567.5 285.2 572.4 285.9 577.1 286.5 581.6 287 586 287.5 590.3 287.8 594.5 288 598.7 288.2 602.8 288.3 606.9 288.4 611 288.3 615.2 288.1 619.5 287.9 623.9 287.7 628.5 287.3 633.2 287 638 286.8 643 286.5 648 286.3 652.8 286.5 657.2 287.4 661.1 289 664.2 291.3 666.5 293.9 668.1 296.9 669.2 300 669.8 303.1 670.1 306.1 670.3 309.1 670.4 312 670.4 314.8 670.4 317.5 670.4 320.2 670.4 322.8ZM674.4 325.3L674.4 328.1 674.3 330.8 674.3 333.7 674.3 336.6 674.3 339.6 674.2 342.7 674.1 345.9 673.9 349.3 673.4 352.8 672.6 356.4 671.2 360 668.9 363.4 665.5 366.4 661.1 369 655.8 371.3 650.2 373.3 644.4 374.9 638.8 376.3 633.4 377.3 628.2 377.9 623.3 378.1 618.5 378.2 613.8 378.1 609.3 378 604.8 377.9 600.3 377.8 595.9 377.7 591.4 377.7 586.8 377.6 582.1 377.5 577.4 377.2 572.4 376.8 567.2 376.1 561.8 374.9 556.2 373.3 550.5 371.4 544.9 369.1 539.7 366.5 535.4 363.7 532.1 360.6 530 357.1 528.8 353.4 528.2 349.7 528 346.1 527.9 342.6 528 339.3 528.1 336.1 528.2 333.1 528.4 330.1 528.5 327.2 528.6 324.4 528.8 321.5 528.9 318.7 529 315.8 529.2 312.9 529.3 310 529.5 307 529.6 303.8 529.9 300.5 530.2 297.1 530.8 293.6 531.7 290.1 533.2 286.6 535.6 283.5 539 281.2 543.5 279.9 548.6 279.6 554.2 279.9 559.8 280.8 565.3 281.9 570.5 282.9 575.6 283.6 580.5 284.3 585.1 284.9 589.7 285.3 594.1 285.5 598.5 285.7 602.9 285.8 607.2 285.9 611.6 285.8 616 285.6 620.6 285.3 625.3 285 630.1 284.6 635.2 284.2 640.4 283.6 645.9 283 651.5 282.6 657 282.6 662.1 283.6 666.4 285.4 669.7 287.9 671.8 291 673.2 294.5 673.9 298 674.3 301.4 674.4 304.8 674.5 308 674.5 311 674.5 314 674.5 316.9 674.4 319.7 674.4 322.5ZM678.6 325.3L678.5 328.2 678.5 331.2 678.5 334.2 678.5 337.2 678.4 340.4 678.4 343.7 678.4 347.1 678.3 350.7 678.1 354.5 677.7 358.5 676.7 362.6 674.8 366.4 671.3 369.7 666.2 372.2 660.1 374.1 653.6 375.8 647.2 377.4 641.1 378.7 635.3 379.8 629.8 380.5 624.5 380.8 619.5 380.9 614.5 380.9 609.7 380.7 605 380.6 600.2 380.5 595.5 380.4 590.8 380.4 585.9 380.3 581 380.2 575.9 379.9 570.7 379.4 565.2 378.6 559.4 377.3 553.3 375.7 546.9 373.8 540.4 371.7 534.3 369.6 529.4 367 526.1 363.6 524.4 359.5 523.6 355.3 523.4 351.2 523.5 347.3 523.6 343.6 523.7 340.1 523.9 336.8 524 333.5 524.2 330.4 524.3 327.3 524.5 324.3 524.6 321.3 524.8 318.3 524.9 315.3 525 312.2 525.2 309.1 525.3 305.9 525.5 302.6 525.7 299.1 525.9 295.4 526.3 291.6 526.8 287.6 527.9 283.5 530 279.8 533.5 276.8 538.5 275.3 544.6 275.2 550.9 276 557.1 277.2 563.1 278.5 568.7 279.8 574.1 280.8 579.3 281.5 584.2 282.2 589 282.7 593.7 282.9 598.3 283.1 602.9 283.3 607.5 283.4 612.2 283.2 616.8 283 621.7 282.7 626.6 282.3 631.7 281.8 637.1 281.3 642.8 280.5 648.7 279.7 654.9 278.9 661.2 278.8 667.2 279.6 672.1 281.5 675.4 284.5 677.3 288.2 678.2 292.2 678.5 296.2 678.7 299.9 678.7 303.5 678.7 306.9 678.7 310.2 678.6 313.3 678.6 316.4 678.6 319.4 678.6 322.3ZM682.8 325.3L682.8 328.4 682.8 331.5 682.8 334.7 682.8 337.9 682.7 341.3 682.7 344.7 682.7 348.4 682.7 352.2 682.6 356.3 682.5 360.6 682.1 365.2 680.9 369.8 677.6 373.5 671.6 375.7 664.3 377 656.9 378.3 649.9 379.7 643.4 381.1 637.2 382.3 631.4 383.2 625.8 383.6 620.5 383.7 615.3 383.7 610.2 383.6 605.1 383.4 600.2 383.3 595.2 383.2 590.2 383.2 585.1 383.1 579.9 382.9 574.5 382.6 568.9 382 563.1 381 556.9 379.6 550.4 377.9 543.4 376.1 536 374.5 528.7 373.1 522.9 370.6 519.8 366.7 518.8 361.9 518.7 357.2 518.8 352.8 519 348.6 519.2 344.7 519.4 341 519.5 337.4 519.7 334 519.9 330.7 520 327.5 520.2 324.3 520.3 321.1 520.5 318 520.6 314.8 520.8 311.6 520.9 308.3 521.1 304.9 521.3 301.3 521.5 297.6 521.7 293.8 521.9 289.6 522.2 285.2 522.8 280.6 524.2 276 527.6 272.5 533.4 270.8 540.6 271.1 547.8 272.3 554.6 273.7 560.9 275.3 566.9 276.7 572.6 277.9 578 278.7 583.2 279.4 588.3 280 593.3 280.3 598.2 280.5 603 280.7 607.8 280.7 612.7 280.5 617.7 280.3 622.8 280 628 279.5 633.4 279 639.1 278.4 645.1 277.5 651.4 276.4 658.2 275.5 665.4 275.2 672.5 275.6 678.3 277.5 681.4 281.1 682.6 285.6 682.9 290.1 683 294.4 683 298.5 683 302.3 683 305.9 682.9 309.4 682.9 312.7 682.9 315.9 682.9 319.1 682.9 322.2ZM687.3 325.3L687.2 328.6 687.2 331.9 687.2 335.2 687.2 338.7 687.2 342.2 687.2 345.8 687.1 349.7 687.1 353.7 687.1 358 687.1 362.7 687 367.7 686.8 373.1 684.3 377.7 676.8 379.3 668.2 379.8 660.1 380.7 652.6 382.1 645.7 383.5 639.2 384.8 633 385.9 627.2 386.4 621.5 386.6 616 386.6 610.6 386.5 605.3 386.3 600.1 386.1 594.8 386.1 589.5 386.1 584.2 386 578.7 385.8 573 385.4 567.1 384.7 561 383.5 554.5 381.9 547.5 380.2 540.1 378.4 532 377.3 523.3 376.6 515.9 374.5 513.8 369.7 513.8 364.1 514 359 514.2 354.3 514.5 349.9 514.7 345.7 514.9 341.8 515 338.1 515.2 334.5 515.4 331 515.6 327.6 515.7 324.3 515.9 321 516.1 317.6 516.2 314.3 516.4 310.9 516.6 307.4 516.8 303.8 516.9 300.1 517.1 296.2 517.3 292.1 517.6 287.7 517.8 283 518.1 277.9 518.6 272.4 521.2 267.8 528.5 266.7 536.9 267.3 544.8 268.8 552 270.3 558.8 271.9 565.1 273.5 571.1 274.8 576.8 275.7 582.3 276.5 587.6 277.2 592.8 277.5 598 277.8 603.1 278 608.2 278 613.3 277.8 618.5 277.5 623.9 277.2 629.4 276.6 635.1 276.1 641.1 275.4 647.4 274.3 654.1 273.2 661.4 272.5 669.2 272 677.6 271.8 684.9 273.2 687.2 277.7 687.4 283.1 687.4 288.1 687.4 292.7 687.4 297 687.4 301.1 687.4 304.9 687.3 308.5 687.3 312 687.3 315.5 687.3 318.8 687.3 322.1ZM601.6 331.1L604.5 331.2 607.4 331.2 610.3 331.2 613.1 331.2 616 331.2 618.9 331.1 621.8 331 624.7 330.9 627.6 330.7 630.5 330.5 633.4 330.3 636.2 329.9 639.1 329.5 642 329 645.2 328.5 648.5 327.9 651.9 327.3 655.3 326.7 658.9 326.3 662.6 325.9 666.4 325.6 670.4 325.4 674.4 325.3 678.6 325.3 682.8 325.3 687.3 325.3 691.8 325.4M633.3 331.5L636.1 331.2 639 330.9 641.9 330.6 645.1 330.2 648.4 329.7 651.8 329.2 655.3 328.8 658.9 328.5 662.6 328.2 666.4 328.1 670.3 328 674.4 328.1 678.5 328.2 682.8 328.4 687.2 328.6 691.8 328.8M621.6 332.6L624.5 332.7 627.3 332.7 630.2 332.8 633.1 332.7 635.9 332.6 638.8 332.4 641.7 332.2 644.8 331.9 648.2 331.5 651.7 331.2 655.2 330.9 658.8 330.7 662.6 330.6 666.4 330.6 670.3 330.7 674.3 330.8 678.5 331.2 682.8 331.5 687.2 331.9 691.8 332.3M632.8 334L635.6 334 638.4 333.9 641.3 333.8 644.4 333.6 647.8 333.4 651.4 333.2 655 333 658.7 332.9 662.5 332.9 666.3 333.1 670.3 333.3 674.3 333.7 678.5 334.2 682.8 334.7 687.2 335.2 691.8 335.8M610 332.6L612.8 333 615.6 333.4 618.4 333.8 621.2 334.1 623.9 334.5 626.7 334.8 629.5 335 632.3 335.2 635.1 335.4 637.9 335.4 640.7 335.4 643.8 335.4 647.3 335.3 651 335.2 654.7 335.1 658.5 335.2 662.3 335.4 666.3 335.7 670.2 336.1 674.3 336.6 678.5 337.2 682.8 337.9 687.2 338.7 691.8 339.4M631.8 336.5L634.5 336.7 637.3 336.9 640 337 643.1 337.1 646.6 337.2 650.4 337.2 654.2 337.3 658.1 337.5 662.1 337.9 666.1 338.3 670.2 338.9 674.3 339.6 678.4 340.4 682.7 341.3 687.2 342.2 691.7 343.1M620.4 335.7L623.1 336.2 625.8 336.7 628.5 337.2 631.1 337.7 633.8 338.1 636.5 338.4 639.2 338.6 642.2 338.9 645.7 339.1 649.6 339.3 653.6 339.6 657.6 339.9 661.7 340.4 665.9 341 670 341.8 674.2 342.7 678.4 343.7 682.7 344.7 687.2 345.8 691.7 347M630.4 338.9L633 339.4 635.6 339.8 638.3 340.2 641.2 340.6 644.7 341 648.6 341.4 652.7 341.8 656.9 342.4 661.1 343 665.5 343.8 669.8 344.8 674.1 345.9 678.4 347.1 682.7 348.4 687.1 349.7 691.7 351M601.6 331.1L604.1 332 606.7 332.9 609.2 333.8 611.7 334.6 614.3 335.5 616.8 336.3 619.4 337.1 621.9 337.9 624.4 338.6 627 339.4 629.5 340.1 632.1 340.7 634.6 341.3 637.2 341.8 640 342.3 643.5 342.9 647.5 343.5 651.6 344.1 655.9 344.8 660.3 345.7 664.8 346.7 669.4 347.9 673.9 349.3 678.3 350.7 682.7 352.2 687.1 353.7 691.7 355.3M628.6 341.2L631 342 633.5 342.7 635.9 343.3 638.7 344 642.1 344.8 646.1 345.6 650.3 346.4 654.7 347.3 659.2 348.4 663.9 349.7 668.7 351.2 673.4 352.8 678.1 354.5 682.6 356.3 687.1 358 691.7 359.8M618.1 338.5L620.4 339.5 622.8 340.4 625.1 341.4 627.5 342.3 629.9 343.2 632.2 344.1 634.6 344.9 637.2 345.6 640.6 346.6 644.5 347.7 648.7 348.7 653.1 349.8 657.7 351.1 662.5 352.6 667.5 354.4 672.6 356.4 677.7 358.5 682.5 360.6 687.1 362.7 691.7 364.7M626.3 343.4L628.6 344.4 630.8 345.4 633.1 346.3 635.6 347.2 638.8 348.4 642.7 349.7 646.8 351 651.2 352.3 655.8 353.9 660.7 355.6 665.8 357.6 671.2 360 676.7 362.6 682.1 365.2 687 367.7 691.6 370M608 334.9L610.1 336.1 612.3 337.3 614.4 338.5 616.5 339.7 618.7 340.9 620.8 342.1 622.9 343.2 625.1 344.4 627.2 345.5 629.4 346.6 631.5 347.7 633.9 348.8 637 350.1 640.7 351.7 644.7 353.2 648.9 354.8 653.4 356.5 658.2 358.5 663.4 360.7 668.9 363.4 674.8 366.4 680.9 369.8 686.8 373.1 691.6 375.8M623.7 345.3L625.8 346.6 627.8 347.8 629.8 349 632 350.2 635 351.8 638.5 353.5 642.3 355.3 646.3 357.1 650.6 359.1 655.2 361.2 660.2 363.6 665.5 366.4 671.3 369.7 677.6 373.5 684.3 377.7 691.6 382.3M614.8 340.8L616.7 342.2 618.5 343.6 620.4 344.9 622.3 346.2 624.2 347.6 626.1 348.9 628 350.2 630.1 351.6 632.8 353.3 636.1 355.3 639.6 357.3 643.4 359.4 647.3 361.5 651.6 363.8 656.2 366.3 661.1 369 666.2 372.2 671.6 375.7 676.8 379.3 681.2 382.3M620.8 347.1L622.6 348.5 624.3 349.9 626.1 351.3 628 352.8 630.6 354.7 633.6 356.9 636.8 359.1 640.2 361.4 643.8 363.7 647.6 366.1 651.6 368.6 655.8 371.3 660.1 374.1 664.3 377 668.2 379.8 671.8 382.5M601.6 331.1L603.2 332.7 604.8 334.2 606.4 335.7 608 337.3 609.6 338.8 611.2 340.3 612.8 341.8 614.4 343.3 616 344.9 617.6 346.4 619.3 347.9 620.9 349.3 622.5 350.8 624.1 352.3 625.9 353.9 628.2 356 630.9 358.4 633.7 360.8 636.8 363.2 639.9 365.6 643.2 368.2 646.7 370.7 650.2 373.3 653.6 375.8 656.9 378.3 660.1 380.7 663.2 383.2M617.6 348.6L619.1 350.1 620.6 351.7 622 353.2 623.6 354.9 625.7 357.1 628.1 359.6 630.6 362.1 633.2 364.7 635.9 367.3 638.7 369.8 641.6 372.4 644.4 374.9 647.2 377.4 649.9 379.7 652.6 382.1 655.4 384.5M610.7 342.6L612 344.3 613.3 345.9 614.6 347.5 615.9 349.2 617.2 350.8 618.6 352.4 619.9 354.1 621.3 355.9 623.1 358.1 625.2 360.6 627.3 363.2 629.5 365.9 631.8 368.6 634.1 371.2 636.5 373.8 638.8 376.3 641.1 378.7 643.4 381.1 645.7 383.5 648.1 386M614.2 349.7L615.3 351.4 616.5 353.1 617.6 354.8 618.9 356.7 620.5 358.9 622.2 361.4 624 364 625.8 366.7 627.7 369.4 629.6 372.1 631.5 374.7 633.4 377.3 635.3 379.8 637.2 382.3 639.2 384.8 641.2 387.4M604.5 336.3L605.5 338.1 606.5 339.8 607.5 341.5 608.5 343.2 609.4 345 610.4 346.7 611.4 348.4 612.4 350.2 613.4 351.9 614.4 353.7 615.4 355.4 616.5 357.3 617.7 359.6 619.2 362.1 620.6 364.7 622.1 367.3 623.6 369.9 625.2 372.5 626.7 375.2 628.2 377.9 629.8 380.5 631.4 383.2 633 385.9 634.7 388.6M610.6 350.6L611.4 352.3 612.2 354.1 613 355.9 613.9 357.9 615 360.1 616.1 362.6 617.3 365.1 618.4 367.6 619.6 370.2 620.8 372.8 622 375.4 623.3 378.1 624.5 380.8 625.8 383.6 627.2 386.4 628.5 389.4M606.1 343.7L606.8 345.5 607.4 347.3 608.1 349.1 608.7 350.9 609.3 352.7 610 354.5 610.6 356.3 611.4 358.3 612.2 360.5 613 362.9 613.9 365.4 614.8 367.9 615.7 370.4 616.6 372.9 617.5 375.5 618.5 378.2 619.5 380.9 620.5 383.7 621.5 386.6 622.6 389.6M606.8 351.1L607.3 352.9 607.8 354.8 608.2 356.6 608.8 358.6 609.3 360.8 609.9 363.1 610.6 365.5 611.2 367.9 611.8 370.4 612.5 372.9 613.1 375.5 613.8 378.1 614.5 380.9 615.3 383.7 616 386.6 616.8 389.6M601.6 331.1L601.9 333 602.2 334.8 602.5 336.6 602.8 338.4 603.1 340.2 603.4 342.1 603.7 343.9 604 345.7 604.3 347.6 604.6 349.4 604.9 351.2 605.2 353.1 605.5 354.9 605.8 356.8 606.1 358.8 606.5 361 606.9 363.2 607.2 365.5 607.6 367.9 608 370.3 608.4 372.8 608.8 375.4 609.3 378 609.7 380.7 610.2 383.6 610.6 386.5 611.1 389.5M603 351.3L603.1 353.2 603.2 355 603.3 356.9 603.5 358.9 603.6 361 603.8 363.2 603.9 365.5 604.1 367.8 604.3 370.2 604.4 372.7 604.6 375.2 604.8 377.9 605 380.6 605.1 383.4 605.3 386.3 605.5 389.3M601.2 343.9L601.2 345.8 601.1 347.6 601.1 349.5 601 351.3 601 353.2 600.9 355 600.9 356.9 600.8 358.9 600.8 361 600.7 363.2 600.7 365.4 600.6 367.8 600.5 370.1 600.5 372.6 600.4 375.2 600.3 377.8 600.2 380.5 600.2 383.3 600.1 386.1 600 389.1M599.1 351.2L598.9 353.1 598.7 354.9 598.4 356.8 598.2 358.8 597.9 360.9 597.7 363.1 597.4 365.4 597.1 367.7 596.8 370.1 596.5 372.6 596.2 375.1 595.9 377.7 595.5 380.4 595.2 383.2 594.8 386.1 594.5 389.1M600.4 336.6L600 338.4 599.6 340.2 599.2 342 598.8 343.8 598.4 345.6 598 347.4 597.6 349.3 597.2 351.1 596.8 352.9 596.4 354.8 596 356.6 595.5 358.6 595.1 360.8 594.6 363 594.1 365.3 593.6 367.7 593 370.1 592.5 372.5 591.9 375.1 591.4 377.7 590.8 380.4 590.2 383.2 589.5 386.1 588.9 389.1M595.3 350.9L594.7 352.7 594.1 354.5 593.6 356.3 592.9 358.3 592.2 360.5 591.5 362.8 590.8 365.2 590 367.6 589.2 370 588.4 372.5 587.6 375 586.8 377.6 585.9 380.3 585.1 383.1 584.2 386 583.2 388.9M596.4 343.5L595.7 345.3 594.9 347 594.2 348.8 593.4 350.6 592.7 352.4 591.9 354.2 591.2 356 590.3 358 589.4 360.2 588.4 362.5 587.4 364.9 586.4 367.3 585.4 369.8 584.3 372.3 583.2 374.9 582.1 377.5 581 380.2 579.9 382.9 578.7 385.8 577.4 388.7M591.6 350.2L590.7 352 589.7 353.7 588.8 355.5 587.8 357.4 586.6 359.6 585.4 362.1 584.1 364.5 582.8 367 581.4 369.5 580.1 372 578.7 374.6 577.4 377.2 575.9 379.9 574.5 382.6 573 385.4 571.5 388.3M601.6 331.1L600.5 332.8 599.5 334.5 598.4 336.2 597.3 337.9 596.2 339.6 595.2 341.3 594.1 343 593 344.7 591.9 346.4 590.8 348.1 589.8 349.8 588.7 351.5 587.6 353.2 586.5 354.9 585.3 356.8 583.9 359 582.3 361.4 580.7 363.9 579.1 366.5 577.4 369.1 575.8 371.7 574.1 374.3 572.4 376.8 570.7 379.4 568.9 382 567.1 384.7 565.3 387.4M588 349.3L586.8 350.9 585.5 352.6 584.3 354.2 582.9 356 581.2 358.2 579.3 360.7 577.4 363.2 575.4 365.8 573.4 368.4 571.3 371 569.3 373.6 567.2 376.1 565.2 378.6 563.1 381 561 383.5 558.8 386M591.9 342.3L590.5 343.9 589.1 345.5 587.7 347.1 586.3 348.7 584.9 350.3 583.5 351.8 582.1 353.4 580.5 355.1 578.6 357.3 576.4 359.7 574.1 362.2 571.7 364.8 569.3 367.4 566.8 370 564.3 372.5 561.8 374.9 559.4 377.3 556.9 379.6 554.5 381.9 551.9 384.3M584.6 348L583.1 349.5 581.5 351 580 352.5 578.2 354.1 576.1 356.2 573.5 358.6 570.9 361 568.1 363.5 565.2 366 562.3 368.5 559.3 370.9 556.2 373.3 553.3 375.7 550.4 377.9 547.5 380.2 544.6 382.4M596.6 335.5L594.9 337 593.2 338.5 591.5 340 589.8 341.4 588.1 342.9 586.4 344.4 584.7 345.8 583 347.2 581.3 348.6 579.6 350.1 577.9 351.5 576.1 353 573.6 355 570.8 357.2 567.8 359.6 564.6 361.9 561.3 364.2 557.8 366.6 554.2 369 550.5 371.4 546.9 373.8 543.4 376.1 540.1 378.4 536.8 380.8M581.5 346.4L579.7 347.7 577.8 349.1 576 350.4 574 351.8 571.3 353.6 568.2 355.7 564.8 357.8 561.3 359.9 557.5 362.1 553.5 364.3 549.3 366.7 544.9 369.1 540.4 371.7 536 374.5 532 377.3 528.2 380.1M587.9 340.4L585.9 341.7 584 343 582 344.2 580 345.5 578.1 346.7 576.1 348 574.1 349.2 572 350.5 569.1 352.1 565.7 354 562 355.9 558.2 357.7 554 359.7 549.6 361.8 544.8 364 539.7 366.5 534.3 369.6 528.7 373.1 523.3 376.6 518.8 379.4M578.7 344.6L576.6 345.7 574.5 346.8 572.4 347.9 570.1 349.1 567 350.5 563.4 352.1 559.5 353.7 555.3 355.3 550.9 357.1 546.1 359 540.9 361.1 535.4 363.7 529.4 367 522.9 370.6 515.9 374.5 508.4 378.7M601.6 331.1L599.4 332.3 597.2 333.5 595 334.6 592.8 335.8 590.6 337 588.4 338.1 586.2 339.2 584 340.3 581.8 341.4 579.6 342.5 577.4 343.5 575.2 344.6 573 345.6 570.7 346.5 568.3 347.5 565.1 348.8 561.2 350.1 557.2 351.4 552.8 352.8 548.2 354.4 543.2 356 537.8 358 532.1 360.6 526.1 363.6 519.8 366.7 513.8 369.7 508.7 372.1M576.2 342.5L573.9 343.4 571.5 344.3 569.2 345.1 566.7 345.9 563.3 347 559.3 348 555.1 349.1 550.7 350.3 545.9 351.5 540.9 352.9 535.6 354.8 530 357.1 524.4 359.5 518.8 361.9 513.8 364.1 509 366.2M584.7 337.9L582.3 338.8 579.9 339.7 577.5 340.6 575.1 341.4 572.7 342.2 570.2 342.9 567.8 343.6 565.1 344.3 561.7 345 557.6 345.9 553.4 346.7 548.9 347.6 544.1 348.6 539.2 349.8 534 351.5 528.8 353.4 523.6 355.3 518.7 357.2 514 359 509.3 360.8M574.1 340.2L571.6 340.9 569 341.5 566.5 342 563.7 342.5 560.2 343.1 556.1 343.7 551.9 344.3 547.4 345 542.8 345.8 538 346.8 533.1 348.1 528.2 349.7 523.4 351.2 518.8 352.8 514.2 354.3 509.6 355.8M593.9 333.5L591.3 334.3 588.7 335.1 586.1 335.8 583.5 336.5 580.9 337.2 578.3 337.8 575.7 338.5 573.2 339 570.6 339.6 568 340 565.4 340.4 562.5 340.8 559 341.1 554.9 341.5 550.6 341.9 546.3 342.4 541.8 343 537.2 343.7 532.6 344.8 528 346.1 523.5 347.3 519 348.6 514.5 349.9 509.8 351.2M572.4 337.8L569.7 338.2 567 338.5 564.4 338.8 561.4 339 557.8 339.2 553.8 339.3 549.7 339.6 545.4 339.8 541.1 340.2 536.7 340.8 532.3 341.6 527.9 342.6 523.6 343.6 519.2 344.7 514.7 345.7 510 346.9M582.6 335L579.8 335.5 577.1 335.9 574.4 336.3 571.7 336.6 568.9 336.8 566.2 337 563.5 337.1 560.5 337.2 556.9 337.2 553 337.2 548.9 337.2 544.8 337.3 540.7 337.5 536.5 337.9 532.2 338.5 528 339.3 523.7 340.1 519.4 341 514.9 341.8 510.2 342.8M571.1 335.3L568.3 335.5 565.5 335.5 562.7 335.5 559.7 335.4 556.1 335.2 552.3 335.1 548.4 335 544.4 334.9 540.4 334.9 536.4 335.1 532.3 335.6 528.1 336.1 523.9 336.8 519.5 337.4 515 338.1 510.4 338.8M601.6 331.1L598.8 331.5 596 331.9 593.2 332.3 590.3 332.6 587.5 333 584.7 333.2 581.9 333.5 579.1 333.7 576.2 333.9 573.4 334 570.6 334.1 567.8 334.1 565 334 562.1 333.8 559 333.5 555.5 333.3 551.8 333 548 332.7 544.2 332.5 540.3 332.4 536.4 332.4 532.3 332.7 528.2 333.1 524 333.5 519.7 334 515.2 334.5 510.6 335.1M570.2 332.8L567.4 332.7 564.5 332.4 561.7 332.1 558.5 331.8 555.1 331.3 551.5 330.9 547.8 330.5 544.1 330.2 540.3 329.9 536.4 329.8 532.5 329.9 528.4 330.1 524.2 330.4 519.9 330.7 515.4 331 510.8 331.4M581.5 331.9L578.6 331.9 575.7 331.8 572.9 331.7 570 331.5 567.1 331.3 564.2 330.9 561.4 330.5 558.2 330 554.8 329.4 551.3 328.9 547.8 328.4 544.1 327.9 540.4 327.5 536.5 327.2 532.6 327.1 528.5 327.2 524.3 327.3 520 327.5 515.6 327.6 511 327.8M569.9 330.3L567 329.9 564.1 329.4 561.2 328.9 558 328.2 554.7 327.6 551.3 326.9 547.8 326.3 544.2 325.6 540.5 325.1 536.6 324.7 532.7 324.5 528.6 324.4 524.5 324.3 520.2 324.3 515.7 324.3 511.2 324.3M592.9 330.9L590.1 330.9 587.2 330.7 584.3 330.6 581.4 330.3 578.5 330.1 575.6 329.8 572.7 329.5 569.8 329.1 567 328.6 564.1 328 561.2 327.3 558 326.5 554.7 325.7 551.3 325 547.8 324.2 544.2 323.4 540.6 322.7 536.7 322.2 532.8 321.8 528.8 321.5 524.6 321.3 520.3 321.1 515.9 321 511.4 320.8M569.9 327.8L567.1 327.2 564.2 326.5 561.3 325.7 558.1 324.9 554.8 323.9 551.4 323 547.9 322.1 544.3 321.2 540.7 320.4 536.9 319.6 532.9 319.1 528.9 318.7 524.8 318.3 520.5 318 516.1 317.6 511.5 317.3M581.6 328.8L578.7 328.3 575.9 327.8 573 327.3 570.2 326.6 567.3 325.9 564.5 325.1 561.6 324.2 558.4 323.2 555.1 322.2 551.6 321.1 548.1 320 544.5 319 540.8 318 537 317.1 533.1 316.4 529 315.8 524.9 315.3 520.6 314.8 516.2 314.3 511.7 313.8M570.5 325.5L567.7 324.7 564.8 323.8 562 322.8 558.9 321.7 555.5 320.4 552 319.2 548.4 318 544.7 316.7 540.9 315.6 537.1 314.6 533.2 313.7 529.2 312.9 525 312.2 520.8 311.6 516.4 310.9 511.9 310.2M601.6 331.1L598.8 330.6 596 330.1 593.2 329.6 590.4 329.1 587.7 328.6 584.9 328 582.1 327.3 579.3 326.6 576.5 325.9 573.7 325.2 570.9 324.3 568.2 323.4 565.4 322.4 562.6 321.4 559.5 320.1 556.1 318.8 552.4 317.3 548.7 315.9 545 314.5 541.2 313.2 537.3 312 533.3 310.9 529.3 310 525.2 309.1 520.9 308.3 516.6 307.4 512.1 306.5M571.5 323.2L568.8 322.3 566 321.2 563.3 320 560.3 318.7 556.8 317.2 553.1 315.5 549.3 313.9 545.4 312.3 541.5 310.7 537.5 309.3 533.5 308.1 529.5 307 525.3 305.9 521.1 304.9 516.8 303.8 512.3 302.8M582.9 325.9L580.2 325 577.5 324.1 574.8 323.2 572.2 322.2 569.5 321.1 566.8 320 564.2 318.7 561.2 317.3 557.7 315.6 553.9 313.7 550 311.9 546 310.1 541.9 308.3 537.8 306.6 533.8 305.1 529.6 303.8 525.5 302.6 521.3 301.3 516.9 300.1 512.5 298.8M572.9 321.1L570.3 320 567.7 318.8 565.1 317.5 562.3 316 558.8 314.1 554.9 312.1 550.9 309.9 546.8 307.9 542.6 305.8 538.3 303.8 534.1 302.1 529.9 300.5 525.7 299.1 521.5 297.6 517.1 296.2 512.7 294.7M594 328.4L591.5 327.5 589 326.6 586.4 325.6 583.9 324.6 581.4 323.5 578.9 322.4 576.3 321.3 573.8 320.1 571.3 318.9 568.8 317.7 566.3 316.3 563.5 314.8 560 312.8 556.1 310.4 552 308.1 547.8 305.7 543.5 303.4 539.1 301.1 534.6 299 530.2 297.1 525.9 295.4 521.7 293.8 517.3 292.1 512.9 290.4M574.8 319.2L572.4 317.9 569.9 316.6 567.5 315.2 564.8 313.6 561.4 311.5 557.5 308.9 553.4 306.3 549.1 303.7 544.7 301 540.1 298.4 535.4 295.9 530.8 293.6 526.3 291.6 521.9 289.6 517.6 287.7 513.1 285.8M585.2 323.3L582.9 322.1 580.5 320.9 578.2 319.6 575.9 318.3 573.5 317 571.2 315.6 568.9 314.2 566.3 312.5 563 310.2 559.1 307.5 555 304.7 550.7 301.8 546.2 298.8 541.5 295.8 536.7 292.8 531.7 290.1 526.8 287.6 522.2 285.2 517.8 283 513.4 280.8M577 317.4L574.8 316 572.6 314.6 570.4 313.1 567.9 311.4 564.7 309.1 560.9 306.3 556.9 303.3 552.7 300.1 548.2 296.8 543.4 293.4 538.4 289.9 533.2 286.6 527.9 283.5 522.8 280.6 518.1 277.9 513.7 275.4M601.6 331.1L599.5 329.9 597.4 328.6 595.2 327.4 593.1 326.1 591 324.8 588.9 323.5 586.7 322.2 584.6 320.9 582.5 319.5 580.4 318.1 578.3 316.6 576.2 315.2 574.1 313.7 572 312.2 569.6 310.5 566.6 308.1 562.9 305.2 559.1 302 555 298.6 550.6 295 545.9 291.3 540.9 287.5 535.6 283.5 530 279.8 524.2 276 518.6 272.4 514 269.5M579.6 315.9L577.6 314.4 575.6 312.8 573.7 311.3 571.5 309.5 568.6 307.2 565.1 304.2 561.5 300.9 557.6 297.4 553.4 293.6 549 289.7 544.2 285.6 539 281.2 533.5 276.8 527.6 272.5 521.2 267.8 514.3 262.9M588.5 321.2L586.6 319.8 584.8 318.3 582.9 316.7 581 315.2 579.2 313.6 577.3 312.1 575.5 310.5 573.4 308.7 570.7 306.3 567.5 303.3 564.1 300 560.5 296.5 556.6 292.6 552.5 288.6 548.1 284.4 543.5 279.9 538.5 275.3 533.4 270.8 528.5 266.7 524.4 263.4M582.5 314.6L580.8 313 579.1 311.3 577.4 309.7 575.5 307.9 573 305.5 570.1 302.5 567 299.3 563.7 295.8 560.2 292 556.5 288 552.7 283.8 548.6 279.6 544.6 275.2 540.6 271.1 536.9 267.3 533.5 264M596.8 326.5L595.2 325 593.6 323.4 592 321.9 590.4 320.4 588.9 318.8 587.3 317.2 585.7 315.6 584.1 314 582.5 312.3 580.9 310.7 579.4 309 577.6 307.1 575.4 304.7 572.7 301.8 570 298.8 567.1 295.4 564 291.7 560.8 287.9 557.5 283.9 554.2 279.9 550.9 276 547.8 272.3 544.8 268.8 541.8 265.3M585.7 313.5L584.3 311.8 582.9 310.1 581.4 308.4 579.8 306.5 577.8 304.1 575.5 301.2 573.1 298.3 570.6 295.1 568 291.7 565.3 288.2 562.5 284.5 559.8 280.8 557.1 277.2 554.6 273.7 552 270.3 549.4 266.9M592.6 319.6L591.3 318 590 316.3 588.7 314.7 587.4 313 586.1 311.3 584.8 309.6 583.6 307.8 582.1 305.9 580.4 303.5 578.4 300.8 576.3 297.9 574.2 294.9 572 291.8 569.7 288.6 567.5 285.2 565.3 281.9 563.1 278.5 560.9 275.3 558.8 271.9 556.5 268.5M589.1 312.5L588 310.8 586.9 309.1 585.8 307.4 584.5 305.4 583 303.1 581.3 300.4 579.6 297.6 577.8 294.8 576 291.9 574.2 288.9 572.4 285.9 570.5 282.9 568.7 279.8 566.9 276.7 565.1 273.5 563.2 270.2M601.6 331.1L600.6 329.4 599.7 327.7 598.7 326 597.7 324.2 596.7 322.5 595.8 320.8 594.8 319.1 593.8 317.3 592.9 315.6 591.9 313.9 590.9 312.2 589.9 310.4 589 308.7 588 306.9 587 305 585.7 302.7 584.3 300.1 582.9 297.5 581.5 294.8 580 292 578.5 289.3 577.1 286.5 575.6 283.6 574.1 280.8 572.6 277.9 571.1 274.8 569.5 271.7M592.7 311.8L591.9 310.1 591.1 308.3 590.3 306.6 589.4 304.6 588.4 302.4 587.3 299.9 586.2 297.4 585.1 294.9 583.9 292.3 582.8 289.7 581.6 287 580.5 284.3 579.3 281.5 578 278.7 576.8 275.7 575.5 272.7M597.1 318.7L596.5 316.9 595.9 315.1 595.2 313.3 594.6 311.6 593.9 309.8 593.3 308 592.7 306.2 592 304.3 591.2 302.1 590.4 299.8 589.5 297.4 588.7 295 587.8 292.5 586.9 290 586 287.5 585.1 284.9 584.2 282.2 583.2 279.4 582.3 276.5 581.3 273.6M596.5 311.4L596 309.6 595.5 307.8 595.1 306 594.5 304 594 301.9 593.4 299.7 592.8 297.4 592.2 295.1 591.6 292.7 591 290.3 590.3 287.8 589.7 285.3 589 282.7 588.3 280 587.6 277.2 586.9 274.3M600.7 325.7L600.4 323.9 600.1 322.1 599.8 320.3 599.5 318.5 599.2 316.7 598.9 314.8 598.6 313 598.3 311.2 598 309.4 597.8 307.7 597.5 305.9 597.1 303.9 596.8 301.8 596.4 299.6 596.1 297.4 595.7 295.1 595.3 292.8 594.9 290.4 594.5 288 594.1 285.5 593.7 282.9 593.3 280.3 592.8 277.5 592.4 274.7M600.2 311.2L600.1 309.4 600 307.6 599.9 305.8 599.7 303.8 599.6 301.8 599.5 299.6 599.3 297.5 599.2 295.2 599 292.9 598.8 290.6 598.7 288.2 598.5 285.7 598.3 283.1 598.2 280.5 598 277.8 597.8 275M602 318.4L602 316.6 602.1 314.8 602.1 313 602.2 311.2 602.2 309.4 602.3 307.6 602.3 305.8 602.4 303.8 602.4 301.8 602.5 299.7 602.5 297.6 602.6 295.3 602.7 293.1 602.7 290.7 602.8 288.3 602.9 285.8 602.9 283.3 603 280.7 603.1 278 603.1 275.2M604.1 311.3L604.3 309.5 604.5 307.7 604.7 305.9 605 304 605.2 301.9 605.5 299.8 605.8 297.6 606 295.4 606.3 293.1 606.6 290.8 606.9 288.4 607.2 285.9 607.5 283.4 607.8 280.7 608.2 278 608.5 275.3M601.6 331.1L602 329.3 602.4 327.5 602.8 325.7 603.2 324 603.6 322.2 604 320.4 604.4 318.6 604.8 316.8 605.2 315 605.6 313.2 606 311.4 606.4 309.7 606.7 307.9 607.1 306.1 607.6 304.1 608 302 608.5 299.9 609 297.7 609.5 295.4 610 293.1 610.5 290.7 611 288.3 611.6 285.8 612.2 283.2 612.7 280.5 613.3 277.8 613.9 275M607.8 311.6L608.4 309.8 609 308.1 609.5 306.3 610.1 304.3 610.8 302.2 611.5 300 612.2 297.7 613 295.4 613.7 293 614.5 290.6 615.2 288.1 616 285.6 616.8 283 617.7 280.3 618.5 277.5 619.4 274.7M606.8 318.9L607.5 317.1 608.2 315.4 609 313.6 609.7 311.8 610.4 310.1 611.2 308.3 611.9 306.6 612.7 304.6 613.6 302.4 614.5 300.1 615.5 297.7 616.5 295.3 617.5 292.9 618.5 290.4 619.5 287.9 620.6 285.3 621.7 282.7 622.8 280 623.9 277.2 625 274.3M611.5 312.1L612.4 310.4 613.3 308.6 614.2 306.9 615.2 305 616.3 302.8 617.6 300.3 618.8 297.9 620.1 295.4 621.4 292.8 622.6 290.3 623.9 287.7 625.3 285 626.6 282.3 628 279.5 629.4 276.6 630.8 273.7M604.8 326.1L605.9 324.4 606.9 322.7 608 321 609.1 319.3 610.1 317.6 611.2 315.9 612.3 314.2 613.3 312.5 614.4 310.8 615.4 309.1 616.5 307.3 617.7 305.4 619 303.2 620.6 300.7 622.1 298.1 623.7 295.5 625.3 292.8 626.9 290.1 628.5 287.3 630.1 284.6 631.7 281.8 633.4 279 635.1 276.1 636.8 273.1M615.1 312.9L616.3 311.2 617.5 309.5 618.7 307.8 620.1 306 621.7 303.7 623.5 301.1 625.4 298.4 627.3 295.6 629.3 292.8 631.2 289.9 633.2 287 635.2 284.2 637.1 281.3 639.1 278.4 641.1 275.4 643.1 272.2M611.3 319.9L612.7 318.3 614 316.7 615.4 315 616.8 313.4 618.1 311.7 619.5 310.1 620.9 308.4 622.4 306.6 624.3 304.2 626.4 301.6 628.6 298.8 630.9 295.9 633.3 292.9 635.6 289.9 638 286.8 640.4 283.6 642.8 280.5 645.1 277.5 647.4 274.3 649.8 271.1M618.4 313.9L619.9 312.3 621.5 310.7 623 309.1 624.7 307.2 626.8 304.9 629.2 302.2 631.8 299.3 634.5 296.3 637.2 293.2 640.1 289.9 643 286.5 645.9 283 648.7 279.7 651.4 276.4 654.1 273.2 656.9 270.1M601.6 331.1L603.3 329.7 605 328.2 606.6 326.7 608.3 325.2 610 323.7 611.7 322.2 613.3 320.7 615 319.2 616.7 317.6 618.3 316.1 620 314.5 621.7 313 623.3 311.4 625 309.8 626.8 308 629.2 305.7 632 302.9 634.9 300 637.9 296.9 641.1 293.5 644.5 290 648 286.3 651.5 282.6 654.9 278.9 658.2 275.5 661.4 272.5 664.5 269.5M621.5 315.2L623.3 313.6 625.1 312.1 626.9 310.5 628.9 308.8 631.5 306.5 634.6 303.8 637.8 300.8 641.2 297.6 644.9 294.1 648.7 290.4 652.8 286.5 657 282.6 661.2 278.8 665.4 275.2 669.2 272 672.8 269M615.2 321.6L617.2 320.2 619.1 318.8 621 317.3 623 315.9 624.9 314.4 626.9 312.9 628.8 311.4 630.9 309.7 633.7 307.5 637 304.7 640.6 301.8 644.3 298.5 648.4 295 652.6 291.3 657.2 287.4 662.1 283.6 667.2 279.6 672.5 275.6 677.6 271.8 681.9 268.7M624.4 316.6L626.4 315.2 628.5 313.8 630.5 312.3 632.8 310.7 635.8 308.5 639.4 305.8 643.1 302.8 647.2 299.6 651.5 296.2 656.1 292.6 661.1 289 666.4 285.4 672.1 281.5 678.3 277.5 684.9 273.2 692 268.5M608.2 327.6L610.4 326.4 612.6 325.2 614.7 323.9 616.9 322.7 619.1 321.4 621.3 320.1 623.5 318.8 625.6 317.4 627.8 316.1 630 314.7 632.2 313.3 634.6 311.7 637.7 309.6 641.5 306.9 645.5 304.1 649.7 301 654.2 297.8 659 294.5 664.2 291.3 669.7 287.9 675.4 284.5 681.4 281.1 687.2 277.7 692 275M626.9 318.3L629.1 317 631.4 315.7 633.7 314.3 636.2 312.8 639.5 310.7 643.4 308.2 647.5 305.5 651.9 302.6 656.5 299.7 661.4 296.8 666.5 293.9 671.8 291 677.3 288.2 682.6 285.6 687.4 283.1 692 280.8M618.4 323.9L620.8 322.7 623.2 321.6 625.6 320.4 628 319.2 630.4 318 632.7 316.7 635.1 315.4 637.8 313.9 641.1 312 645.1 309.6 649.3 307.1 653.7 304.4 658.3 301.8 663.1 299.3 668.1 296.9 673.2 294.5 678.2 292.2 682.9 290.1 687.4 288.1 691.9 286.1M629 320.2L631.5 319 633.9 317.8 636.4 316.6 639.2 315.2 642.6 313.3 646.6 311.1 650.8 308.8 655.2 306.4 659.7 304.2 664.4 302 669.2 300 673.9 298 678.5 296.2 683 294.4 687.4 292.7 691.9 291M601.6 331.1L604.2 330.3 606.8 329.5 609.3 328.7 611.9 327.8 614.5 327 617.1 326.1 619.6 325.1 622.2 324.2 624.8 323.2 627.3 322.2 629.9 321.2 632.5 320.1 635 318.9 637.6 317.8 640.4 316.4 643.9 314.7 647.9 312.7 652.1 310.6 656.4 308.5 660.8 306.6 665.3 304.8 669.8 303.1 674.3 301.4 678.7 299.9 683 298.5 687.4 297 691.9 295.5M630.7 322.2L633.4 321.2 636 320.1 638.6 319 641.5 317.7 645.1 316.1 649 314.3 653.1 312.5 657.3 310.7 661.5 309.1 665.8 307.5 670.1 306.1 674.4 304.8 678.7 303.5 683 302.3 687.4 301.1 691.9 299.8M620.6 326.5L623.3 325.7 626 324.9 628.7 324.1 631.4 323.3 634.1 322.3 636.8 321.3 639.5 320.3 642.5 319.1 646 317.7 649.9 316 653.9 314.4 658 312.9 662.1 311.5 666.2 310.3 670.3 309.1 674.5 308 678.7 306.9 683 305.9 687.4 304.9 691.9 303.8M632 324.4L634.8 323.5 637.6 322.6 640.3 321.7 643.4 320.6 646.8 319.3 650.6 317.8 654.5 316.5 658.4 315.2 662.4 314 666.4 313 670.4 312 674.5 311 678.7 310.2 682.9 309.4 687.3 308.5 691.9 307.7M610 329.9L612.9 329.5 615.7 329 618.5 328.5 621.3 328 624.1 327.4 626.9 326.8 629.7 326.2 632.5 325.5 635.3 324.7 638.1 323.9 640.9 323 644 322 647.5 320.9 651.2 319.7 654.9 318.5 658.7 317.4 662.6 316.4 666.5 315.6 670.4 314.8 674.5 314 678.6 313.3 682.9 312.7 687.3 312 691.8 311.4M632.9 326.6L635.7 326 638.6 325.3 641.4 324.5 644.6 323.6 648 322.6 651.5 321.5 655.2 320.5 658.9 319.6 662.6 318.8 666.5 318.1 670.4 317.5 674.5 316.9 678.6 316.4 682.9 315.9 687.3 315.5 691.8 315M621.7 329.5L624.6 329.1 627.4 328.7 630.3 328.3 633.2 327.8 636 327.3 638.9 326.6 641.8 326 644.9 325.2 648.3 324.3 651.8 323.4 655.3 322.6 658.9 321.9 662.7 321.2 666.5 320.6 670.4 320.2 674.4 319.7 678.6 319.4 682.9 319.1 687.3 318.8 691.8 318.5M633.3 329L636.2 328.6 639.1 328 642 327.5 645.1 326.8 648.4 326.1 651.9 325.4 655.4 324.7 659 324.1 662.7 323.5 666.5 323.1 670.4 322.8 674.4 322.5 678.6 322.3 682.9 322.2 687.3 322.1 691.8 322" fill="none" stroke="#180a14" stroke-width="0.9" opacity="0.68" stroke-linejoin="round"/>
<ellipse cx="576.0" cy="327.4" rx="9" ry="13" fill="url(#dk3)"/>
<ellipse cx="627.0" cy="327.4" rx="9" ry="13" fill="url(#dk3)"/>
<path d="M514.3 262.9L516.5 263 518.8 263.1 521 263.2 523.3 263.3 525.5 263.5 527.8 263.6 530 263.8 532.3 263.9 534.5 264.1 536.8 264.4 539 264.8 541.3 265.2 543.5 265.7 545.8 266.1 548 266.6 550.3 267.1 552.5 267.6 554.8 268.1 557 268.6 559.3 269.2 561.5 269.7 563.8 270.3 566 270.9 568.3 271.4 570.5 271.9 572.8 272.3 575 272.7 577.3 273 579.5 273.3 581.8 273.6 584 274 586.3 274.2 588.5 274.5 590.8 274.6 593 274.7 595.3 274.9 597.5 275 599.8 275.1 602 275.2 604.3 275.2 606.5 275.3 608.8 275.3 611 275.2 613.3 275 615.5 274.9 617.8 274.8 620 274.6 622.3 274.5 624.5 274.3 626.8 274.1 629 273.9 631.3 273.6 633.5 273.4 635.8 273.2 638 272.9 640.3 272.7 642.5 272.3 644.8 272 647 271.6 649.3 271.2 651.5 270.8 653.8 270.5 656 270.1 658.3 269.9 660.5 269.7 662.8 269.6 665 269.4 667.3 269.3 669.5 269.2 671.8 269 674 268.9 676.3 268.9 678.5 268.8 680.8 268.7 683 268.7 685.3 268.6 687.5 268.6 689.8 268.5 692 268.5 691.6 382.3 689.3 382.3 687 382.3 684.6 382.3 682.3 382.3 680 382.3 677.7 382.3 675.4 382.3 673 382.4 670.7 382.5 668.4 382.7 666.1 382.8 663.8 383.1 661.5 383.4 659.1 383.8 656.8 384.2 654.5 384.6 652.2 385.1 649.9 385.6 647.5 386.1 645.2 386.6 642.9 387.1 640.6 387.5 638.3 388 635.9 388.4 633.6 388.8 631.3 389.1 629 389.3 626.7 389.5 624.3 389.5 622 389.6 619.7 389.6 617.4 389.6 615.1 389.6 612.8 389.5 610.4 389.5 608.1 389.4 605.8 389.3 603.5 389.2 601.2 389.1 598.8 389.1 596.5 389.1 594.2 389.1 591.9 389.1 589.6 389.1 587.2 389.1 584.9 389 582.6 388.9 580.3 388.8 578 388.8 575.7 388.6 573.3 388.5 571 388.2 568.7 387.9 566.4 387.6 564.1 387.2 561.7 386.7 559.4 386.2 557.1 385.6 554.8 385 552.5 384.4 550.1 383.8 547.8 383.2 545.5 382.7 543.2 382.1 540.9 381.5 538.5 381.1 536.2 380.7 533.9 380.5 531.6 380.3 529.3 380.1 527 380 524.6 379.8 522.3 379.6 520 379.5 517.7 379.3 515.4 379.2 513 379 510.7 378.9 508.4 378.7Z" fill="none" stroke="#180a14" stroke-width="0.9" opacity="0.8"/>
<path d="M507 410.2L691.8 414.4 691.8 416.9 507 412.7Z" fill="#3a3a9c" stroke="#2b2a7a" stroke-width="0.5"/></g>
<rect x="0.50" y="0.20" width="117.00" height="178.50" fill="#fff" stroke="#8c8c8c" stroke-width="1.2"/>
<text x="10.10" y="20.20" font-size="9.74" textLength="57.0" lengthAdjust="spacingAndGlyphs" class="lg">DAMAGEMT</text>
<text x="10.10" y="32.80" font-size="9.74" textLength="96.9" lengthAdjust="spacingAndGlyphs" class="lg">Envelope (max abs)</text>
<text x="10.10" y="44.80" font-size="9.74" textLength="56.4" lengthAdjust="spacingAndGlyphs" class="lg">(Avg: 75%)</text>
<rect x="10.20" y="53.60" width="14.30" height="9.82" fill="#e4342f"/>
<rect x="10.20" y="63.23" width="14.30" height="9.82" fill="#ea6236"/>
<rect x="10.20" y="72.85" width="14.30" height="9.82" fill="#f4a541"/>
<rect x="10.20" y="82.47" width="14.30" height="9.82" fill="#d8dc4a"/>
<rect x="10.20" y="92.10" width="14.30" height="9.82" fill="#98c440"/>
<rect x="10.20" y="101.72" width="14.30" height="9.82" fill="#70b43e"/>
<rect x="10.20" y="111.35" width="14.30" height="9.82" fill="#6bb244"/>
<rect x="10.20" y="120.97" width="14.30" height="9.82" fill="#72b97c"/>
<rect x="10.20" y="130.60" width="14.30" height="9.82" fill="#73c3ae"/>
<rect x="10.20" y="140.22" width="14.30" height="9.82" fill="#4da5d6"/>
<rect x="10.20" y="149.85" width="14.30" height="9.82" fill="#4560aa"/>
<rect x="10.20" y="159.47" width="14.30" height="9.82" fill="#3f4896"/>
<line x1="10.20" y1="53.60" x2="24.50" y2="53.60" stroke="#111" stroke-width="0.8" opacity="0.65"/>
<line x1="24.50" y1="53.60" x2="28.30" y2="53.60" stroke="#111" stroke-width="0.8" opacity="0.6"/>
<text x="34.30" y="56.89" font-size="9.55" class="lg">+1.000e+00</text>
<line x1="10.20" y1="63.23" x2="24.50" y2="63.23" stroke="#111" stroke-width="0.8" opacity="0.4"/>
<line x1="24.50" y1="63.23" x2="28.30" y2="63.23" stroke="#111" stroke-width="0.8" opacity="0.85"/>
<text x="34.30" y="66.52" font-size="9.55" class="lg">+9.167e-01</text>
<line x1="10.20" y1="72.85" x2="24.50" y2="72.85" stroke="#111" stroke-width="0.8" opacity="0.4"/>
<line x1="24.50" y1="72.85" x2="28.30" y2="72.85" stroke="#111" stroke-width="0.8" opacity="0.6"/>
<text x="34.30" y="76.14" font-size="9.55" class="lg">+8.333e-01</text>
<line x1="10.20" y1="82.47" x2="24.50" y2="82.47" stroke="#111" stroke-width="0.8" opacity="0.4"/>
<line x1="24.50" y1="82.47" x2="28.30" y2="82.47" stroke="#111" stroke-width="0.8" opacity="0.85"/>
<text x="34.30" y="85.77" font-size="9.55" class="lg">+7.500e-01</text>
<line x1="10.20" y1="92.10" x2="24.50" y2="92.10" stroke="#111" stroke-width="0.8" opacity="0.4"/>
<line x1="24.50" y1="92.10" x2="28.30" y2="92.10" stroke="#111" stroke-width="0.8" opacity="0.6"/>
<text x="34.30" y="95.39" font-size="9.55" class="lg">+6.667e-01</text>
<line x1="10.20" y1="101.72" x2="24.50" y2="101.72" stroke="#111" stroke-width="0.8" opacity="0.65"/>
<line x1="24.50" y1="101.72" x2="28.30" y2="101.72" stroke="#111" stroke-width="0.8" opacity="0.85"/>
<text x="34.30" y="105.02" font-size="9.55" class="lg">+5.833e-01</text>
<line x1="10.20" y1="111.35" x2="24.50" y2="111.35" stroke="#111" stroke-width="0.8" opacity="0.65"/>
<line x1="24.50" y1="111.35" x2="28.30" y2="111.35" stroke="#111" stroke-width="0.8" opacity="0.85"/>
<text x="34.30" y="114.64" font-size="9.55" class="lg">+5.000e-01</text>
<line x1="10.20" y1="120.97" x2="24.50" y2="120.97" stroke="#111" stroke-width="0.8" opacity="0.65"/>
<line x1="24.50" y1="120.97" x2="28.30" y2="120.97" stroke="#111" stroke-width="0.8" opacity="0.85"/>
<text x="34.30" y="124.27" font-size="9.55" class="lg">+4.167e-01</text>
<line x1="10.20" y1="130.60" x2="24.50" y2="130.60" stroke="#111" stroke-width="0.8" opacity="0.4"/>
<line x1="24.50" y1="130.60" x2="28.30" y2="130.60" stroke="#111" stroke-width="0.8" opacity="0.6"/>
<text x="34.30" y="133.89" font-size="9.55" class="lg">+3.333e-01</text>
<line x1="10.20" y1="140.22" x2="24.50" y2="140.22" stroke="#111" stroke-width="0.8" opacity="0.4"/>
<line x1="24.50" y1="140.22" x2="28.30" y2="140.22" stroke="#111" stroke-width="0.8" opacity="0.6"/>
<text x="34.30" y="143.52" font-size="9.55" class="lg">+2.500e-01</text>
<line x1="10.20" y1="149.85" x2="24.50" y2="149.85" stroke="#111" stroke-width="0.8" opacity="0.4"/>
<line x1="24.50" y1="149.85" x2="28.30" y2="149.85" stroke="#111" stroke-width="0.8" opacity="0.6"/>
<text x="34.30" y="153.14" font-size="9.55" class="lg">+1.667e-01</text>
<line x1="10.20" y1="159.47" x2="24.50" y2="159.47" stroke="#111" stroke-width="0.8" opacity="0.4"/>
<line x1="24.50" y1="159.47" x2="28.30" y2="159.47" stroke="#111" stroke-width="0.8" opacity="0.6"/>
<text x="34.30" y="162.77" font-size="9.55" class="lg">+8.333e-02</text>
<line x1="10.20" y1="169.10" x2="24.50" y2="169.10" stroke="#111" stroke-width="0.8" opacity="0.65"/>
<line x1="24.50" y1="169.10" x2="28.30" y2="169.10" stroke="#111" stroke-width="0.8" opacity="0.6"/>
<text x="34.30" y="172.39" font-size="9.55" class="lg">+0.000e+00</text>
<line x1="24.50" y1="53.60" x2="24.50" y2="169.10" stroke="#111" stroke-width="0.8" opacity="0.75"/>
<line x1="10.20" y1="53.60" x2="10.20" y2="169.10" stroke="#111" stroke-width="0.6" opacity="0.4"/>
<rect x="0.50" y="246.10" width="117.00" height="178.00" fill="#fff" stroke="#8c8c8c" stroke-width="1.2"/>
<text x="10.10" y="265.60" font-size="9.74" textLength="55.0" lengthAdjust="spacingAndGlyphs" class="lg">DAMAGEFC</text>
<text x="10.10" y="278.20" font-size="9.74" textLength="96.9" lengthAdjust="spacingAndGlyphs" class="lg">Envelope (max abs)</text>
<text x="10.10" y="290.20" font-size="9.74" textLength="56.4" lengthAdjust="spacingAndGlyphs" class="lg">(Avg: 75%)</text>
<rect x="10.20" y="299.20" width="14.30" height="9.82" fill="#e4342f"/>
<rect x="10.20" y="308.82" width="14.30" height="9.82" fill="#ea6236"/>
<rect x="10.20" y="318.43" width="14.30" height="9.82" fill="#f4a541"/>
<rect x="10.20" y="328.05" width="14.30" height="9.82" fill="#d8dc4a"/>
<rect x="10.20" y="337.67" width="14.30" height="9.82" fill="#98c440"/>
<rect x="10.20" y="347.28" width="14.30" height="9.82" fill="#70b43e"/>
<rect x="10.20" y="356.90" width="14.30" height="9.82" fill="#6bb244"/>
<rect x="10.20" y="366.52" width="14.30" height="9.82" fill="#72b97c"/>
<rect x="10.20" y="376.13" width="14.30" height="9.82" fill="#73c3ae"/>
<rect x="10.20" y="385.75" width="14.30" height="9.82" fill="#4da5d6"/>
<rect x="10.20" y="395.37" width="14.30" height="9.82" fill="#4560aa"/>
<rect x="10.20" y="404.98" width="14.30" height="9.82" fill="#3f4896"/>
<line x1="10.20" y1="299.20" x2="24.50" y2="299.20" stroke="#111" stroke-width="0.8" opacity="0.65"/>
<line x1="24.50" y1="299.20" x2="28.30" y2="299.20" stroke="#111" stroke-width="0.8" opacity="0.6"/>
<text x="34.30" y="302.49" font-size="9.55" class="lg">+1.000e+00</text>
<line x1="10.20" y1="308.82" x2="24.50" y2="308.82" stroke="#111" stroke-width="0.8" opacity="0.4"/>
<line x1="24.50" y1="308.82" x2="28.30" y2="308.82" stroke="#111" stroke-width="0.8" opacity="0.85"/>
<text x="34.30" y="312.11" font-size="9.55" class="lg">+9.167e-01</text>
<line x1="10.20" y1="318.43" x2="24.50" y2="318.43" stroke="#111" stroke-width="0.8" opacity="0.4"/>
<line x1="24.50" y1="318.43" x2="28.30" y2="318.43" stroke="#111" stroke-width="0.8" opacity="0.6"/>
<text x="34.30" y="321.73" font-size="9.55" class="lg">+8.333e-01</text>
<line x1="10.20" y1="328.05" x2="24.50" y2="328.05" stroke="#111" stroke-width="0.8" opacity="0.4"/>
<line x1="24.50" y1="328.05" x2="28.30" y2="328.05" stroke="#111" stroke-width="0.8" opacity="0.85"/>
<text x="34.30" y="331.34" font-size="9.55" class="lg">+7.500e-01</text>
<line x1="10.20" y1="337.67" x2="24.50" y2="337.67" stroke="#111" stroke-width="0.8" opacity="0.4"/>
<line x1="24.50" y1="337.67" x2="28.30" y2="337.67" stroke="#111" stroke-width="0.8" opacity="0.6"/>
<text x="34.30" y="340.96" font-size="9.55" class="lg">+6.667e-01</text>
<line x1="10.20" y1="347.28" x2="24.50" y2="347.28" stroke="#111" stroke-width="0.8" opacity="0.65"/>
<line x1="24.50" y1="347.28" x2="28.30" y2="347.28" stroke="#111" stroke-width="0.8" opacity="0.85"/>
<text x="34.30" y="350.58" font-size="9.55" class="lg">+5.833e-01</text>
<line x1="10.20" y1="356.90" x2="24.50" y2="356.90" stroke="#111" stroke-width="0.8" opacity="0.65"/>
<line x1="24.50" y1="356.90" x2="28.30" y2="356.90" stroke="#111" stroke-width="0.8" opacity="0.85"/>
<text x="34.30" y="360.19" font-size="9.55" class="lg">+5.000e-01</text>
<line x1="10.20" y1="366.52" x2="24.50" y2="366.52" stroke="#111" stroke-width="0.8" opacity="0.65"/>
<line x1="24.50" y1="366.52" x2="28.30" y2="366.52" stroke="#111" stroke-width="0.8" opacity="0.85"/>
<text x="34.30" y="369.81" font-size="9.55" class="lg">+4.167e-01</text>
<line x1="10.20" y1="376.13" x2="24.50" y2="376.13" stroke="#111" stroke-width="0.8" opacity="0.4"/>
<line x1="24.50" y1="376.13" x2="28.30" y2="376.13" stroke="#111" stroke-width="0.8" opacity="0.6"/>
<text x="34.30" y="379.43" font-size="9.55" class="lg">+3.333e-01</text>
<line x1="10.20" y1="385.75" x2="24.50" y2="385.75" stroke="#111" stroke-width="0.8" opacity="0.4"/>
<line x1="24.50" y1="385.75" x2="28.30" y2="385.75" stroke="#111" stroke-width="0.8" opacity="0.6"/>
<text x="34.30" y="389.04" font-size="9.55" class="lg">+2.500e-01</text>
<line x1="10.20" y1="395.37" x2="24.50" y2="395.37" stroke="#111" stroke-width="0.8" opacity="0.4"/>
<line x1="24.50" y1="395.37" x2="28.30" y2="395.37" stroke="#111" stroke-width="0.8" opacity="0.6"/>
<text x="34.30" y="398.66" font-size="9.55" class="lg">+1.667e-01</text>
<line x1="10.20" y1="404.98" x2="24.50" y2="404.98" stroke="#111" stroke-width="0.8" opacity="0.4"/>
<line x1="24.50" y1="404.98" x2="28.30" y2="404.98" stroke="#111" stroke-width="0.8" opacity="0.6"/>
<text x="34.30" y="408.28" font-size="9.55" class="lg">+8.333e-02</text>
<line x1="10.20" y1="414.60" x2="24.50" y2="414.60" stroke="#111" stroke-width="0.8" opacity="0.65"/>
<line x1="24.50" y1="414.60" x2="28.30" y2="414.60" stroke="#111" stroke-width="0.8" opacity="0.6"/>
<text x="34.30" y="417.89" font-size="9.55" class="lg">+0.000e+00</text>
<line x1="24.50" y1="299.20" x2="24.50" y2="414.60" stroke="#111" stroke-width="0.8" opacity="0.75"/>
<line x1="10.20" y1="299.20" x2="10.20" y2="414.60" stroke="#111" stroke-width="0.6" opacity="0.4"/>
<rect x="357.50" y="246.10" width="116.50" height="178.20" fill="#fff" stroke="#8c8c8c" stroke-width="1.2"/>
<text x="367.10" y="265.60" font-size="9.74" textLength="56.6" lengthAdjust="spacingAndGlyphs" class="lg">DAMAGEMC</text>
<text x="367.10" y="278.20" font-size="9.74" textLength="96.9" lengthAdjust="spacingAndGlyphs" class="lg">Envelope (max abs)</text>
<text x="367.10" y="290.20" font-size="9.74" textLength="56.4" lengthAdjust="spacingAndGlyphs" class="lg">(Avg: 75%)</text>
<rect x="367.20" y="299.20" width="14.30" height="9.82" fill="#e4342f"/>
<rect x="367.20" y="308.82" width="14.30" height="9.82" fill="#ea6236"/>
<rect x="367.20" y="318.43" width="14.30" height="9.82" fill="#f4a541"/>
<rect x="367.20" y="328.05" width="14.30" height="9.82" fill="#d8dc4a"/>
<rect x="367.20" y="337.67" width="14.30" height="9.82" fill="#98c440"/>
<rect x="367.20" y="347.28" width="14.30" height="9.82" fill="#70b43e"/>
<rect x="367.20" y="356.90" width="14.30" height="9.82" fill="#6bb244"/>
<rect x="367.20" y="366.52" width="14.30" height="9.82" fill="#72b97c"/>
<rect x="367.20" y="376.13" width="14.30" height="9.82" fill="#73c3ae"/>
<rect x="367.20" y="385.75" width="14.30" height="9.82" fill="#4da5d6"/>
<rect x="367.20" y="395.37" width="14.30" height="9.82" fill="#4560aa"/>
<rect x="367.20" y="404.98" width="14.30" height="9.82" fill="#3f4896"/>
<line x1="367.20" y1="299.20" x2="381.50" y2="299.20" stroke="#111" stroke-width="0.8" opacity="0.65"/>
<line x1="381.50" y1="299.20" x2="385.30" y2="299.20" stroke="#111" stroke-width="0.8" opacity="0.6"/>
<text x="391.30" y="302.49" font-size="9.55" class="lg">+1.000e+00</text>
<line x1="367.20" y1="308.82" x2="381.50" y2="308.82" stroke="#111" stroke-width="0.8" opacity="0.4"/>
<line x1="381.50" y1="308.82" x2="385.30" y2="308.82" stroke="#111" stroke-width="0.8" opacity="0.85"/>
<text x="391.30" y="312.11" font-size="9.55" class="lg">+9.167e-01</text>
<line x1="367.20" y1="318.43" x2="381.50" y2="318.43" stroke="#111" stroke-width="0.8" opacity="0.4"/>
<line x1="381.50" y1="318.43" x2="385.30" y2="318.43" stroke="#111" stroke-width="0.8" opacity="0.6"/>
<text x="391.30" y="321.73" font-size="9.55" class="lg">+8.333e-01</text>
<line x1="367.20" y1="328.05" x2="381.50" y2="328.05" stroke="#111" stroke-width="0.8" opacity="0.4"/>
<line x1="381.50" y1="328.05" x2="385.30" y2="328.05" stroke="#111" stroke-width="0.8" opacity="0.85"/>
<text x="391.30" y="331.34" font-size="9.55" class="lg">+7.500e-01</text>
<line x1="367.20" y1="337.67" x2="381.50" y2="337.67" stroke="#111" stroke-width="0.8" opacity="0.4"/>
<line x1="381.50" y1="337.67" x2="385.30" y2="337.67" stroke="#111" stroke-width="0.8" opacity="0.6"/>
<text x="391.30" y="340.96" font-size="9.55" class="lg">+6.667e-01</text>
<line x1="367.20" y1="347.28" x2="381.50" y2="347.28" stroke="#111" stroke-width="0.8" opacity="0.65"/>
<line x1="381.50" y1="347.28" x2="385.30" y2="347.28" stroke="#111" stroke-width="0.8" opacity="0.85"/>
<text x="391.30" y="350.58" font-size="9.55" class="lg">+5.833e-01</text>
<line x1="367.20" y1="356.90" x2="381.50" y2="356.90" stroke="#111" stroke-width="0.8" opacity="0.65"/>
<line x1="381.50" y1="356.90" x2="385.30" y2="356.90" stroke="#111" stroke-width="0.8" opacity="0.85"/>
<text x="391.30" y="360.19" font-size="9.55" class="lg">+5.000e-01</text>
<line x1="367.20" y1="366.52" x2="381.50" y2="366.52" stroke="#111" stroke-width="0.8" opacity="0.65"/>
<line x1="381.50" y1="366.52" x2="385.30" y2="366.52" stroke="#111" stroke-width="0.8" opacity="0.85"/>
<text x="391.30" y="369.81" font-size="9.55" class="lg">+4.167e-01</text>
<line x1="367.20" y1="376.13" x2="381.50" y2="376.13" stroke="#111" stroke-width="0.8" opacity="0.4"/>
<line x1="381.50" y1="376.13" x2="385.30" y2="376.13" stroke="#111" stroke-width="0.8" opacity="0.6"/>
<text x="391.30" y="379.43" font-size="9.55" class="lg">+3.333e-01</text>
<line x1="367.20" y1="385.75" x2="381.50" y2="385.75" stroke="#111" stroke-width="0.8" opacity="0.4"/>
<line x1="381.50" y1="385.75" x2="385.30" y2="385.75" stroke="#111" stroke-width="0.8" opacity="0.6"/>
<text x="391.30" y="389.04" font-size="9.55" class="lg">+2.500e-01</text>
<line x1="367.20" y1="395.37" x2="381.50" y2="395.37" stroke="#111" stroke-width="0.8" opacity="0.4"/>
<line x1="381.50" y1="395.37" x2="385.30" y2="395.37" stroke="#111" stroke-width="0.8" opacity="0.6"/>
<text x="391.30" y="398.66" font-size="9.55" class="lg">+1.667e-01</text>
<line x1="367.20" y1="404.98" x2="381.50" y2="404.98" stroke="#111" stroke-width="0.8" opacity="0.4"/>
<line x1="381.50" y1="404.98" x2="385.30" y2="404.98" stroke="#111" stroke-width="0.8" opacity="0.6"/>
<text x="391.30" y="408.28" font-size="9.55" class="lg">+8.333e-02</text>
<line x1="367.20" y1="414.60" x2="381.50" y2="414.60" stroke="#111" stroke-width="0.8" opacity="0.65"/>
<line x1="381.50" y1="414.60" x2="385.30" y2="414.60" stroke="#111" stroke-width="0.8" opacity="0.6"/>
<text x="391.30" y="417.89" font-size="9.55" class="lg">+0.000e+00</text>
<line x1="381.50" y1="299.20" x2="381.50" y2="414.60" stroke="#111" stroke-width="0.8" opacity="0.75"/>
<line x1="367.20" y1="299.20" x2="367.20" y2="414.60" stroke="#111" stroke-width="0.6" opacity="0.4"/>
<rect x="358.50" y="0.00" width="117.00" height="177.70" fill="#fff" stroke="#8c8c8c" stroke-width="1.2"/>
<text x="368.40" y="21.30" font-size="10.25" textLength="18.6" lengthAdjust="spacingAndGlyphs" class="lg">FV1</text>
<text x="368.40" y="34.70" font-size="10.25" textLength="59.6" lengthAdjust="spacingAndGlyphs" class="lg">(Avg: 75%)</text>
<rect x="368.50" y="45.00" width="14.90" height="10.33" fill="#e4342f"/>
<rect x="368.50" y="55.13" width="14.90" height="10.33" fill="#ea6236"/>
<rect x="368.50" y="65.27" width="14.90" height="10.33" fill="#f4a541"/>
<rect x="368.50" y="75.40" width="14.90" height="10.33" fill="#d8dc4a"/>
<rect x="368.50" y="85.53" width="14.90" height="10.33" fill="#98c440"/>
<rect x="368.50" y="95.67" width="14.90" height="10.33" fill="#70b43e"/>
<rect x="368.50" y="105.80" width="14.90" height="10.33" fill="#6bb244"/>
<rect x="368.50" y="115.93" width="14.90" height="10.33" fill="#72b97c"/>
<rect x="368.50" y="126.07" width="14.90" height="10.33" fill="#73c3ae"/>
<rect x="368.50" y="136.20" width="14.90" height="10.33" fill="#4da5d6"/>
<rect x="368.50" y="146.33" width="14.90" height="10.33" fill="#4560aa"/>
<rect x="368.50" y="156.47" width="14.90" height="10.33" fill="#3f4896"/>
<line x1="368.50" y1="45.00" x2="383.40" y2="45.00" stroke="#111" stroke-width="0.8" opacity="0.65"/>
<line x1="383.40" y1="45.00" x2="388.00" y2="45.00" stroke="#111" stroke-width="0.8" opacity="0.6"/>
<text x="394.00" y="48.47" font-size="10.05" class="lg">+1.000e+00</text>
<line x1="368.50" y1="55.13" x2="383.40" y2="55.13" stroke="#111" stroke-width="0.8" opacity="0.4"/>
<line x1="383.40" y1="55.13" x2="388.00" y2="55.13" stroke="#111" stroke-width="0.8" opacity="0.85"/>
<text x="394.00" y="58.60" font-size="10.05" class="lg">+9.167e-01</text>
<line x1="368.50" y1="65.27" x2="383.40" y2="65.27" stroke="#111" stroke-width="0.8" opacity="0.4"/>
<line x1="383.40" y1="65.27" x2="388.00" y2="65.27" stroke="#111" stroke-width="0.8" opacity="0.6"/>
<text x="394.00" y="68.73" font-size="10.05" class="lg">+8.333e-01</text>
<line x1="368.50" y1="75.40" x2="383.40" y2="75.40" stroke="#111" stroke-width="0.8" opacity="0.4"/>
<line x1="383.40" y1="75.40" x2="388.00" y2="75.40" stroke="#111" stroke-width="0.8" opacity="0.85"/>
<text x="394.00" y="78.87" font-size="10.05" class="lg">+7.500e-01</text>
<line x1="368.50" y1="85.53" x2="383.40" y2="85.53" stroke="#111" stroke-width="0.8" opacity="0.4"/>
<line x1="383.40" y1="85.53" x2="388.00" y2="85.53" stroke="#111" stroke-width="0.8" opacity="0.6"/>
<text x="394.00" y="89.00" font-size="10.05" class="lg">+6.667e-01</text>
<line x1="368.50" y1="95.67" x2="383.40" y2="95.67" stroke="#111" stroke-width="0.8" opacity="0.65"/>
<line x1="383.40" y1="95.67" x2="388.00" y2="95.67" stroke="#111" stroke-width="0.8" opacity="0.85"/>
<text x="394.00" y="99.13" font-size="10.05" class="lg">+5.833e-01</text>
<line x1="368.50" y1="105.80" x2="383.40" y2="105.80" stroke="#111" stroke-width="0.8" opacity="0.65"/>
<line x1="383.40" y1="105.80" x2="388.00" y2="105.80" stroke="#111" stroke-width="0.8" opacity="0.85"/>
<text x="394.00" y="109.27" font-size="10.05" class="lg">+5.000e-01</text>
<line x1="368.50" y1="115.93" x2="383.40" y2="115.93" stroke="#111" stroke-width="0.8" opacity="0.65"/>
<line x1="383.40" y1="115.93" x2="388.00" y2="115.93" stroke="#111" stroke-width="0.8" opacity="0.85"/>
<text x="394.00" y="119.40" font-size="10.05" class="lg">+4.167e-01</text>
<line x1="368.50" y1="126.07" x2="383.40" y2="126.07" stroke="#111" stroke-width="0.8" opacity="0.4"/>
<line x1="383.40" y1="126.07" x2="388.00" y2="126.07" stroke="#111" stroke-width="0.8" opacity="0.6"/>
<text x="394.00" y="129.53" font-size="10.05" class="lg">+3.333e-01</text>
<line x1="368.50" y1="136.20" x2="383.40" y2="136.20" stroke="#111" stroke-width="0.8" opacity="0.4"/>
<line x1="383.40" y1="136.20" x2="388.00" y2="136.20" stroke="#111" stroke-width="0.8" opacity="0.6"/>
<text x="394.00" y="139.67" font-size="10.05" class="lg">+2.500e-01</text>
<line x1="368.50" y1="146.33" x2="383.40" y2="146.33" stroke="#111" stroke-width="0.8" opacity="0.4"/>
<line x1="383.40" y1="146.33" x2="388.00" y2="146.33" stroke="#111" stroke-width="0.8" opacity="0.6"/>
<text x="394.00" y="149.80" font-size="10.05" class="lg">+1.667e-01</text>
<line x1="368.50" y1="156.47" x2="383.40" y2="156.47" stroke="#111" stroke-width="0.8" opacity="0.4"/>
<line x1="383.40" y1="156.47" x2="388.00" y2="156.47" stroke="#111" stroke-width="0.8" opacity="0.6"/>
<text x="394.00" y="159.93" font-size="10.05" class="lg">+8.333e-02</text>
<line x1="368.50" y1="166.60" x2="383.40" y2="166.60" stroke="#111" stroke-width="0.8" opacity="0.65"/>
<line x1="383.40" y1="166.60" x2="388.00" y2="166.60" stroke="#111" stroke-width="0.8" opacity="0.6"/>
<text x="394.00" y="170.07" font-size="10.05" class="lg">+0.000e+00</text>
<line x1="383.40" y1="45.00" x2="383.40" y2="166.60" stroke="#111" stroke-width="0.8" opacity="0.75"/>
<line x1="368.50" y1="45.00" x2="368.50" y2="166.60" stroke="#111" stroke-width="0.6" opacity="0.4"/>
<text x="42.2" y="215.5" class="cap" xml:space="preserve"><tspan class="lat" dy="-1.1">(a)</tspan><tspan dy="1.1"> 补片基体拉伸破坏</tspan></text>
<text x="437.5" y="215.5" class="cap" xml:space="preserve"><tspan class="lat" dy="-1.1">(b)</tspan><tspan dy="1.1"> 蜂窝局部压溃</tspan></text>
<text x="30.1" y="463.6" class="cap" xml:space="preserve"><tspan class="lat" dy="-1.1">(c)</tspan><tspan dy="1.1"> 上层板纤维压缩破坏</tspan></text>
<text x="399.8" y="463.6" class="cap" xml:space="preserve"><tspan class="lat" dy="-1.1">(d)</tspan><tspan dy="1.1"> 上层板基体压缩破坏</tspan></text>
</svg>
</body>
</html>
